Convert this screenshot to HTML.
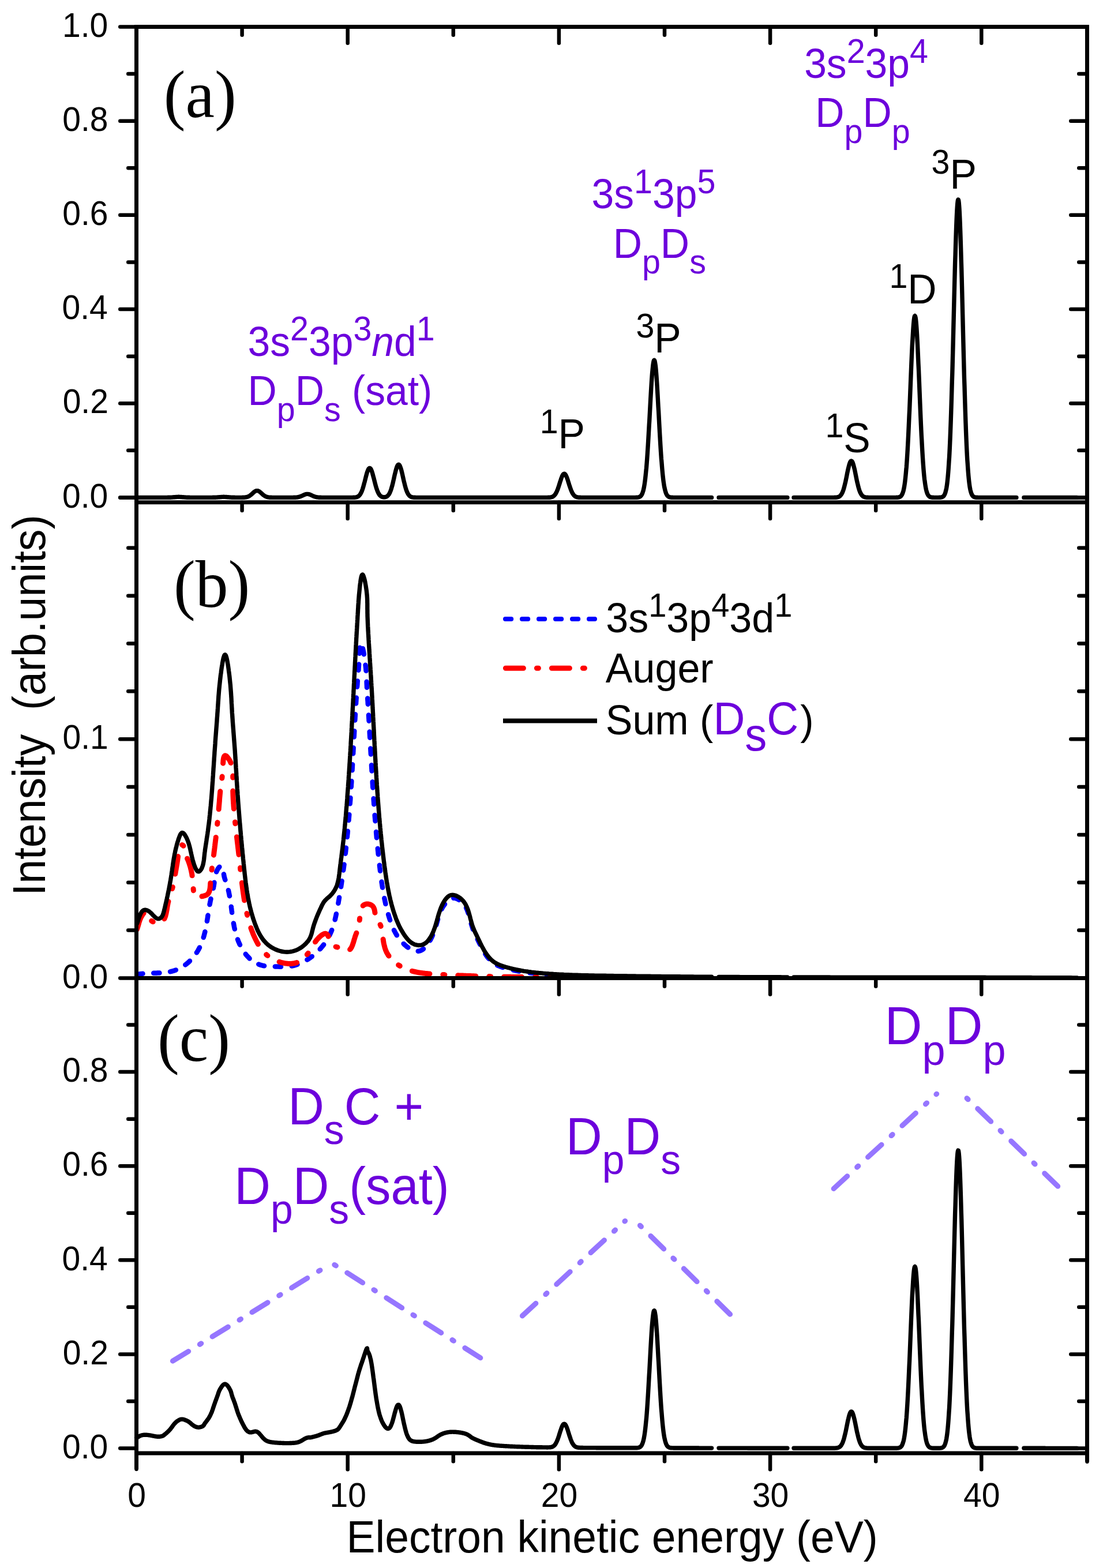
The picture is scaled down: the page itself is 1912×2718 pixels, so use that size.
<!DOCTYPE html>
<html><head><meta charset="utf-8"><title>Electron kinetic energy spectra</title>
<style>html,body{margin:0;padding:0;background:#fff;}svg{display:block;} text{white-space:pre;}</style></head>
<body><svg width="1912" height="2718" viewBox="0 0 1912 2718"><path d="M236.5,862.4 L236.9,862.4 L237.3,862.4 L237.7,862.4 L238.1,862.4 L238.5,862.4 L238.9,862.4 L239.4,862.4 L239.8,862.4 L240.2,862.4 L240.6,862.4 L241.0,862.4 L241.4,862.4 L241.8,862.4 L242.2,862.4 L242.6,862.4 L243.0,862.4 L243.4,862.4 L243.8,862.4 L244.2,862.4 L244.7,862.4 L245.1,862.4 L245.5,862.4 L245.9,862.4 L246.3,862.4 L246.7,862.4 L247.1,862.4 L247.5,862.4 L247.9,862.4 L248.3,862.4 L248.7,862.4 L249.1,862.4 L249.5,862.4 L250.0,862.4 L250.4,862.4 L250.8,862.4 L251.2,862.4 L251.6,862.4 L252.0,862.4 L252.4,862.4 L252.8,862.4 L253.2,862.4 L253.6,862.4 L254.0,862.4 L254.4,862.4 L254.8,862.4 L255.3,862.4 L255.7,862.4 L256.1,862.4 L256.5,862.4 L256.9,862.4 L257.3,862.4 L257.7,862.4 L258.1,862.4 L258.5,862.4 L258.9,862.4 L259.3,862.4 L259.7,862.4 L260.1,862.4 L260.6,862.4 L261.0,862.4 L261.4,862.4 L261.8,862.4 L262.2,862.4 L262.6,862.4 L263.0,862.4 L263.4,862.4 L263.8,862.4 L264.2,862.4 L264.6,862.4 L265.0,862.4 L265.4,862.4 L265.9,862.4 L266.3,862.4 L266.7,862.4 L267.1,862.4 L267.5,862.4 L267.9,862.4 L268.3,862.4 L268.7,862.4 L269.1,862.4 L269.5,862.4 L269.9,862.4 L270.3,862.4 L270.7,862.4 L271.2,862.4 L271.6,862.4 L272.0,862.4 L272.4,862.4 L272.8,862.4 L273.2,862.4 L273.6,862.4 L274.0,862.4 L274.4,862.4 L274.8,862.4 L275.2,862.4 L275.6,862.4 L276.0,862.4 L276.5,862.4 L276.9,862.4 L277.3,862.4 L277.7,862.4 L278.1,862.4 L278.5,862.4 L278.9,862.4 L279.3,862.4 L279.7,862.4 L280.1,862.4 L280.5,862.4 L280.9,862.4 L281.3,862.4 L281.8,862.4 L282.2,862.4 L282.6,862.4 L283.0,862.4 L283.4,862.4 L283.8,862.4 L284.2,862.4 L284.6,862.4 L285.0,862.4 L285.4,862.4 L285.8,862.4 L286.2,862.4 L286.6,862.4 L287.1,862.4 L287.5,862.4 L287.9,862.4 L288.3,862.4 L288.7,862.4 L289.1,862.4 L289.5,862.4 L289.9,862.4 L290.3,862.4 L290.7,862.3 L291.1,862.3 L291.5,862.3 L291.9,862.3 L292.4,862.3 L292.8,862.3 L293.2,862.3 L293.6,862.3 L294.0,862.3 L294.4,862.2 L294.8,862.2 L295.2,862.2 L295.6,862.2 L296.0,862.2 L296.4,862.2 L296.8,862.1 L297.2,862.1 L297.7,862.1 L298.1,862.1 L298.5,862.0 L298.9,862.0 L299.3,862.0 L299.7,861.9 L300.1,861.9 L300.5,861.9 L300.9,861.8 L301.3,861.8 L301.7,861.8 L302.1,861.7 L302.5,861.7 L303.0,861.7 L303.4,861.6 L303.8,861.6 L304.2,861.6 L304.6,861.5 L305.0,861.5 L305.4,861.5 L305.8,861.5 L306.2,861.4 L306.6,861.4 L307.0,861.4 L307.4,861.4 L307.8,861.4 L308.3,861.4 L308.7,861.3 L309.1,861.3 L309.5,861.3 L309.9,861.3 L310.3,861.3 L310.7,861.3 L311.1,861.4 L311.5,861.4 L311.9,861.4 L312.3,861.4 L312.7,861.4 L313.1,861.4 L313.6,861.5 L314.0,861.5 L314.4,861.5 L314.8,861.5 L315.2,861.6 L315.6,861.6 L316.0,861.6 L316.4,861.7 L316.8,861.7 L317.2,861.7 L317.6,861.8 L318.0,861.8 L318.4,861.8 L318.9,861.9 L319.3,861.9 L319.7,861.9 L320.1,862.0 L320.5,862.0 L320.9,862.0 L321.3,862.0 L321.7,862.1 L322.1,862.1 L322.5,862.1 L322.9,862.1 L323.3,862.2 L323.7,862.2 L324.2,862.2 L324.6,862.2 L325.0,862.2 L325.4,862.3 L325.8,862.3 L326.2,862.3 L326.6,862.3 L327.0,862.3 L327.4,862.3 L327.8,862.3 L328.2,862.3 L328.6,862.3 L329.0,862.4 L329.5,862.4 L329.9,862.4 L330.3,862.4 L330.7,862.4 L331.1,862.4 L331.5,862.4 L331.9,862.4 L332.3,862.4 L332.7,862.4 L333.1,862.4 L333.5,862.4 L333.9,862.4 L334.3,862.4 L334.8,862.4 L335.2,862.4 L335.6,862.4 L336.0,862.4 L336.4,862.4 L336.8,862.4 L337.2,862.4 L337.6,862.4 L338.0,862.4 L338.4,862.4 L338.8,862.4 L339.2,862.4 L339.6,862.4 L340.1,862.4 L340.5,862.4 L340.9,862.4 L341.3,862.4 L341.7,862.4 L342.1,862.4 L342.5,862.4 L342.9,862.4 L343.3,862.4 L343.7,862.4 L344.1,862.4 L344.5,862.4 L344.9,862.4 L345.4,862.4 L345.8,862.4 L346.2,862.4 L346.6,862.4 L347.0,862.4 L347.4,862.4 L347.8,862.4 L348.2,862.4 L348.6,862.4 L349.0,862.4 L349.4,862.4 L349.8,862.4 L350.2,862.4 L350.7,862.4 L351.1,862.4 L351.5,862.4 L351.9,862.4 L352.3,862.4 L352.7,862.4 L353.1,862.4 L353.5,862.4 L353.9,862.4 L354.3,862.4 L354.7,862.4 L355.1,862.4 L355.5,862.4 L356.0,862.4 L356.4,862.4 L356.8,862.4 L357.2,862.4 L357.6,862.4 L358.0,862.4 L358.4,862.4 L358.8,862.4 L359.2,862.4 L359.6,862.4 L360.0,862.4 L360.4,862.4 L360.8,862.4 L361.3,862.4 L361.7,862.4 L362.1,862.4 L362.5,862.4 L362.9,862.4 L363.3,862.4 L363.7,862.4 L364.1,862.4 L364.5,862.4 L364.9,862.4 L365.3,862.4 L365.7,862.4 L366.1,862.4 L366.6,862.4 L367.0,862.4 L367.4,862.4 L367.8,862.4 L368.2,862.4 L368.6,862.3 L369.0,862.3 L369.4,862.3 L369.8,862.3 L370.2,862.3 L370.6,862.3 L371.0,862.3 L371.4,862.3 L371.9,862.3 L372.3,862.3 L372.7,862.2 L373.1,862.2 L373.5,862.2 L373.9,862.2 L374.3,862.2 L374.7,862.1 L375.1,862.1 L375.5,862.1 L375.9,862.1 L376.3,862.0 L376.7,862.0 L377.2,862.0 L377.6,862.0 L378.0,861.9 L378.4,861.9 L378.8,861.9 L379.2,861.8 L379.6,861.8 L380.0,861.8 L380.4,861.7 L380.8,861.7 L381.2,861.7 L381.6,861.6 L382.0,861.6 L382.5,861.6 L382.9,861.5 L383.3,861.5 L383.7,861.5 L384.1,861.5 L384.5,861.4 L384.9,861.4 L385.3,861.4 L385.7,861.4 L386.1,861.4 L386.5,861.4 L386.9,861.3 L387.3,861.3 L387.8,861.3 L388.2,861.3 L388.6,861.3 L389.0,861.4 L389.4,861.4 L389.8,861.4 L390.2,861.4 L390.6,861.4 L391.0,861.4 L391.4,861.5 L391.8,861.5 L392.2,861.5 L392.6,861.5 L393.1,861.6 L393.5,861.6 L393.9,861.6 L394.3,861.7 L394.7,861.7 L395.1,861.7 L395.5,861.8 L395.9,861.8 L396.3,861.8 L396.7,861.9 L397.1,861.9 L397.5,861.9 L397.9,862.0 L398.3,862.0 L398.8,862.0 L399.2,862.0 L399.6,862.1 L400.0,862.1 L400.4,862.1 L400.8,862.1 L401.2,862.2 L401.6,862.2 L402.0,862.2 L402.4,862.2 L402.8,862.2 L403.2,862.3 L403.6,862.3 L404.1,862.3 L404.5,862.3 L404.9,862.3 L405.3,862.3 L405.7,862.3 L406.1,862.3 L406.5,862.3 L406.9,862.3 L407.3,862.4 L407.7,862.4 L408.1,862.4 L408.5,862.4 L408.9,862.4 L409.4,862.4 L409.8,862.4 L410.2,862.4 L410.6,862.4 L411.0,862.4 L411.4,862.4 L411.8,862.4 L412.2,862.4 L412.6,862.4 L413.0,862.4 L413.4,862.4 L413.8,862.4 L414.2,862.4 L414.7,862.4 L415.1,862.4 L415.5,862.4 L415.9,862.4 L416.3,862.4 L416.7,862.4 L417.1,862.4 L417.5,862.4 L417.9,862.4 L418.3,862.4 L418.7,862.4 L419.1,862.4 L419.5,862.4 L420.0,862.3 L420.4,862.3 L420.8,862.3 L421.2,862.3 L421.6,862.3 L422.0,862.3 L422.4,862.3 L422.8,862.2 L423.2,862.2 L423.6,862.2 L424.0,862.1 L424.4,862.1 L424.8,862.1 L425.3,862.0 L425.7,862.0 L426.1,861.9 L426.5,861.8 L426.9,861.7 L427.3,861.7 L427.7,861.6 L428.1,861.5 L428.5,861.3 L428.9,861.2 L429.3,861.1 L429.7,860.9 L430.1,860.8 L430.6,860.6 L431.0,860.4 L431.4,860.2 L431.8,860.0 L432.2,859.7 L432.6,859.5 L433.0,859.2 L433.4,858.9 L433.8,858.6 L434.2,858.3 L434.6,858.0 L435.0,857.7 L435.4,857.4 L435.9,857.0 L436.3,856.6 L436.7,856.3 L437.1,855.9 L437.5,855.5 L437.9,855.2 L438.3,854.8 L438.7,854.4 L439.1,854.0 L439.5,853.7 L439.9,853.3 L440.3,853.0 L440.7,852.7 L441.2,852.4 L441.6,852.1 L442.0,851.8 L442.4,851.5 L442.8,851.3 L443.2,851.1 L443.6,851.0 L444.0,850.8 L444.4,850.7 L444.8,850.6 L445.2,850.6 L445.6,850.6 L446.0,850.6 L446.5,850.6 L446.9,850.7 L447.3,850.8 L447.7,851.0 L448.1,851.2 L448.5,851.4 L448.9,851.6 L449.3,851.8 L449.7,852.1 L450.1,852.4 L450.5,852.7 L450.9,853.1 L451.3,853.4 L451.8,853.8 L452.2,854.1 L452.6,854.5 L453.0,854.9 L453.4,855.2 L453.8,855.6 L454.2,856.0 L454.6,856.4 L455.0,856.7 L455.4,857.1 L455.8,857.4 L456.2,857.8 L456.6,858.1 L457.1,858.4 L457.5,858.7 L457.9,859.0 L458.3,859.3 L458.7,859.5 L459.1,859.8 L459.5,860.0 L459.9,860.2 L460.3,860.4 L460.7,860.6 L461.1,860.8 L461.5,861.0 L461.9,861.1 L462.4,861.2 L462.8,861.4 L463.2,861.5 L463.6,861.6 L464.0,861.7 L464.4,861.8 L464.8,861.8 L465.2,861.9 L465.6,862.0 L466.0,862.0 L466.4,862.1 L466.8,862.1 L467.2,862.2 L467.7,862.2 L468.1,862.2 L468.5,862.2 L468.9,862.3 L469.3,862.3 L469.7,862.3 L470.1,862.3 L470.5,862.3 L470.9,862.3 L471.3,862.4 L471.7,862.4 L472.1,862.4 L472.5,862.4 L473.0,862.4 L473.4,862.4 L473.8,862.4 L474.2,862.4 L474.6,862.4 L475.0,862.4 L475.4,862.4 L475.8,862.4 L476.2,862.4 L476.6,862.4 L477.0,862.4 L477.4,862.4 L477.8,862.4 L478.3,862.4 L478.7,862.4 L479.1,862.4 L479.5,862.4 L479.9,862.4 L480.3,862.4 L480.7,862.4 L481.1,862.4 L481.5,862.4 L481.9,862.4 L482.3,862.4 L482.7,862.4 L483.1,862.4 L483.6,862.4 L484.0,862.4 L484.4,862.4 L484.8,862.4 L485.2,862.4 L485.6,862.4 L486.0,862.4 L486.4,862.4 L486.8,862.4 L487.2,862.4 L487.6,862.4 L488.0,862.4 L488.4,862.4 L488.9,862.4 L489.3,862.4 L489.7,862.4 L490.1,862.4 L490.5,862.4 L490.9,862.4 L491.3,862.4 L491.7,862.4 L492.1,862.4 L492.5,862.4 L492.9,862.4 L493.3,862.4 L493.7,862.4 L494.2,862.4 L494.6,862.4 L495.0,862.4 L495.4,862.4 L495.8,862.4 L496.2,862.4 L496.6,862.4 L497.0,862.4 L497.4,862.4 L497.8,862.4 L498.2,862.4 L498.6,862.4 L499.0,862.4 L499.5,862.4 L499.9,862.4 L500.3,862.4 L500.7,862.4 L501.1,862.4 L501.5,862.4 L501.9,862.4 L502.3,862.4 L502.7,862.4 L503.1,862.4 L503.5,862.4 L503.9,862.4 L504.3,862.4 L504.8,862.4 L505.2,862.4 L505.6,862.4 L506.0,862.4 L506.4,862.4 L506.8,862.4 L507.2,862.4 L507.6,862.4 L508.0,862.4 L508.4,862.4 L508.8,862.3 L509.2,862.3 L509.6,862.3 L510.1,862.3 L510.5,862.3 L510.9,862.3 L511.3,862.3 L511.7,862.2 L512.1,862.2 L512.5,862.2 L512.9,862.2 L513.3,862.1 L513.7,862.1 L514.1,862.1 L514.5,862.0 L514.9,862.0 L515.4,861.9 L515.8,861.8 L516.2,861.8 L516.6,861.7 L517.0,861.6 L517.4,861.5 L517.8,861.5 L518.2,861.4 L518.6,861.2 L519.0,861.1 L519.4,861.0 L519.8,860.9 L520.2,860.7 L520.7,860.6 L521.1,860.5 L521.5,860.3 L521.9,860.1 L522.3,860.0 L522.7,859.8 L523.1,859.6 L523.5,859.4 L523.9,859.2 L524.3,859.0 L524.7,858.9 L525.1,858.7 L525.5,858.5 L526.0,858.3 L526.4,858.1 L526.8,857.9 L527.2,857.7 L527.6,857.6 L528.0,857.4 L528.4,857.2 L528.8,857.1 L529.2,857.0 L529.6,856.8 L530.0,856.7 L530.4,856.6 L530.8,856.5 L531.3,856.5 L531.7,856.4 L532.1,856.4 L532.5,856.4 L532.9,856.4 L533.3,856.4 L533.7,856.4 L534.1,856.5 L534.5,856.5 L534.9,856.6 L535.3,856.7 L535.7,856.8 L536.1,856.9 L536.6,857.0 L537.0,857.2 L537.4,857.3 L537.8,857.5 L538.2,857.7 L538.6,857.8 L539.0,858.0 L539.4,858.2 L539.8,858.4 L540.2,858.6 L540.6,858.8 L541.0,859.0 L541.4,859.2 L541.9,859.4 L542.3,859.5 L542.7,859.7 L543.1,859.9 L543.5,860.1 L543.9,860.2 L544.3,860.4 L544.7,860.5 L545.1,860.7 L545.5,860.8 L545.9,861.0 L546.3,861.1 L546.7,861.2 L547.2,861.3 L547.6,861.4 L548.0,861.5 L548.4,861.6 L548.8,861.7 L549.2,861.8 L549.6,861.8 L550.0,861.9 L550.4,861.9 L550.8,862.0 L551.2,862.0 L551.6,862.1 L552.0,862.1 L552.5,862.2 L552.9,862.2 L553.3,862.2 L553.7,862.2 L554.1,862.3 L554.5,862.3 L554.9,862.3 L555.3,862.3 L555.7,862.3 L556.1,862.3 L556.5,862.3 L556.9,862.4 L557.3,862.4 L557.8,862.4 L558.2,862.4 L558.6,862.4 L559.0,862.4 L559.4,862.4 L559.8,862.4 L560.2,862.4 L560.6,862.4 L561.0,862.4 L561.4,862.4 L561.8,862.4 L562.2,862.4 L562.6,862.4 L563.1,862.4 L563.5,862.4 L563.9,862.4 L564.3,862.4 L564.7,862.4 L565.1,862.4 L565.5,862.4 L565.9,862.4 L566.3,862.4 L566.7,862.4 L567.1,862.4 L567.5,862.4 L567.9,862.4 L568.4,862.4 L568.8,862.4 L569.2,862.4 L569.6,862.4 L570.0,862.4 L570.4,862.4 L570.8,862.4 L571.2,862.4 L571.6,862.4 L572.0,862.4 L572.4,862.4 L572.8,862.4 L573.2,862.4 L573.7,862.4 L574.1,862.4 L574.5,862.4 L574.9,862.4 L575.3,862.4 L575.7,862.4 L576.1,862.4 L576.5,862.4 L576.9,862.4 L577.3,862.4 L577.7,862.4 L578.1,862.4 L578.5,862.4 L579.0,862.4 L579.4,862.4 L579.8,862.4 L580.2,862.4 L580.6,862.4 L581.0,862.4 L581.4,862.4 L581.8,862.4 L582.2,862.4 L582.6,862.4 L583.0,862.4 L583.4,862.4 L583.8,862.4 L584.3,862.4 L584.7,862.4 L585.1,862.4 L585.5,862.4 L585.9,862.4 L586.3,862.4 L586.7,862.4 L587.1,862.4 L587.5,862.4 L587.9,862.4 L588.3,862.4 L588.7,862.4 L589.1,862.4 L589.6,862.4 L590.0,862.4 L590.4,862.4 L590.8,862.4 L591.2,862.4 L591.6,862.4 L592.0,862.4 L592.4,862.4 L592.8,862.4 L593.2,862.4 L593.6,862.4 L594.0,862.4 L594.4,862.4 L594.9,862.4 L595.3,862.4 L595.7,862.4 L596.1,862.4 L596.5,862.4 L596.9,862.4 L597.3,862.4 L597.7,862.4 L598.1,862.4 L598.5,862.4 L598.9,862.4 L599.3,862.4 L599.7,862.4 L600.2,862.4 L600.6,862.4 L601.0,862.4 L601.4,862.4 L601.8,862.4 L602.2,862.4 L602.6,862.4 L603.0,862.4 L603.4,862.4 L603.8,862.4 L604.2,862.4 L604.6,862.4 L605.0,862.4 L605.5,862.4 L605.9,862.4 L606.3,862.4 L606.7,862.4 L607.1,862.4 L607.5,862.4 L607.9,862.4 L608.3,862.4 L608.7,862.4 L609.1,862.4 L609.5,862.4 L609.9,862.4 L610.3,862.4 L610.8,862.4 L611.2,862.4 L611.6,862.4 L612.0,862.3 L612.4,862.3 L612.8,862.3 L613.2,862.3 L613.6,862.3 L614.0,862.3 L614.4,862.2 L614.8,862.2 L615.2,862.2 L615.6,862.1 L616.1,862.1 L616.5,862.0 L616.9,862.0 L617.3,861.9 L617.7,861.8 L618.1,861.7 L618.5,861.6 L618.9,861.4 L619.3,861.3 L619.7,861.1 L620.1,860.9 L620.5,860.7 L620.9,860.4 L621.4,860.2 L621.8,859.8 L622.2,859.5 L622.6,859.1 L623.0,858.7 L623.4,858.2 L623.8,857.7 L624.2,857.1 L624.6,856.5 L625.0,855.9 L625.4,855.1 L625.8,854.4 L626.2,853.5 L626.7,852.6 L627.1,851.7 L627.5,850.6 L627.9,849.5 L628.3,848.4 L628.7,847.2 L629.1,845.9 L629.5,844.6 L629.9,843.2 L630.3,841.8 L630.7,840.3 L631.1,838.8 L631.5,837.2 L632.0,835.7 L632.4,834.0 L632.8,832.4 L633.2,830.8 L633.6,829.2 L634.0,827.6 L634.4,826.0 L634.8,824.5 L635.2,823.0 L635.6,821.5 L636.0,820.1 L636.4,818.8 L636.8,817.6 L637.3,816.4 L637.7,815.4 L638.1,814.4 L638.5,813.6 L638.9,812.9 L639.3,812.3 L639.7,811.9 L640.1,811.6 L640.5,811.4 L640.9,811.4 L641.3,811.5 L641.7,811.8 L642.1,812.2 L642.6,812.7 L643.0,813.4 L643.4,814.1 L643.8,815.0 L644.2,816.0 L644.6,817.2 L645.0,818.4 L645.4,819.7 L645.8,821.0 L646.2,822.5 L646.6,824.0 L647.0,825.5 L647.4,827.1 L647.9,828.7 L648.3,830.3 L648.7,831.9 L649.1,833.5 L649.5,835.1 L649.9,836.7 L650.3,838.3 L650.7,839.8 L651.1,841.3 L651.5,842.7 L651.9,844.1 L652.3,845.5 L652.7,846.8 L653.2,848.0 L653.6,849.2 L654.0,850.3 L654.4,851.3 L654.8,852.3 L655.2,853.2 L655.6,854.1 L656.0,854.9 L656.4,855.6 L656.8,856.3 L657.2,856.9 L657.6,857.5 L658.0,858.1 L658.5,858.5 L658.9,859.0 L659.3,859.4 L659.7,859.7 L660.1,860.0 L660.5,860.3 L660.9,860.6 L661.3,860.8 L661.7,861.0 L662.1,861.2 L662.5,861.3 L662.9,861.4 L663.3,861.5 L663.8,861.6 L664.2,861.7 L664.6,861.7 L665.0,861.8 L665.4,861.8 L665.8,861.8 L666.2,861.8 L666.6,861.8 L667.0,861.7 L667.4,861.7 L667.8,861.6 L668.2,861.5 L668.6,861.4 L669.1,861.3 L669.5,861.1 L669.9,860.9 L670.3,860.7 L670.7,860.5 L671.1,860.2 L671.5,859.9 L671.9,859.5 L672.3,859.2 L672.7,858.7 L673.1,858.3 L673.5,857.7 L673.9,857.2 L674.4,856.6 L674.8,855.9 L675.2,855.1 L675.6,854.3 L676.0,853.5 L676.4,852.5 L676.8,851.5 L677.2,850.4 L677.6,849.3 L678.0,848.1 L678.4,846.8 L678.8,845.4 L679.2,844.0 L679.7,842.5 L680.1,841.0 L680.5,839.4 L680.9,837.8 L681.3,836.1 L681.7,834.3 L682.1,832.5 L682.5,830.8 L682.9,828.9 L683.3,827.1 L683.7,825.3 L684.1,823.5 L684.5,821.7 L685.0,820.0 L685.4,818.3 L685.8,816.7 L686.2,815.1 L686.6,813.6 L687.0,812.3 L687.4,811.0 L687.8,809.8 L688.2,808.7 L688.6,807.8 L689.0,807.0 L689.4,806.4 L689.8,805.9 L690.3,805.5 L690.7,805.3 L691.1,805.3 L691.5,805.4 L691.9,805.7 L692.3,806.1 L692.7,806.7 L693.1,807.4 L693.5,808.3 L693.9,809.3 L694.3,810.4 L694.7,811.7 L695.1,813.0 L695.6,814.4 L696.0,816.0 L696.4,817.6 L696.8,819.2 L697.2,821.0 L697.6,822.7 L698.0,824.5 L698.4,826.3 L698.8,828.1 L699.2,829.9 L699.6,831.7 L700.0,833.5 L700.4,835.3 L700.9,837.0 L701.3,838.7 L701.7,840.3 L702.1,841.9 L702.5,843.4 L702.9,844.8 L703.3,846.2 L703.7,847.5 L704.1,848.8 L704.5,849.9 L704.9,851.0 L705.3,852.1 L705.7,853.0 L706.2,853.9 L706.6,854.8 L707.0,855.5 L707.4,856.3 L707.8,856.9 L708.2,857.5 L708.6,858.0 L709.0,858.5 L709.4,859.0 L709.8,859.4 L710.2,859.8 L710.6,860.1 L711.0,860.4 L711.5,860.6 L711.9,860.9 L712.3,861.1 L712.7,861.2 L713.1,861.4 L713.5,861.5 L713.9,861.7 L714.3,861.8 L714.7,861.9 L715.1,861.9 L715.5,862.0 L715.9,862.1 L716.3,862.1 L716.8,862.2 L717.2,862.2 L717.6,862.2 L718.0,862.3 L718.4,862.3 L718.8,862.3 L719.2,862.3 L719.6,862.3 L720.0,862.3 L720.4,862.4 L720.8,862.4 L721.2,862.4 L721.6,862.4 L722.0,862.4 L722.5,862.4 L722.9,862.4 L723.3,862.4 L723.7,862.4 L724.1,862.4 L724.5,862.4 L724.9,862.4 L725.3,862.4 L725.7,862.4 L726.1,862.4 L726.5,862.4 L726.9,862.4 L727.3,862.4 L727.8,862.4 L728.2,862.4 L728.6,862.4 L729.0,862.4 L729.4,862.4 L729.8,862.4 L730.2,862.4 L730.6,862.4 L731.0,862.4 L731.4,862.4 L731.8,862.4 L732.2,862.4 L732.6,862.4 L733.1,862.4 L733.5,862.4 L733.9,862.4 L734.3,862.4 L734.7,862.4 L735.1,862.4 L735.5,862.4 L735.9,862.4 L736.3,862.4 L736.7,862.4 L737.1,862.4 L737.5,862.4 L737.9,862.4 L738.4,862.4 L738.8,862.4 L739.2,862.4 L739.6,862.4 L740.0,862.4 L740.4,862.4 L740.8,862.4 L741.2,862.4 L741.6,862.4 L742.0,862.4 L742.4,862.4 L742.8,862.4 L743.2,862.4 L743.7,862.4 L744.1,862.4 L744.5,862.4 L744.9,862.4 L745.3,862.4 L745.7,862.4 L746.1,862.4 L746.5,862.4 L746.9,862.4 L747.3,862.4 L747.7,862.4 L748.1,862.4 L748.5,862.4 L749.0,862.4 L749.4,862.4 L749.8,862.4 L750.2,862.4 L750.6,862.4 L751.0,862.4 L751.4,862.4 L751.8,862.4 L752.2,862.4 L752.6,862.4 L753.0,862.4 L753.4,862.4 L753.8,862.4 L754.3,862.4 L754.7,862.4 L755.1,862.4 L755.5,862.4 L755.9,862.4 L756.3,862.4 L756.7,862.4 L757.1,862.4 L757.5,862.4 L757.9,862.4 L758.3,862.4 L758.7,862.4 L759.1,862.4 L759.6,862.4 L760.0,862.4 L760.4,862.4 L760.8,862.4 L761.2,862.4 L761.6,862.4 L762.0,862.4 L762.4,862.4 L762.8,862.4 L763.2,862.4 L763.6,862.4 L764.0,862.4 L764.4,862.4 L764.9,862.4 L765.3,862.4 L765.7,862.4 L766.1,862.4 L766.5,862.4 L766.9,862.4 L767.3,862.4 L767.7,862.4 L768.1,862.4 L768.5,862.4 L768.9,862.4 L769.3,862.4 L769.7,862.4 L770.2,862.4 L770.6,862.4 L771.0,862.4 L771.4,862.4 L771.8,862.4 L772.2,862.4 L772.6,862.4 L773.0,862.4 L773.4,862.4 L773.8,862.4 L774.2,862.4 L774.6,862.4 L775.0,862.4 L775.5,862.4 L775.9,862.4 L776.3,862.4 L776.7,862.4 L777.1,862.4 L777.5,862.4 L777.9,862.4 L778.3,862.4 L778.7,862.4 L779.1,862.4 L779.5,862.4 L779.9,862.4 L780.3,862.4 L780.8,862.4 L781.2,862.4 L781.6,862.4 L782.0,862.4 L782.4,862.4 L782.8,862.4 L783.2,862.4 L783.6,862.4 L784.0,862.4 L784.4,862.4 L784.8,862.4 L785.2,862.4 L785.6,862.4 L786.1,862.4 L786.5,862.4 L786.9,862.4 L787.3,862.4 L787.7,862.4 L788.1,862.4 L788.5,862.4 L788.9,862.4 L789.3,862.4 L789.7,862.4 L790.1,862.4 L790.5,862.4 L790.9,862.4 L791.4,862.4 L791.8,862.4 L792.2,862.4 L792.6,862.4 L793.0,862.4 L793.4,862.4 L793.8,862.4 L794.2,862.4 L794.6,862.4 L795.0,862.4 L795.4,862.4 L795.8,862.4 L796.2,862.4 L796.7,862.4 L797.1,862.4 L797.5,862.4 L797.9,862.4 L798.3,862.4 L798.7,862.4 L799.1,862.4 L799.5,862.4 L799.9,862.4 L800.3,862.4 L800.7,862.4 L801.1,862.4 L801.5,862.4 L802.0,862.4 L802.4,862.4 L802.8,862.4 L803.2,862.4 L803.6,862.4 L804.0,862.4 L804.4,862.4 L804.8,862.4 L805.2,862.4 L805.6,862.4 L806.0,862.4 L806.4,862.4 L806.8,862.4 L807.3,862.4 L807.7,862.4 L808.1,862.4 L808.5,862.4 L808.9,862.4 L809.3,862.4 L809.7,862.4 L810.1,862.4 L810.5,862.4 L810.9,862.4 L811.3,862.4 L811.7,862.4 L812.1,862.4 L812.6,862.4 L813.0,862.4 L813.4,862.4 L813.8,862.4 L814.2,862.4 L814.6,862.4 L815.0,862.4 L815.4,862.4 L815.8,862.4 L816.2,862.4 L816.6,862.4 L817.0,862.4 L817.4,862.4 L817.9,862.4 L818.3,862.4 L818.7,862.4 L819.1,862.4 L819.5,862.4 L819.9,862.4 L820.3,862.4 L820.7,862.4 L821.1,862.4 L821.5,862.4 L821.9,862.4 L822.3,862.4 L822.7,862.4 L823.2,862.4 L823.6,862.4 L824.0,862.4 L824.4,862.4 L824.8,862.4 L825.2,862.4 L825.6,862.4 L826.0,862.4 L826.4,862.4 L826.8,862.4 L827.2,862.4 L827.6,862.4 L828.0,862.4 L828.5,862.4 L828.9,862.4 L829.3,862.4 L829.7,862.4 L830.1,862.4 L830.5,862.4 L830.9,862.4 L831.3,862.4 L831.7,862.4 L832.1,862.4 L832.5,862.4 L832.9,862.4 L833.3,862.4 L833.8,862.4 L834.2,862.4 L834.6,862.4 L835.0,862.4 L835.4,862.4 L835.8,862.4 L836.2,862.4 L836.6,862.4 L837.0,862.4 L837.4,862.4 L837.8,862.4 L838.2,862.4 L838.6,862.4 L839.1,862.4 L839.5,862.4 L839.9,862.4 L840.3,862.4 L840.7,862.4 L841.1,862.4 L841.5,862.4 L841.9,862.4 L842.3,862.4 L842.7,862.4 L843.1,862.4 L843.5,862.4 L843.9,862.4 L844.4,862.4 L844.8,862.4 L845.2,862.4 L845.6,862.4 L846.0,862.4 L846.4,862.4 L846.8,862.4 L847.2,862.4 L847.6,862.4 L848.0,862.4 L848.4,862.4 L848.8,862.4 L849.2,862.4 L849.7,862.4 L850.1,862.4 L850.5,862.4 L850.9,862.4 L851.3,862.4 L851.7,862.4 L852.1,862.4 L852.5,862.4 L852.9,862.4 L853.3,862.4 L853.7,862.4 L854.1,862.4 L854.5,862.4 L855.0,862.4 L855.4,862.4 L855.8,862.4 L856.2,862.4 L856.6,862.4 L857.0,862.4 L857.4,862.4 L857.8,862.4 L858.2,862.4 L858.6,862.4 L859.0,862.4 L859.4,862.4 L859.8,862.4 L860.3,862.4 L860.7,862.4 L861.1,862.4 L861.5,862.4 L861.9,862.4 L862.3,862.4 L862.7,862.4 L863.1,862.4 L863.5,862.4 L863.9,862.4 L864.3,862.4 L864.7,862.4 L865.1,862.4 L865.6,862.4 L866.0,862.4 L866.4,862.4 L866.8,862.4 L867.2,862.4 L867.6,862.4 L868.0,862.4 L868.4,862.4 L868.8,862.4 L869.2,862.4 L869.6,862.4 L870.0,862.4 L870.4,862.4 L870.9,862.4 L871.3,862.4 L871.7,862.4 L872.1,862.4 L872.5,862.4 L872.9,862.4 L873.3,862.4 L873.7,862.4 L874.1,862.4 L874.5,862.4 L874.9,862.4 L875.3,862.4 L875.7,862.4 L876.2,862.4 L876.6,862.4 L877.0,862.4 L877.4,862.4 L877.8,862.4 L878.2,862.4 L878.6,862.4 L879.0,862.4 L879.4,862.4 L879.8,862.4 L880.2,862.4 L880.6,862.4 L881.0,862.4 L881.5,862.4 L881.9,862.4 L882.3,862.4 L882.7,862.4 L883.1,862.4 L883.5,862.4 L883.9,862.4 L884.3,862.4 L884.7,862.4 L885.1,862.4 L885.5,862.4 L885.9,862.4 L886.3,862.4 L886.8,862.4 L887.2,862.4 L887.6,862.4 L888.0,862.4 L888.4,862.4 L888.8,862.4 L889.2,862.4 L889.6,862.4 L890.0,862.4 L890.4,862.4 L890.8,862.4 L891.2,862.4 L891.6,862.4 L892.1,862.4 L892.5,862.4 L892.9,862.4 L893.3,862.4 L893.7,862.4 L894.1,862.4 L894.5,862.4 L894.9,862.4 L895.3,862.4 L895.7,862.4 L896.1,862.4 L896.5,862.4 L896.9,862.4 L897.4,862.4 L897.8,862.4 L898.2,862.4 L898.6,862.4 L899.0,862.4 L899.4,862.4 L899.8,862.4 L900.2,862.4 L900.6,862.4 L901.0,862.4 L901.4,862.4 L901.8,862.4 L902.2,862.4 L902.7,862.4 L903.1,862.4 L903.5,862.4 L903.9,862.4 L904.3,862.4 L904.7,862.4 L905.1,862.4 L905.5,862.4 L905.9,862.4 L906.3,862.4 L906.7,862.4 L907.1,862.4 L907.5,862.4 L908.0,862.4 L908.4,862.4 L908.8,862.4 L909.2,862.4 L909.6,862.4 L910.0,862.4 L910.4,862.4 L910.8,862.4 L911.2,862.4 L911.6,862.4 L912.0,862.4 L912.4,862.4 L912.8,862.4 L913.3,862.4 L913.7,862.4 L914.1,862.4 L914.5,862.4 L914.9,862.4 L915.3,862.4 L915.7,862.4 L916.1,862.4 L916.5,862.4 L916.9,862.4 L917.3,862.4 L917.7,862.4 L918.1,862.4 L918.6,862.4 L919.0,862.4 L919.4,862.4 L919.8,862.4 L920.2,862.4 L920.6,862.4 L921.0,862.4 L921.4,862.4 L921.8,862.4 L922.2,862.4 L922.6,862.4 L923.0,862.4 L923.4,862.4 L923.9,862.4 L924.3,862.4 L924.7,862.4 L925.1,862.4 L925.5,862.4 L925.9,862.4 L926.3,862.4 L926.7,862.4 L927.1,862.4 L927.5,862.4 L927.9,862.4 L928.3,862.4 L928.7,862.4 L929.2,862.4 L929.6,862.4 L930.0,862.4 L930.4,862.4 L930.8,862.4 L931.2,862.4 L931.6,862.4 L932.0,862.4 L932.4,862.4 L932.8,862.4 L933.2,862.4 L933.6,862.4 L934.0,862.4 L934.5,862.4 L934.9,862.4 L935.3,862.4 L935.7,862.4 L936.1,862.4 L936.5,862.4 L936.9,862.4 L937.3,862.4 L937.7,862.4 L938.1,862.4 L938.5,862.4 L938.9,862.4 L939.3,862.4 L939.8,862.4 L940.2,862.4 L940.6,862.4 L941.0,862.4 L941.4,862.4 L941.8,862.4 L942.2,862.4 L942.6,862.4 L943.0,862.4 L943.4,862.4 L943.8,862.4 L944.2,862.4 L944.6,862.4 L945.1,862.4 L945.5,862.4 L945.9,862.4 L946.3,862.4 L946.7,862.4 L947.1,862.4 L947.5,862.4 L947.9,862.4 L948.3,862.4 L948.7,862.4 L949.1,862.4 L949.5,862.4 L949.9,862.3 L950.4,862.3 L950.8,862.3 L951.2,862.3 L951.6,862.3 L952.0,862.3 L952.4,862.2 L952.8,862.2 L953.2,862.2 L953.6,862.1 L954.0,862.1 L954.4,862.0 L954.8,861.9 L955.2,861.8 L955.7,861.8 L956.1,861.6 L956.5,861.5 L956.9,861.4 L957.3,861.2 L957.7,861.1 L958.1,860.9 L958.5,860.7 L958.9,860.4 L959.3,860.1 L959.7,859.8 L960.1,859.5 L960.5,859.1 L961.0,858.7 L961.4,858.3 L961.8,857.8 L962.2,857.3 L962.6,856.7 L963.0,856.1 L963.4,855.4 L963.8,854.7 L964.2,854.0 L964.6,853.1 L965.0,852.3 L965.4,851.4 L965.8,850.4 L966.3,849.4 L966.7,848.3 L967.1,847.2 L967.5,846.1 L967.9,844.9 L968.3,843.7 L968.7,842.4 L969.1,841.2 L969.5,839.9 L969.9,838.6 L970.3,837.3 L970.7,835.9 L971.1,834.6 L971.6,833.4 L972.0,832.1 L972.4,830.9 L972.8,829.7 L973.2,828.5 L973.6,827.5 L974.0,826.4 L974.4,825.5 L974.8,824.6 L975.2,823.8 L975.6,823.2 L976.0,822.6 L976.4,822.1 L976.9,821.7 L977.3,821.4 L977.7,821.2 L978.1,821.2 L978.5,821.3 L978.9,821.4 L979.3,821.7 L979.7,822.1 L980.1,822.6 L980.5,823.2 L980.9,823.9 L981.3,824.7 L981.7,825.6 L982.2,826.5 L982.6,827.6 L983.0,828.6 L983.4,829.8 L983.8,831.0 L984.2,832.2 L984.6,833.5 L985.0,834.8 L985.4,836.1 L985.8,837.4 L986.2,838.7 L986.6,840.0 L987.0,841.3 L987.5,842.5 L987.9,843.8 L988.3,845.0 L988.7,846.2 L989.1,847.3 L989.5,848.4 L989.9,849.5 L990.3,850.5 L990.7,851.4 L991.1,852.4 L991.5,853.2 L991.9,854.0 L992.3,854.8 L992.8,855.5 L993.2,856.2 L993.6,856.8 L994.0,857.3 L994.4,857.9 L994.8,858.3 L995.2,858.8 L995.6,859.2 L996.0,859.5 L996.4,859.9 L996.8,860.2 L997.2,860.4 L997.6,860.7 L998.1,860.9 L998.5,861.1 L998.9,861.3 L999.3,861.4 L999.7,861.5 L1000.1,861.7 L1000.5,861.8 L1000.9,861.9 L1001.3,861.9 L1001.7,862.0 L1002.1,862.1 L1002.5,862.1 L1002.9,862.2 L1003.4,862.2 L1003.8,862.2 L1004.2,862.3 L1004.6,862.3 L1005.0,862.3 L1005.4,862.3 L1005.8,862.3 L1006.2,862.3 L1006.6,862.4 L1007.0,862.4 L1007.4,862.4 L1007.8,862.4 L1008.2,862.4 L1008.7,862.4 L1009.1,862.4 L1009.5,862.4 L1009.9,862.4 L1010.3,862.4 L1010.7,862.4 L1011.1,862.4 L1011.5,862.4 L1011.9,862.4 L1012.3,862.4 L1012.7,862.4 L1013.1,862.4 L1013.5,862.4 L1014.0,862.4 L1014.4,862.4 L1014.8,862.4 L1015.2,862.4 L1015.6,862.4 L1016.0,862.4 L1016.4,862.4 L1016.8,862.4 L1017.2,862.4 L1017.6,862.4 L1018.0,862.4 L1018.4,862.4 L1018.8,862.4 L1019.3,862.4 L1019.7,862.4 L1020.1,862.4 L1020.5,862.4 L1020.9,862.4 L1021.3,862.4 L1021.7,862.4 L1022.1,862.4 L1022.5,862.4 L1022.9,862.4 L1023.3,862.4 L1023.7,862.4 L1024.1,862.4 L1024.6,862.4 L1025.0,862.4 L1025.4,862.4 L1025.8,862.4 L1026.2,862.4 L1026.6,862.4 L1027.0,862.4 L1027.4,862.4 L1027.8,862.4 L1028.2,862.4 L1028.6,862.4 L1029.0,862.4 L1029.4,862.4 L1029.9,862.4 L1030.3,862.4 L1030.7,862.4 L1031.1,862.4 L1031.5,862.4 L1031.9,862.4 L1032.3,862.4 L1032.7,862.4 L1033.1,862.4 L1033.5,862.4 L1033.9,862.4 L1034.3,862.4 L1034.7,862.4 L1035.2,862.4 L1035.6,862.4 L1036.0,862.4 L1036.4,862.4 L1036.8,862.4 L1037.2,862.4 L1037.6,862.4 L1038.0,862.4 L1038.4,862.4 L1038.8,862.4 L1039.2,862.4 L1039.6,862.4 L1040.0,862.4 L1040.4,862.4 L1040.9,862.4 L1041.3,862.4 L1041.7,862.4 L1042.1,862.4 L1042.5,862.4 L1042.9,862.4 L1043.3,862.4 L1043.7,862.4 L1044.1,862.4 L1044.5,862.4 L1044.9,862.4 L1045.3,862.4 L1045.7,862.4 L1046.2,862.4 L1046.6,862.4 L1047.0,862.4 L1047.4,862.4 L1047.8,862.4 L1048.2,862.4 L1048.6,862.4 L1049.0,862.4 L1049.4,862.4 L1049.8,862.4 L1050.2,862.4 L1050.6,862.4 L1051.0,862.4 L1051.5,862.4 L1051.9,862.4 L1052.3,862.4 L1052.7,862.4 L1053.1,862.4 L1053.5,862.4 L1053.9,862.4 L1054.3,862.4 L1054.7,862.4 L1055.1,862.4 L1055.5,862.4 L1055.9,862.4 L1056.3,862.4 L1056.8,862.4 L1057.2,862.4 L1057.6,862.4 L1058.0,862.4 L1058.4,862.4 L1058.8,862.4 L1059.2,862.4 L1059.6,862.4 L1060.0,862.4 L1060.4,862.4 L1060.8,862.4 L1061.2,862.4 L1061.6,862.4 L1062.1,862.4 L1062.5,862.4 L1062.9,862.4 L1063.3,862.4 L1063.7,862.4 L1064.1,862.4 L1064.5,862.4 L1064.9,862.4 L1065.3,862.4 L1065.7,862.4 L1066.1,862.4 L1066.5,862.4 L1066.9,862.4 L1067.4,862.4 L1067.8,862.4 L1068.2,862.4 L1068.6,862.4 L1069.0,862.4 L1069.4,862.4 L1069.8,862.4 L1070.2,862.4 L1070.6,862.4 L1071.0,862.4 L1071.4,862.4 L1071.8,862.4 L1072.2,862.4 L1072.7,862.4 L1073.1,862.4 L1073.5,862.4 L1073.9,862.4 L1074.3,862.4 L1074.7,862.4 L1075.1,862.4 L1075.5,862.4 L1075.9,862.4 L1076.3,862.4 L1076.7,862.4 L1077.1,862.4 L1077.5,862.4 L1078.0,862.4 L1078.4,862.4 L1078.8,862.4 L1079.2,862.4 L1079.6,862.4 L1080.0,862.4 L1080.4,862.4 L1080.8,862.4 L1081.2,862.4 L1081.6,862.4 L1082.0,862.4 L1082.4,862.4 L1082.8,862.4 L1083.3,862.4 L1083.7,862.4 L1084.1,862.4 L1084.5,862.4 L1084.9,862.4 L1085.3,862.4 L1085.7,862.4 L1086.1,862.4 L1086.5,862.4 L1086.9,862.4 L1087.3,862.4 L1087.7,862.4 L1088.1,862.4 L1088.6,862.4 L1089.0,862.4 L1089.4,862.4 L1089.8,862.4 L1090.2,862.4 L1090.6,862.4 L1091.0,862.4 L1091.4,862.4 L1091.8,862.4 L1092.2,862.4 L1092.6,862.4 L1093.0,862.4 L1093.4,862.4 L1093.9,862.4 L1094.3,862.4 L1094.7,862.4 L1095.1,862.4 L1095.5,862.4 L1095.9,862.4 L1096.3,862.4 L1096.7,862.4 L1097.1,862.4 L1097.5,862.4 L1097.9,862.4 L1098.3,862.4 L1098.7,862.4 L1099.2,862.4 L1099.6,862.4 L1100.0,862.4 L1100.4,862.4 L1100.8,862.4 L1101.2,862.4 L1101.6,862.4 L1102.0,862.4 L1102.4,862.3 L1102.8,862.3 L1103.2,862.3 L1103.6,862.3 L1104.0,862.3 L1104.5,862.2 L1104.9,862.2 L1105.3,862.1 L1105.7,862.1 L1106.1,862.0 L1106.5,862.0 L1106.9,861.9 L1107.3,861.8 L1107.7,861.6 L1108.1,861.5 L1108.5,861.3 L1108.9,861.1 L1109.3,860.9 L1109.8,860.6 L1110.2,860.3 L1110.6,859.9 L1111.0,859.5 L1111.4,859.0 L1111.8,858.4 L1112.2,857.8 L1112.6,857.1 L1113.0,856.3 L1113.4,855.3 L1113.8,854.3 L1114.2,853.1 L1114.6,851.8 L1115.1,850.4 L1115.5,848.7 L1115.9,846.9 L1116.3,844.9 L1116.7,842.7 L1117.1,840.3 L1117.5,837.7 L1117.9,834.8 L1118.3,831.7 L1118.7,828.3 L1119.1,824.6 L1119.5,820.7 L1119.9,816.5 L1120.4,811.9 L1120.8,807.1 L1121.2,802.0 L1121.6,796.7 L1122.0,791.0 L1122.4,785.0 L1122.8,778.8 L1123.2,772.4 L1123.6,765.7 L1124.0,758.7 L1124.4,751.6 L1124.8,744.4 L1125.2,737.0 L1125.7,729.5 L1126.1,721.9 L1126.5,714.4 L1126.9,706.8 L1127.3,699.3 L1127.7,691.9 L1128.1,684.7 L1128.5,677.7 L1128.9,670.9 L1129.3,664.4 L1129.7,658.3 L1130.1,652.5 L1130.5,647.2 L1131.0,642.4 L1131.4,638.0 L1131.8,634.2 L1132.2,631.0 L1132.6,628.4 L1133.0,626.4 L1133.4,625.0 L1133.8,624.3 L1134.2,624.2 L1134.6,624.8 L1135.0,626.0 L1135.4,627.9 L1135.8,630.4 L1136.3,633.5 L1136.7,637.2 L1137.1,641.4 L1137.5,646.1 L1137.9,651.4 L1138.3,657.0 L1138.7,663.1 L1139.1,669.5 L1139.5,676.2 L1139.9,683.2 L1140.3,690.4 L1140.7,697.7 L1141.1,705.2 L1141.6,712.8 L1142.0,720.3 L1142.4,727.9 L1142.8,735.4 L1143.2,742.8 L1143.6,750.1 L1144.0,757.3 L1144.4,764.2 L1144.8,771.0 L1145.2,777.5 L1145.6,783.7 L1146.0,789.7 L1146.4,795.5 L1146.9,800.9 L1147.3,806.1 L1147.7,811.0 L1148.1,815.5 L1148.5,819.8 L1148.9,823.8 L1149.3,827.5 L1149.7,831.0 L1150.1,834.2 L1150.5,837.1 L1150.9,839.8 L1151.3,842.3 L1151.7,844.5 L1152.2,846.5 L1152.6,848.4 L1153.0,850.0 L1153.4,851.5 L1153.8,852.9 L1154.2,854.1 L1154.6,855.1 L1155.0,856.1 L1155.4,856.9 L1155.8,857.7 L1156.2,858.3 L1156.6,858.9 L1157.0,859.4 L1157.5,859.8 L1157.9,860.2 L1158.3,860.5 L1158.7,860.8 L1159.1,861.1 L1159.5,861.3 L1159.9,861.4 L1160.3,861.6 L1160.7,861.7 L1161.1,861.8 L1161.5,861.9 L1161.9,862.0 L1162.3,862.1 L1162.8,862.1 L1163.2,862.2 L1163.6,862.2 L1164.0,862.3 L1164.4,862.3 L1164.8,862.3 L1165.2,862.3 L1165.6,862.3 L1166.0,862.3 L1166.4,862.4 L1166.8,862.4 L1167.2,862.4 L1167.6,862.4 L1168.1,862.4 L1168.5,862.4 L1168.9,862.4 L1169.3,862.4 L1169.7,862.4 L1170.1,862.4 L1170.5,862.4 L1170.9,862.4 L1171.3,862.4 L1171.7,862.4 L1172.1,862.4 L1172.5,862.4 L1172.9,862.4 L1173.4,862.4 L1173.8,862.4 L1174.2,862.4 L1174.6,862.4 L1175.0,862.4 L1175.4,862.4 L1175.8,862.4 L1176.2,862.4 L1176.6,862.4 L1177.0,862.4 L1177.4,862.4 L1177.8,862.4 L1178.2,862.4 L1178.7,862.4 L1179.1,862.4 L1179.5,862.4 L1179.9,862.4 L1180.3,862.4 L1180.7,862.4 L1181.1,862.4 L1181.5,862.4 L1181.9,862.4 L1182.3,862.4 L1182.7,862.4 L1183.1,862.4 L1183.5,862.4 L1184.0,862.4 L1184.4,862.4 L1184.8,862.4 L1185.2,862.4 L1185.6,862.4 L1186.0,862.4 L1186.4,862.4 L1186.8,862.4 L1187.2,862.4 L1187.6,862.4 L1188.0,862.4 L1188.4,862.4 L1188.8,862.4 L1189.3,862.4 L1189.7,862.4 L1190.1,862.4 L1190.5,862.4 L1190.9,862.4 L1191.3,862.4 L1191.7,862.4 L1192.1,862.4 L1192.5,862.4 L1192.9,862.4 L1193.3,862.4 L1193.7,862.4 L1194.1,862.4 L1194.6,862.4 L1195.0,862.4 L1195.4,862.4 L1195.8,862.4 L1196.2,862.4 L1196.6,862.4 L1197.0,862.4 L1197.4,862.4 L1197.8,862.4 L1198.2,862.4 L1198.6,862.4 L1199.0,862.4 L1199.4,862.4 L1199.9,862.4 L1200.3,862.4 L1200.7,862.4 L1201.1,862.4 L1201.5,862.4 L1201.9,862.4 L1202.3,862.4 L1202.7,862.4 L1203.1,862.4 L1203.5,862.4 L1203.9,862.4 L1204.3,862.4 L1204.7,862.4 L1205.2,862.4 L1205.6,862.4 L1206.0,862.4 L1206.4,862.4 L1206.8,862.4 L1207.2,862.4 L1207.6,862.4 L1208.0,862.4 L1208.4,862.4 L1208.8,862.4 L1209.2,862.4 L1209.6,862.4 L1210.0,862.4 L1210.5,862.4 L1210.9,862.4 L1211.3,862.4 L1211.7,862.4 L1212.1,862.4 L1212.5,862.4 L1212.9,862.4 L1213.3,862.4 L1213.7,862.4 L1214.1,862.4 L1214.5,862.4 L1214.9,862.4 L1215.3,862.4 L1215.8,862.4 L1216.2,862.4 L1216.6,862.4 L1217.0,862.4 L1217.4,862.4 L1217.8,862.4 L1218.2,862.4 L1218.6,862.4 L1219.0,862.4 L1219.4,862.4 L1219.8,862.4 L1220.2,862.4 L1220.6,862.4 L1221.1,862.4 L1221.5,862.4 L1221.9,862.4 L1222.3,862.4 L1222.7,862.4 L1223.1,862.4 L1223.5,862.4 L1223.9,862.4 L1224.3,862.4 L1224.7,862.4 L1225.1,862.4 L1225.5,862.4 L1225.9,862.4 L1226.4,862.4 L1226.8,862.4 L1227.2,862.4 L1227.6,862.4 L1228.0,862.4 L1228.4,862.4 L1228.8,862.4 L1229.2,862.4 L1229.6,862.4 L1230.0,862.4 L1230.4,862.4 L1230.8,862.4 L1231.2,862.4 L1231.7,862.4 L1232.1,862.4 L1232.5,862.4 L1232.9,862.4 L1233.3,862.4 L1233.6,862.4 M1246.0,862.4 L1246.3,862.4 L1246.7,862.4 L1247.1,862.4 L1247.6,862.4 L1248.0,862.4 L1248.4,862.4 L1248.8,862.4 L1249.2,862.4 L1249.6,862.4 L1250.0,862.4 L1250.4,862.4 L1250.8,862.4 L1251.2,862.4 L1251.6,862.4 L1252.0,862.4 L1252.4,862.4 L1252.9,862.4 L1253.3,862.4 L1253.7,862.4 L1254.1,862.4 L1254.5,862.4 L1254.9,862.4 L1255.3,862.4 L1255.7,862.4 L1256.1,862.4 L1256.5,862.4 L1256.9,862.4 L1257.3,862.4 L1257.7,862.4 L1258.2,862.4 L1258.6,862.4 L1259.0,862.4 L1259.4,862.4 L1259.8,862.4 L1260.2,862.4 L1260.6,862.4 L1261.0,862.4 L1261.4,862.4 L1261.8,862.4 L1262.2,862.4 L1262.6,862.4 L1263.0,862.4 L1263.5,862.4 L1263.9,862.4 L1264.3,862.4 L1264.7,862.4 L1265.1,862.4 L1265.5,862.4 L1265.9,862.4 L1266.3,862.4 L1266.7,862.4 L1267.1,862.4 L1267.5,862.4 L1267.9,862.4 L1268.3,862.4 L1268.8,862.4 L1269.2,862.4 L1269.6,862.4 L1270.0,862.4 L1270.4,862.4 L1270.8,862.4 L1271.2,862.4 L1271.6,862.4 L1272.0,862.4 L1272.4,862.4 L1272.8,862.4 L1273.2,862.4 L1273.6,862.4 L1274.1,862.4 L1274.5,862.4 L1274.9,862.4 L1275.3,862.4 L1275.7,862.4 L1276.1,862.4 L1276.5,862.4 L1276.9,862.4 L1277.3,862.4 L1277.7,862.4 L1278.1,862.4 L1278.5,862.4 L1278.9,862.4 L1279.4,862.4 L1279.8,862.4 L1280.2,862.4 L1280.6,862.4 L1281.0,862.4 L1281.4,862.4 L1281.8,862.4 L1282.2,862.4 L1282.6,862.4 L1283.0,862.4 L1283.4,862.4 L1283.8,862.4 L1284.2,862.4 L1284.7,862.4 L1285.1,862.4 L1285.5,862.4 L1285.9,862.4 L1286.3,862.4 L1286.7,862.4 L1287.1,862.4 L1287.5,862.4 L1287.9,862.4 L1288.3,862.4 L1288.7,862.4 L1289.1,862.4 L1289.5,862.4 L1290.0,862.4 L1290.4,862.4 L1290.8,862.4 L1291.2,862.4 L1291.6,862.4 L1292.0,862.4 L1292.4,862.4 L1292.8,862.4 L1293.2,862.4 L1293.6,862.4 L1294.0,862.4 L1294.4,862.4 L1294.8,862.4 L1295.3,862.4 L1295.7,862.4 L1296.1,862.4 L1296.5,862.4 L1296.9,862.4 L1297.3,862.4 L1297.7,862.4 L1298.1,862.4 L1298.5,862.4 L1298.9,862.4 L1299.3,862.4 L1299.7,862.4 L1300.1,862.4 L1300.6,862.4 L1301.0,862.4 L1301.4,862.4 L1301.8,862.4 L1302.2,862.4 L1302.6,862.4 L1303.0,862.4 L1303.4,862.4 L1303.8,862.4 L1304.2,862.4 L1304.6,862.4 L1305.0,862.4 L1305.4,862.4 L1305.9,862.4 L1306.3,862.4 L1306.7,862.4 L1307.1,862.4 L1307.5,862.4 L1307.9,862.4 L1308.3,862.4 L1308.7,862.4 L1309.1,862.4 L1309.5,862.4 L1309.9,862.4 L1310.3,862.4 L1310.7,862.4 L1311.2,862.4 L1311.6,862.4 L1312.0,862.4 L1312.4,862.4 L1312.8,862.4 L1313.2,862.4 L1313.6,862.4 L1314.0,862.4 L1314.4,862.4 L1314.8,862.4 L1315.2,862.4 L1315.6,862.4 L1316.0,862.4 L1316.5,862.4 L1316.9,862.4 L1317.3,862.4 L1317.7,862.4 L1318.1,862.4 L1318.5,862.4 L1318.9,862.4 L1319.3,862.4 L1319.7,862.4 L1320.1,862.4 L1320.5,862.4 L1320.9,862.4 L1321.3,862.4 L1321.8,862.4 L1322.2,862.4 L1322.6,862.4 L1323.0,862.4 L1323.4,862.4 L1323.8,862.4 L1324.2,862.4 L1324.6,862.4 L1325.0,862.4 L1325.4,862.4 L1325.8,862.4 L1326.2,862.4 L1326.6,862.4 L1327.1,862.4 L1327.5,862.4 L1327.9,862.4 L1328.3,862.4 L1328.7,862.4 L1329.1,862.4 L1329.5,862.4 L1329.9,862.4 L1330.3,862.4 L1330.7,862.4 L1331.1,862.4 L1331.5,862.4 L1331.9,862.4 L1332.4,862.4 L1332.8,862.4 L1333.2,862.4 L1333.6,862.4 L1334.0,862.4 L1334.4,862.4 L1334.8,862.4 L1335.2,862.4 L1335.6,862.4 L1336.0,862.4 L1336.4,862.4 L1336.8,862.4 L1337.2,862.4 L1337.7,862.4 L1338.1,862.4 L1338.5,862.4 L1338.9,862.4 L1339.3,862.4 L1339.7,862.4 L1340.1,862.4 L1340.5,862.4 L1340.9,862.4 L1341.3,862.4 L1341.7,862.4 L1342.1,862.4 L1342.5,862.4 L1343.0,862.4 L1343.4,862.4 L1343.8,862.4 L1344.2,862.4 L1344.6,862.4 L1345.0,862.4 L1345.4,862.4 L1345.8,862.4 L1346.2,862.4 L1346.6,862.4 L1347.0,862.4 L1347.4,862.4 L1347.8,862.4 L1348.3,862.4 L1348.7,862.4 L1349.1,862.4 L1349.5,862.4 L1349.9,862.4 L1350.3,862.4 L1350.7,862.4 L1351.1,862.4 L1351.5,862.4 L1351.9,862.4 L1352.3,862.4 L1352.7,862.4 L1353.1,862.4 L1353.6,862.4 L1354.0,862.4 L1354.4,862.4 L1354.8,862.4 L1355.2,862.4 L1355.6,862.4 L1356.0,862.4 L1356.4,862.4 L1356.8,862.4 L1357.2,862.4 L1357.6,862.4 L1358.0,862.4 L1358.4,862.4 L1358.8,862.4 L1359.3,862.4 L1359.7,862.4 L1360.1,862.4 L1360.5,862.4 L1360.9,862.4 L1361.3,862.4 L1361.7,862.4 L1362.1,862.4 L1362.5,862.4 L1362.9,862.4 L1363.3,862.4 L1363.7,862.4 L1364.1,862.4 L1364.6,862.4 L1364.9,862.4 M1376.0,862.4 L1376.0,862.4 L1376.4,862.4 L1376.8,862.4 L1377.2,862.4 L1377.6,862.4 L1378.0,862.4 L1378.4,862.4 L1378.8,862.4 L1379.2,862.4 L1379.6,862.4 L1380.0,862.4 L1380.5,862.4 L1380.9,862.4 L1381.3,862.4 L1381.7,862.4 L1382.1,862.4 L1382.5,862.4 L1382.9,862.4 L1383.3,862.4 L1383.7,862.4 L1384.1,862.4 L1384.5,862.4 L1384.9,862.4 L1385.3,862.4 L1385.8,862.4 L1386.2,862.4 L1386.6,862.4 L1387.0,862.4 L1387.4,862.4 L1387.8,862.4 L1388.2,862.4 L1388.6,862.4 L1389.0,862.4 L1389.4,862.4 L1389.8,862.4 L1390.2,862.4 L1390.6,862.4 L1391.1,862.4 L1391.5,862.4 L1391.9,862.4 L1392.3,862.4 L1392.7,862.4 L1393.1,862.4 L1393.5,862.4 L1393.9,862.4 L1394.3,862.4 L1394.7,862.4 L1395.1,862.4 L1395.5,862.4 L1395.9,862.4 L1396.4,862.4 L1396.8,862.4 L1397.2,862.4 L1397.6,862.4 L1398.0,862.4 L1398.4,862.4 L1398.8,862.4 L1399.2,862.4 L1399.6,862.4 L1400.0,862.4 L1400.4,862.4 L1400.8,862.4 L1401.2,862.4 L1401.7,862.4 L1402.1,862.4 L1402.5,862.4 L1402.9,862.4 L1403.3,862.4 L1403.7,862.4 L1404.1,862.4 L1404.5,862.4 L1404.9,862.4 L1405.3,862.4 L1405.7,862.4 L1406.1,862.4 L1406.5,862.4 L1407.0,862.4 L1407.4,862.4 L1407.8,862.4 L1408.2,862.4 L1408.6,862.4 L1409.0,862.4 L1409.4,862.4 L1409.8,862.4 L1410.2,862.4 L1410.6,862.4 L1411.0,862.4 L1411.4,862.4 L1411.8,862.4 L1412.3,862.4 L1412.7,862.4 L1413.1,862.4 L1413.5,862.4 L1413.9,862.4 L1414.3,862.4 L1414.7,862.4 L1415.1,862.4 L1415.5,862.4 L1415.9,862.4 L1416.3,862.4 L1416.7,862.4 L1417.1,862.4 L1417.6,862.4 L1418.0,862.4 L1418.4,862.4 L1418.8,862.4 L1419.2,862.4 L1419.6,862.4 L1420.0,862.4 L1420.4,862.4 L1420.8,862.4 L1421.2,862.4 L1421.6,862.4 L1422.0,862.4 L1422.4,862.4 L1422.9,862.4 L1423.3,862.4 L1423.7,862.4 L1424.1,862.4 L1424.5,862.4 L1424.9,862.4 L1425.3,862.4 L1425.7,862.4 L1426.1,862.4 L1426.5,862.4 L1426.9,862.4 L1427.3,862.4 L1427.7,862.4 L1428.2,862.4 L1428.6,862.4 L1429.0,862.4 L1429.4,862.4 L1429.8,862.4 L1430.2,862.4 L1430.6,862.4 L1431.0,862.4 L1431.4,862.4 L1431.8,862.4 L1432.2,862.4 L1432.6,862.4 L1433.0,862.4 L1433.5,862.4 L1433.9,862.4 L1434.3,862.4 L1434.7,862.4 L1435.1,862.4 L1435.5,862.4 L1435.9,862.4 L1436.3,862.4 L1436.7,862.4 L1437.1,862.4 L1437.5,862.4 L1437.9,862.4 L1438.3,862.4 L1438.8,862.4 L1439.2,862.4 L1439.6,862.4 L1440.0,862.4 L1440.4,862.4 L1440.8,862.4 L1441.2,862.4 L1441.6,862.4 L1442.0,862.4 L1442.4,862.4 L1442.8,862.4 L1443.2,862.4 L1443.6,862.4 L1444.1,862.4 L1444.5,862.4 L1444.9,862.4 L1445.3,862.4 L1445.7,862.4 L1446.1,862.4 L1446.5,862.3 L1446.9,862.3 L1447.3,862.3 L1447.7,862.3 L1448.1,862.3 L1448.5,862.3 L1448.9,862.2 L1449.4,862.2 L1449.8,862.2 L1450.2,862.1 L1450.6,862.1 L1451.0,862.0 L1451.4,861.9 L1451.8,861.8 L1452.2,861.7 L1452.6,861.6 L1453.0,861.5 L1453.4,861.4 L1453.8,861.2 L1454.2,861.0 L1454.7,860.8 L1455.1,860.5 L1455.5,860.3 L1455.9,860.0 L1456.3,859.6 L1456.7,859.2 L1457.1,858.8 L1457.5,858.3 L1457.9,857.8 L1458.3,857.2 L1458.7,856.6 L1459.1,855.9 L1459.5,855.1 L1460.0,854.3 L1460.4,853.4 L1460.8,852.4 L1461.2,851.4 L1461.6,850.3 L1462.0,849.1 L1462.4,847.8 L1462.8,846.4 L1463.2,845.0 L1463.6,843.5 L1464.0,841.9 L1464.4,840.3 L1464.8,838.6 L1465.3,836.8 L1465.7,834.9 L1466.1,833.1 L1466.5,831.1 L1466.9,829.2 L1467.3,827.2 L1467.7,825.2 L1468.1,823.1 L1468.5,821.1 L1468.9,819.1 L1469.3,817.2 L1469.7,815.2 L1470.1,813.4 L1470.6,811.6 L1471.0,809.8 L1471.4,808.2 L1471.8,806.7 L1472.2,805.2 L1472.6,803.9 L1473.0,802.8 L1473.4,801.7 L1473.8,800.9 L1474.2,800.2 L1474.6,799.6 L1475.0,799.2 L1475.4,799.0 L1475.9,799.0 L1476.3,799.2 L1476.7,799.5 L1477.1,800.0 L1477.5,800.6 L1477.9,801.4 L1478.3,802.4 L1478.7,803.5 L1479.1,804.8 L1479.5,806.2 L1479.9,807.7 L1480.3,809.3 L1480.7,811.0 L1481.2,812.7 L1481.6,814.6 L1482.0,816.5 L1482.4,818.5 L1482.8,820.4 L1483.2,822.4 L1483.6,824.5 L1484.0,826.5 L1484.4,828.5 L1484.8,830.5 L1485.2,832.4 L1485.6,834.3 L1486.0,836.2 L1486.5,838.0 L1486.9,839.7 L1487.3,841.4 L1487.7,843.0 L1488.1,844.5 L1488.5,846.0 L1488.9,847.3 L1489.3,848.6 L1489.7,849.9 L1490.1,851.0 L1490.5,852.1 L1490.9,853.1 L1491.3,854.0 L1491.8,854.8 L1492.2,855.6 L1492.6,856.3 L1493.0,857.0 L1493.4,857.6 L1493.8,858.1 L1494.2,858.6 L1494.6,859.1 L1495.0,859.5 L1495.4,859.8 L1495.8,860.2 L1496.2,860.5 L1496.6,860.7 L1497.1,860.9 L1497.5,861.1 L1497.9,861.3 L1498.3,861.5 L1498.7,861.6 L1499.1,861.7 L1499.5,861.8 L1499.9,861.9 L1500.3,862.0 L1500.7,862.0 L1501.1,862.1 L1501.5,862.1 L1501.9,862.2 L1502.4,862.2 L1502.8,862.3 L1503.2,862.3 L1503.6,862.3 L1504.0,862.3 L1504.4,862.3 L1504.8,862.3 L1505.2,862.4 L1505.6,862.4 L1506.0,862.4 L1506.4,862.4 L1506.8,862.4 L1507.2,862.4 L1507.7,862.4 L1508.1,862.4 L1508.5,862.4 L1508.9,862.4 L1509.3,862.4 L1509.7,862.4 L1510.1,862.4 L1510.5,862.4 L1510.9,862.4 L1511.3,862.4 L1511.7,862.4 L1512.1,862.4 L1512.5,862.4 L1513.0,862.4 L1513.4,862.4 L1513.8,862.4 L1514.2,862.4 L1514.6,862.4 L1515.0,862.4 L1515.4,862.4 L1515.8,862.4 L1516.2,862.4 L1516.6,862.4 L1517.0,862.4 L1517.4,862.4 L1517.8,862.4 L1518.3,862.4 L1518.7,862.4 L1519.1,862.4 L1519.5,862.4 L1519.9,862.4 L1520.3,862.4 L1520.7,862.4 L1521.1,862.4 L1521.5,862.4 L1521.9,862.4 L1522.3,862.4 L1522.7,862.4 L1523.1,862.4 L1523.6,862.4 L1524.0,862.4 L1524.4,862.4 L1524.8,862.4 L1525.2,862.4 L1525.6,862.4 L1526.0,862.4 L1526.4,862.4 L1526.8,862.4 L1527.2,862.4 L1527.6,862.4 L1528.0,862.4 L1528.4,862.4 L1528.9,862.4 L1529.3,862.4 L1529.7,862.4 L1530.1,862.4 L1530.5,862.4 L1530.9,862.4 L1531.3,862.4 L1531.7,862.4 L1532.1,862.4 L1532.5,862.4 L1532.9,862.4 L1533.3,862.4 L1533.7,862.4 L1534.2,862.4 L1534.6,862.4 L1535.0,862.4 L1535.4,862.4 L1535.8,862.4 L1536.2,862.4 L1536.6,862.4 L1537.0,862.4 L1537.4,862.4 L1537.8,862.4 L1538.2,862.4 L1538.6,862.4 L1539.0,862.4 L1539.5,862.4 L1539.9,862.4 L1540.3,862.4 L1540.7,862.4 L1541.1,862.4 L1541.5,862.4 L1541.9,862.4 L1542.3,862.4 L1542.7,862.4 L1543.1,862.4 L1543.5,862.4 L1543.9,862.4 L1544.3,862.4 L1544.8,862.4 L1545.2,862.4 L1545.6,862.4 L1546.0,862.4 L1546.4,862.4 L1546.8,862.4 L1547.2,862.4 L1547.6,862.4 L1548.0,862.4 L1548.4,862.4 L1548.8,862.4 L1549.2,862.4 L1549.6,862.4 L1550.1,862.4 L1550.5,862.4 L1550.9,862.4 L1551.3,862.4 L1551.7,862.4 L1552.1,862.4 L1552.5,862.4 L1552.9,862.4 L1553.3,862.4 L1553.7,862.3 L1554.1,862.3 L1554.5,862.3 L1554.9,862.3 L1555.4,862.3 L1555.8,862.2 L1556.2,862.2 L1556.6,862.1 L1557.0,862.1 L1557.4,862.0 L1557.8,862.0 L1558.2,861.9 L1558.6,861.7 L1559.0,861.6 L1559.4,861.5 L1559.8,861.3 L1560.2,861.1 L1560.7,860.8 L1561.1,860.5 L1561.5,860.2 L1561.9,859.8 L1562.3,859.3 L1562.7,858.8 L1563.1,858.2 L1563.5,857.5 L1563.9,856.7 L1564.3,855.8 L1564.7,854.8 L1565.1,853.6 L1565.5,852.3 L1566.0,850.9 L1566.4,849.2 L1566.8,847.4 L1567.2,845.3 L1567.6,843.0 L1568.0,840.5 L1568.4,837.7 L1568.8,834.7 L1569.2,831.3 L1569.6,827.6 L1570.0,823.7 L1570.4,819.3 L1570.8,814.6 L1571.3,809.6 L1571.7,804.2 L1572.1,798.4 L1572.5,792.2 L1572.9,785.6 L1573.3,778.7 L1573.7,771.3 L1574.1,763.6 L1574.5,755.6 L1574.9,747.1 L1575.3,738.4 L1575.7,729.4 L1576.1,720.1 L1576.6,710.6 L1577.0,700.9 L1577.4,691.1 L1577.8,681.1 L1578.2,671.1 L1578.6,661.1 L1579.0,651.1 L1579.4,641.3 L1579.8,631.7 L1580.2,622.2 L1580.6,613.1 L1581.0,604.4 L1581.4,596.1 L1581.9,588.2 L1582.3,581.0 L1582.7,574.3 L1583.1,568.2 L1583.5,562.9 L1583.9,558.3 L1584.3,554.5 L1584.7,551.4 L1585.1,549.3 L1585.5,547.9 L1585.9,547.5 L1586.3,547.9 L1586.7,549.1 L1587.2,551.2 L1587.6,554.2 L1588.0,557.9 L1588.4,562.5 L1588.8,567.7 L1589.2,573.7 L1589.6,580.3 L1590.0,587.6 L1590.4,595.4 L1590.8,603.6 L1591.2,612.4 L1591.6,621.4 L1592.0,630.8 L1592.5,640.5 L1592.9,650.3 L1593.3,660.2 L1593.7,670.2 L1594.1,680.2 L1594.5,690.2 L1594.9,700.0 L1595.3,709.8 L1595.7,719.3 L1596.1,728.6 L1596.5,737.6 L1596.9,746.4 L1597.3,754.8 L1597.8,762.9 L1598.2,770.7 L1598.6,778.0 L1599.0,785.0 L1599.4,791.6 L1599.8,797.8 L1600.2,803.7 L1600.6,809.1 L1601.0,814.2 L1601.4,818.9 L1601.8,823.3 L1602.2,827.3 L1602.6,831.0 L1603.1,834.4 L1603.5,837.5 L1603.9,840.3 L1604.3,842.8 L1604.7,845.1 L1605.1,847.2 L1605.5,849.1 L1605.9,850.7 L1606.3,852.2 L1606.7,853.5 L1607.1,854.7 L1607.5,855.7 L1607.9,856.6 L1608.4,857.4 L1608.8,858.1 L1609.2,858.8 L1609.6,859.3 L1610.0,859.7 L1610.4,860.1 L1610.8,860.5 L1611.2,860.8 L1611.6,861.0 L1612.0,861.3 L1612.4,861.4 L1612.8,861.6 L1613.2,861.7 L1613.7,861.8 L1614.1,861.9 L1614.5,862.0 L1614.9,862.1 L1615.3,862.1 L1615.7,862.2 L1616.1,862.2 L1616.5,862.3 L1616.9,862.3 L1617.3,862.3 L1617.7,862.3 L1618.1,862.3 L1618.5,862.4 L1619.0,862.4 L1619.4,862.4 L1619.8,862.4 L1620.2,862.4 L1620.6,862.4 L1621.0,862.4 L1621.4,862.4 L1621.8,862.4 L1622.2,862.4 L1622.6,862.4 L1623.0,862.4 L1623.4,862.4 L1623.8,862.4 L1624.3,862.4 L1624.7,862.4 L1625.1,862.4 L1625.5,862.4 L1625.9,862.4 L1626.3,862.4 L1626.7,862.4 L1627.1,862.4 L1627.5,862.4 L1627.9,862.3 L1628.3,862.3 L1628.7,862.3 L1629.1,862.3 L1629.6,862.3 L1630.0,862.2 L1630.4,862.2 L1630.8,862.1 L1631.2,862.1 L1631.6,862.0 L1632.0,861.9 L1632.4,861.8 L1632.8,861.7 L1633.2,861.5 L1633.6,861.4 L1634.0,861.1 L1634.4,860.9 L1634.9,860.6 L1635.3,860.3 L1635.7,859.9 L1636.1,859.4 L1636.5,858.8 L1636.9,858.2 L1637.3,857.5 L1637.7,856.6 L1638.1,855.7 L1638.5,854.5 L1638.9,853.3 L1639.3,851.8 L1639.7,850.2 L1640.2,848.3 L1640.6,846.2 L1641.0,843.8 L1641.4,841.2 L1641.8,838.2 L1642.2,834.9 L1642.6,831.2 L1643.0,827.1 L1643.4,822.6 L1643.8,817.7 L1644.2,812.2 L1644.6,806.3 L1645.0,799.8 L1645.5,792.8 L1645.9,785.2 L1646.3,777.0 L1646.7,768.2 L1647.1,758.8 L1647.5,748.7 L1647.9,738.0 L1648.3,726.7 L1648.7,714.8 L1649.1,702.2 L1649.5,689.1 L1649.9,675.4 L1650.3,661.1 L1650.8,646.4 L1651.2,631.3 L1651.6,615.7 L1652.0,599.8 L1652.4,583.7 L1652.8,567.4 L1653.2,551.0 L1653.6,534.6 L1654.0,518.2 L1654.4,502.1 L1654.8,486.2 L1655.2,470.7 L1655.6,455.7 L1656.1,441.3 L1656.5,427.5 L1656.9,414.6 L1657.3,402.5 L1657.7,391.4 L1658.1,381.3 L1658.5,372.4 L1658.9,364.7 L1659.3,358.2 L1659.7,353.1 L1660.1,349.3 L1660.5,346.9 L1660.9,346.0 L1661.4,346.4 L1661.8,348.3 L1662.2,351.5 L1662.6,356.2 L1663.0,362.1 L1663.4,369.4 L1663.8,377.9 L1664.2,387.5 L1664.6,398.3 L1665.0,410.0 L1665.4,422.6 L1665.8,436.1 L1666.2,450.3 L1666.7,465.1 L1667.1,480.4 L1667.5,496.2 L1667.9,512.3 L1668.3,528.5 L1668.7,544.9 L1669.1,561.3 L1669.5,577.7 L1669.9,593.9 L1670.3,609.9 L1670.7,625.5 L1671.1,640.9 L1671.5,655.8 L1672.0,670.2 L1672.4,684.1 L1672.8,697.4 L1673.2,710.2 L1673.6,722.4 L1674.0,733.9 L1674.4,744.8 L1674.8,755.1 L1675.2,764.8 L1675.6,773.8 L1676.0,782.2 L1676.4,790.1 L1676.8,797.3 L1677.3,804.0 L1677.7,810.1 L1678.1,815.7 L1678.5,820.8 L1678.9,825.5 L1679.3,829.7 L1679.7,833.6 L1680.1,837.0 L1680.5,840.1 L1680.9,842.9 L1681.3,845.4 L1681.7,847.6 L1682.1,849.5 L1682.5,851.2 L1683.0,852.8 L1683.4,854.1 L1683.8,855.3 L1684.2,856.3 L1684.6,857.2 L1685.0,858.0 L1685.4,858.6 L1685.8,859.2 L1686.2,859.7 L1686.6,860.1 L1687.0,860.5 L1687.4,860.8 L1687.8,861.1 L1688.3,861.3 L1688.7,861.5 L1689.1,861.6 L1689.5,861.8 L1689.9,861.9 L1690.3,862.0 L1690.7,862.0 L1691.1,862.1 L1691.5,862.2 L1691.9,862.2 L1692.3,862.2 L1692.7,862.3 L1693.1,862.3 L1693.6,862.3 L1694.0,862.3 L1694.4,862.3 L1694.8,862.4 L1695.2,862.4 L1695.6,862.4 L1696.0,862.4 L1696.4,862.4 L1696.8,862.4 L1697.2,862.4 L1697.6,862.4 L1698.0,862.4 L1698.4,862.4 L1698.9,862.4 L1699.3,862.4 L1699.7,862.4 L1700.1,862.4 L1700.5,862.4 L1700.9,862.4 L1701.3,862.4 L1701.7,862.4 L1702.1,862.4 L1702.5,862.4 L1702.9,862.4 L1703.3,862.4 L1703.7,862.4 L1704.2,862.4 L1704.6,862.4 L1705.0,862.4 L1705.4,862.4 L1705.8,862.4 L1706.2,862.4 L1706.6,862.4 L1707.0,862.4 L1707.4,862.4 L1707.8,862.4 L1708.2,862.4 L1708.6,862.4 L1709.0,862.4 L1709.5,862.4 L1709.9,862.4 L1710.3,862.4 L1710.7,862.4 L1711.1,862.4 L1711.5,862.4 L1711.9,862.4 L1712.3,862.4 L1712.7,862.4 L1713.1,862.4 L1713.5,862.4 L1713.9,862.4 L1714.3,862.4 L1714.8,862.4 L1715.2,862.4 L1715.6,862.4 L1716.0,862.4 L1716.4,862.4 L1716.8,862.4 L1717.2,862.4 L1717.6,862.4 L1718.0,862.4 L1718.4,862.4 L1718.8,862.4 L1719.2,862.4 L1719.6,862.4 L1720.1,862.4 L1720.5,862.4 L1720.9,862.4 L1721.3,862.4 L1721.7,862.4 L1722.1,862.4 L1722.5,862.4 L1722.9,862.4 L1723.3,862.4 L1723.7,862.4 L1724.1,862.4 L1724.5,862.4 L1724.9,862.4 L1725.4,862.4 L1725.8,862.4 L1726.2,862.4 L1726.6,862.4 L1727.0,862.4 L1727.4,862.4 L1727.8,862.4 L1728.2,862.4 L1728.6,862.4 L1729.0,862.4 L1729.4,862.4 L1729.8,862.4 L1730.2,862.4 L1730.7,862.4 L1731.1,862.4 L1731.5,862.4 L1731.9,862.4 L1732.3,862.4 L1732.7,862.4 L1733.1,862.4 L1733.5,862.4 L1733.9,862.4 L1734.3,862.4 L1734.7,862.4 L1735.1,862.4 L1735.5,862.4 L1736.0,862.4 L1736.4,862.4 L1736.8,862.4 L1737.2,862.4 L1737.6,862.4 L1738.0,862.4 L1738.4,862.4 L1738.8,862.4 L1739.2,862.4 L1739.6,862.4 L1740.0,862.4 L1740.4,862.4 L1740.8,862.4 L1741.3,862.4 L1741.7,862.4 L1742.1,862.4 L1742.5,862.4 L1742.9,862.4 L1743.3,862.4 L1743.7,862.4 L1744.1,862.4 L1744.5,862.4 L1744.9,862.4 L1745.3,862.4 L1745.7,862.4 L1746.1,862.4 L1746.6,862.4 L1747.0,862.4 L1747.4,862.4 L1747.8,862.4 L1748.2,862.4 L1748.6,862.4 L1749.0,862.4 L1749.4,862.4 L1749.8,862.4 L1750.2,862.4 L1750.6,862.4 L1751.0,862.4 L1751.4,862.4 L1751.9,862.4 L1752.3,862.4 L1752.7,862.4 L1753.1,862.4 L1753.5,862.4 L1753.9,862.4 L1754.3,862.4 L1754.7,862.4 L1755.1,862.4 L1755.5,862.4 L1755.9,862.4 L1756.3,862.4 L1756.7,862.4 L1757.2,862.4 L1757.6,862.4 L1758.0,862.4 L1758.4,862.4 L1758.8,862.4 L1759.2,862.4 L1759.6,862.4 L1760.0,862.4 L1760.4,862.4 L1760.8,862.4 L1761.2,862.4 L1761.6,862.4 L1761.9,862.4 M1774.9,862.4 L1775.1,862.4 L1775.5,862.4 L1775.9,862.4 L1776.3,862.4 L1776.7,862.4 L1777.1,862.4 L1777.5,862.4 L1777.9,862.4 L1778.4,862.4 L1778.8,862.4 L1779.2,862.4 L1779.6,862.4 L1780.0,862.4 L1780.4,862.4 L1780.8,862.4 L1781.2,862.4 L1781.6,862.4 L1782.0,862.4 L1782.4,862.4 L1782.8,862.4 L1783.2,862.4 L1783.7,862.4 L1784.1,862.4 L1784.5,862.4 L1784.9,862.4 L1785.3,862.4 L1785.7,862.4 L1786.1,862.4 L1786.5,862.4 L1786.9,862.4 L1787.3,862.4 L1787.7,862.4 L1788.1,862.4 L1788.5,862.4 L1789.0,862.4 L1789.4,862.4 L1789.8,862.4 L1790.2,862.4 L1790.6,862.4 L1791.0,862.4 L1791.4,862.4 L1791.8,862.4 L1792.2,862.4 L1792.6,862.4 L1793.0,862.4 L1793.4,862.4 L1793.8,862.4 L1794.3,862.4 L1794.7,862.4 L1795.1,862.4 L1795.5,862.4 L1795.9,862.4 L1796.3,862.4 L1796.7,862.4 L1797.1,862.4 L1797.5,862.4 L1797.9,862.4 L1798.3,862.4 L1798.7,862.4 L1799.1,862.4 L1799.6,862.4 L1800.0,862.4 L1800.4,862.4 L1800.8,862.4 L1801.2,862.4 L1801.6,862.4 L1802.0,862.4 L1802.4,862.4 L1802.8,862.4 L1803.2,862.4 L1803.6,862.4 L1804.0,862.4 L1804.4,862.4 L1804.9,862.4 L1805.3,862.4 L1805.7,862.4 L1806.1,862.4 L1806.5,862.4 L1806.9,862.4 L1807.3,862.4 L1807.7,862.4 L1808.1,862.4 L1808.5,862.4 L1808.9,862.4 L1809.3,862.4 L1809.7,862.4 L1810.2,862.4 L1810.6,862.4 L1811.0,862.4 L1811.4,862.4 L1811.8,862.4 L1812.2,862.4 L1812.6,862.4 L1813.0,862.4 L1813.4,862.4 L1813.8,862.4 L1814.2,862.4 L1814.6,862.4 L1815.0,862.4 L1815.5,862.4 L1815.9,862.4 L1816.3,862.4 L1816.7,862.4 L1817.1,862.4 L1817.5,862.4 L1817.9,862.4 L1818.3,862.4 L1818.7,862.4 L1819.1,862.4 L1819.5,862.4 L1819.9,862.4 L1820.3,862.4 L1820.8,862.4 L1821.2,862.4 L1821.6,862.4 L1822.0,862.4 L1822.4,862.4 L1822.8,862.4 L1823.2,862.4 L1823.6,862.4 L1824.0,862.4 L1824.4,862.4 L1824.8,862.4 L1825.2,862.4 L1825.6,862.4 L1826.1,862.4 L1826.5,862.4 L1826.9,862.4 L1827.3,862.4 L1827.7,862.4 L1828.1,862.4 L1828.5,862.4 L1828.9,862.4 L1829.3,862.4 L1829.7,862.4 L1830.1,862.4 L1830.5,862.4 L1830.9,862.4 L1831.4,862.4 L1831.8,862.4 L1832.2,862.4 L1832.6,862.4 L1833.0,862.4 L1833.4,862.4 L1833.8,862.4 L1834.2,862.4 L1834.6,862.4 L1835.0,862.4 L1835.4,862.4 L1835.8,862.4 L1836.2,862.4 L1836.7,862.4 L1837.1,862.4 L1837.5,862.4 L1837.9,862.4 L1838.3,862.4 L1838.7,862.4 L1839.1,862.4 L1839.5,862.4 L1839.9,862.4 L1840.3,862.4 L1840.7,862.4 L1841.1,862.4 L1841.5,862.4 L1842.0,862.4 L1842.4,862.4 L1842.8,862.4 L1843.2,862.4 L1843.6,862.4 L1844.0,862.4 L1844.4,862.4 L1844.8,862.4 L1845.2,862.4 L1845.6,862.4 L1846.0,862.4 L1846.4,862.4 L1846.8,862.4 L1847.3,862.4 L1847.7,862.4 L1848.1,862.4 L1848.5,862.4 L1848.9,862.4 L1849.3,862.4 L1849.7,862.4 L1850.1,862.4 L1850.5,862.4 L1850.9,862.4 L1851.3,862.4 L1851.7,862.4 L1852.1,862.4 L1852.6,862.4 L1853.0,862.4 L1853.4,862.4 L1853.8,862.4 L1854.2,862.4 L1854.6,862.4 L1855.0,862.4 L1855.4,862.4 L1855.8,862.4 L1856.2,862.4 L1856.6,862.4 L1857.0,862.4 L1857.4,862.4 L1857.9,862.4 L1858.3,862.4 L1858.7,862.4 L1859.1,862.4 L1859.5,862.4 L1859.9,862.4 L1860.3,862.4 L1860.7,862.4 L1861.1,862.4 L1861.5,862.4 L1861.9,862.4 L1862.3,862.4 L1862.7,862.4 L1863.2,862.4 L1863.6,862.4 L1864.0,862.4 L1864.4,862.4 L1864.8,862.4 L1865.2,862.4 L1865.6,862.4 L1866.0,862.4 L1866.4,862.4 L1866.8,862.4" fill="none" stroke="#000" stroke-width="7.4" stroke-linejoin="round" stroke-linecap="round"/>
<path d="M237.4,1689.3 L238.4,1689.1 L239.5,1688.9 L240.6,1688.7 L241.7,1688.5 L242.8,1688.3 L243.9,1688.2 L245.1,1688.0 L246.2,1687.9 L247.4,1687.8 L248.5,1687.7 L249.7,1687.6 L250.9,1687.5 L252.0,1687.4 L253.2,1687.3 L254.4,1687.3 L255.6,1687.2 L256.8,1687.1 L258.1,1687.1 L259.3,1687.1 L260.5,1687.0 L261.7,1687.0 L263.0,1686.9 L264.2,1686.9 L265.4,1686.9 L266.7,1686.8 L267.9,1686.8 L269.2,1686.8 L270.4,1686.7 L271.7,1686.7 L272.9,1686.6 L274.1,1686.6 L275.4,1686.5 L276.6,1686.5 L277.9,1686.4 L279.1,1686.3 L280.4,1686.2 L281.6,1686.1 L282.9,1686.0 L284.1,1685.9 L285.3,1685.8 L286.5,1685.7 L287.8,1685.5 L289.0,1685.4 L290.2,1685.2 L291.4,1685.0 L292.6,1684.8 L293.8,1684.5 L295.0,1684.3 L296.2,1684.0 L297.4,1683.8 L298.5,1683.5 L299.7,1683.2 L300.8,1682.8 L302.0,1682.5 L303.1,1682.1 L304.2,1681.7 L305.3,1681.3 L306.4,1680.8 L307.5,1680.3 L308.6,1679.9 L309.7,1679.4 L310.8,1678.9 L311.8,1678.3 L312.9,1677.8 L313.9,1677.2 L314.9,1676.6 L315.9,1676.0 L316.9,1675.4 L317.9,1674.7 L318.9,1674.1 L319.9,1673.4 L320.9,1672.7 L321.8,1672.0 L322.7,1671.3 L323.7,1670.5 L324.6,1669.8 L325.5,1669.0 L326.4,1668.3 L327.3,1667.5 L328.1,1666.7 L329.0,1665.8 L329.9,1665.0 L330.7,1664.2 L331.5,1663.3 L332.3,1662.4 L333.1,1661.5 L333.9,1660.7 L334.7,1659.7 L335.4,1658.8 L336.2,1657.9 L336.9,1657.0 L337.6,1656.0 L338.3,1655.1 L339.0,1654.1 L339.7,1653.1 L340.4,1652.1 L341.0,1651.1 L341.7,1650.1 L342.3,1649.1 L342.9,1648.1 L343.5,1647.1 L344.1,1646.0 L344.7,1645.0 L345.2,1643.9 L345.8,1642.9 L346.3,1641.8 L346.8,1640.7 L347.3,1639.7 L347.8,1638.6 L348.3,1637.5 L348.7,1636.4 L349.2,1635.3 L349.6,1634.2 L350.0,1633.1 L350.4,1632.0 L350.8,1630.8 L351.2,1629.7 L351.6,1628.6 L352.0,1627.5 L352.4,1626.3 L352.7,1625.2 L353.0,1624.0 L353.4,1622.9 L353.7,1621.7 L354.0,1620.5 L354.3,1619.4 L354.6,1618.2 L354.9,1617.0 L355.2,1615.9 L355.5,1614.7 L355.7,1613.5 L356.0,1612.3 L356.2,1611.1 L356.5,1610.0 L356.7,1608.8 L357.0,1607.6 L357.2,1606.4 L357.4,1605.2 L357.7,1604.0 L357.9,1602.8 L358.1,1601.6 L358.3,1600.4 L358.5,1599.2 L358.7,1598.0 L358.9,1596.8 L359.1,1595.6 L359.3,1594.4 L359.5,1593.2 L359.7,1591.9 L359.9,1590.7 L360.1,1589.5 L360.2,1588.3 L360.4,1587.1 L360.6,1585.9 L360.8,1584.7 L361.0,1583.5 L361.2,1582.3 L361.4,1581.1 L361.5,1579.9 L361.7,1578.7 L361.9,1577.5 L362.1,1576.3 L362.3,1575.1 L362.5,1573.9 L362.7,1572.7 L362.9,1571.5 L363.1,1570.3 L363.3,1569.2 L363.5,1568.0 L363.7,1566.8 L364.0,1565.6 L364.2,1564.5 L364.4,1563.3 L364.6,1562.1 L364.9,1561.0 L365.1,1559.8 L365.4,1558.6 L365.6,1557.5 L365.9,1556.3 L366.2,1555.2 L366.4,1554.1 L366.7,1552.9 L367.0,1551.8 L367.3,1550.7 L367.5,1549.5 L367.8,1548.4 L368.1,1547.3 L368.4,1546.1 L368.6,1545.0 L368.9,1543.8 L369.2,1542.7 L369.4,1541.6 L369.7,1540.4 L369.9,1539.3 L370.1,1538.1 L370.3,1537.0 L370.6,1535.8 L370.7,1534.6 L370.9,1533.5 L371.1,1532.3 L371.3,1531.1 L371.4,1529.9 L371.6,1528.7 L371.7,1527.5 L371.8,1526.3 L372.0,1525.1 L372.2,1523.9 L372.3,1522.7 L372.5,1521.5 L372.7,1520.3 L372.9,1519.1 L373.2,1517.9 L373.5,1516.7 L373.8,1515.6 L374.1,1514.4 L374.5,1513.2 L374.9,1512.0 L375.3,1510.9 L375.8,1509.7 L376.4,1508.6 L376.9,1507.5 L377.6,1506.4 L378.3,1505.3 L379.0,1504.3 L379.8,1503.3 L380.5,1502.5 L381.3,1501.9 L382.0,1501.4 L382.8,1501.2 L383.4,1501.3 L384.1,1501.6 L384.7,1502.2 L385.2,1503.0 L385.7,1503.9 L386.1,1504.9 L386.5,1506.1 L386.8,1507.3 L387.1,1508.5 L387.3,1509.8 L387.5,1511.1 L387.6,1512.4 L387.8,1513.7 L387.9,1515.0 L388.1,1516.3 L388.3,1517.6 L388.5,1518.9 L388.8,1520.1 L389.1,1521.3 L389.4,1522.4 L389.8,1523.6 L390.2,1524.7 L390.6,1525.9 L391.0,1527.0 L391.4,1528.1 L391.8,1529.2 L392.1,1530.3 L392.5,1531.4 L392.9,1532.6 L393.2,1533.7 L393.6,1534.8 L393.9,1535.9 L394.3,1537.1 L394.6,1538.2 L394.9,1539.4 L395.2,1540.5 L395.5,1541.6 L395.8,1542.8 L396.0,1543.9 L396.3,1545.1 L396.6,1546.3 L396.8,1547.4 L397.0,1548.6 L397.3,1549.8 L397.5,1550.9 L397.7,1552.1 L398.0,1553.3 L398.2,1554.4 L398.4,1555.6 L398.6,1556.8 L398.8,1558.0 L399.0,1559.2 L399.2,1560.3 L399.3,1561.5 L399.5,1562.7 L399.7,1563.9 L399.9,1565.1 L400.0,1566.3 L400.2,1567.5 L400.4,1568.7 L400.5,1569.9 L400.7,1571.1 L400.9,1572.2 L401.0,1573.4 L401.2,1574.6 L401.3,1575.8 L401.5,1577.0 L401.6,1578.2 L401.8,1579.4 L402.0,1580.6 L402.1,1581.8 L402.3,1583.0 L402.4,1584.2 L402.6,1585.4 L402.8,1586.6 L402.9,1587.8 L403.1,1589.0 L403.3,1590.2 L403.4,1591.4 L403.6,1592.6 L403.8,1593.8 L404.0,1595.0 L404.2,1596.2 L404.3,1597.3 L404.5,1598.5 L404.7,1599.7 L404.9,1600.9 L405.2,1602.1 L405.4,1603.3 L405.6,1604.4 L405.8,1605.6 L406.0,1606.8 L406.3,1608.0 L406.5,1609.1 L406.8,1610.3 L407.0,1611.5 L407.3,1612.6 L407.6,1613.8 L407.9,1615.0 L408.2,1616.1 L408.5,1617.3 L408.8,1618.4 L409.1,1619.6 L409.4,1620.7 L409.8,1621.9 L410.1,1623.0 L410.5,1624.1 L410.9,1625.3 L411.3,1626.4 L411.6,1627.5 L412.1,1628.7 L412.5,1629.8 L412.9,1630.9 L413.3,1632.0 L413.8,1633.1 L414.3,1634.2 L414.8,1635.3 L415.2,1636.4 L415.8,1637.5 L416.3,1638.6 L416.8,1639.7 L417.4,1640.7 L417.9,1641.8 L418.5,1642.9 L419.1,1643.9 L419.7,1645.0 L420.3,1646.0 L421.0,1647.0 L421.6,1648.0 L422.3,1649.1 L422.9,1650.0 L423.6,1651.0 L424.3,1652.0 L425.1,1653.0 L425.8,1653.9 L426.5,1654.8 L427.3,1655.8 L428.1,1656.7 L428.9,1657.6 L429.7,1658.4 L430.5,1659.3 L431.3,1660.1 L432.2,1661.0 L433.0,1661.8 L433.9,1662.5 L434.8,1663.3 L435.7,1664.1 L436.6,1664.8 L437.5,1665.5 L438.5,1666.2 L439.5,1666.8 L440.4,1667.5 L441.4,1668.1 L442.4,1668.7 L443.4,1669.3 L444.5,1669.8 L445.5,1670.3 L446.6,1670.8 L447.7,1671.3 L448.8,1671.7 L449.9,1672.2 L451.0,1672.5 L452.1,1672.9 L453.3,1673.2 L454.5,1673.5 L455.6,1673.8 L456.8,1674.0 L458.0,1674.3 L459.3,1674.4 L460.5,1674.6 L461.7,1674.7 L463.0,1674.8 L464.3,1674.9 L465.5,1675.0 L466.8,1675.1 L468.1,1675.1 L469.3,1675.2 L470.6,1675.2 L471.9,1675.2 L473.2,1675.3 L474.4,1675.3 L475.7,1675.3 L476.9,1675.4 L478.2,1675.4 L479.4,1675.4 L480.6,1675.5 L481.8,1675.5 L483.0,1675.6 L484.2,1675.7 L485.4,1675.7 L486.6,1675.8 L487.8,1675.8 L488.9,1675.9 L490.1,1675.9 L491.3,1675.9 L492.4,1675.9 L493.6,1675.9 L494.8,1675.9 L495.9,1675.8 L497.1,1675.7 L498.2,1675.7 L499.4,1675.5 L500.6,1675.4 L501.7,1675.2 L502.9,1675.1 L504.0,1674.9 L505.2,1674.6 L506.3,1674.4 L507.5,1674.2 L508.6,1673.9 L509.8,1673.6 L510.9,1673.3 L512.0,1672.9 L513.2,1672.6 L514.3,1672.2 L515.4,1671.8 L516.6,1671.4 L517.7,1671.0 L518.8,1670.5 L519.9,1670.1 L521.0,1669.6 L522.1,1669.1 L523.2,1668.6 L524.3,1668.1 L525.4,1667.6 L526.5,1667.0 L527.6,1666.4 L528.6,1665.9 L529.7,1665.3 L530.7,1664.7 L531.8,1664.0 L532.8,1663.4 L533.9,1662.8 L534.9,1662.1 L535.9,1661.4 L536.9,1660.8 L537.9,1660.1 L538.9,1659.3 L539.9,1658.6 L540.8,1657.9 L541.8,1657.2 L542.8,1656.4 L543.7,1655.7 L544.6,1654.9 L545.5,1654.1 L546.5,1653.3 L547.4,1652.5 L548.2,1651.7 L549.1,1650.9 L550.0,1650.1 L550.9,1649.2 L551.7,1648.4 L552.5,1647.5 L553.4,1646.7 L554.2,1645.8 L555.0,1644.9 L555.8,1644.0 L556.6,1643.1 L557.3,1642.2 L558.1,1641.3 L558.9,1640.4 L559.6,1639.5 L560.3,1638.5 L561.1,1637.6 L561.8,1636.6 L562.5,1635.7 L563.2,1634.7 L563.8,1633.7 L564.5,1632.7 L565.1,1631.8 L565.8,1630.8 L566.4,1629.8 L567.0,1628.7 L567.6,1627.7 L568.2,1626.7 L568.8,1625.7 L569.4,1624.6 L570.0,1623.6 L570.5,1622.5 L571.1,1621.5 L571.6,1620.4 L572.1,1619.4 L572.6,1618.3 L573.1,1617.2 L573.6,1616.1 L574.1,1615.0 L574.5,1613.9 L575.0,1612.8 L575.4,1611.7 L575.8,1610.6 L576.2,1609.5 L576.6,1608.4 L577.0,1607.2 L577.4,1606.1 L577.8,1605.0 L578.1,1603.8 L578.5,1602.7 L578.8,1601.5 L579.1,1600.4 L579.4,1599.2 L579.7,1598.1 L580.0,1596.9 L580.3,1595.7 L580.6,1594.6 L580.9,1593.4 L581.2,1592.2 L581.4,1591.1 L581.7,1589.9 L582.0,1588.7 L582.2,1587.5 L582.5,1586.4 L582.7,1585.2 L582.9,1584.0 L583.2,1582.8 L583.4,1581.6 L583.6,1580.4 L583.9,1579.2 L584.1,1578.1 L584.3,1576.9 L584.5,1575.7 L584.8,1574.5 L585.0,1573.3 L585.2,1572.1 L585.4,1570.9 L585.6,1569.7 L585.8,1568.6 L586.0,1567.4 L586.3,1566.2 L586.5,1565.0 L586.7,1563.8 L586.9,1562.6 L587.1,1561.4 L587.3,1560.3 L587.5,1559.1 L587.7,1557.9 L587.9,1556.7 L588.1,1555.5 L588.3,1554.3 L588.5,1553.1 L588.7,1552.0 L588.9,1550.8 L589.1,1549.6 L589.3,1548.4 L589.5,1547.2 L589.7,1546.0 L589.9,1544.8 L590.0,1543.7 L590.2,1542.5 L590.4,1541.3 L590.6,1540.1 L590.8,1538.9 L591.0,1537.7 L591.2,1536.6 L591.3,1535.4 L591.5,1534.2 L591.7,1533.0 L591.9,1531.8 L592.1,1530.6 L592.2,1529.4 L592.4,1528.3 L592.6,1527.1 L592.8,1525.9 L592.9,1524.7 L593.1,1523.5 L593.3,1522.3 L593.4,1521.2 L593.6,1520.0 L593.8,1518.8 L593.9,1517.6 L594.1,1516.4 L594.3,1515.2 L594.4,1514.1 L594.6,1512.9 L594.8,1511.7 L594.9,1510.5 L595.1,1509.3 L595.2,1508.1 L595.4,1506.9 L595.5,1505.8 L595.7,1504.6 L595.9,1503.4 L596.0,1502.2 L596.2,1501.0 L596.3,1499.8 L596.5,1498.7 L596.6,1497.5 L596.8,1496.3 L596.9,1495.1 L597.1,1493.9 L597.2,1492.7 L597.3,1491.6 L597.5,1490.4 L597.6,1489.2 L597.8,1488.0 L597.9,1486.8 L598.1,1485.6 L598.2,1484.4 L598.3,1483.3 L598.5,1482.1 L598.6,1480.9 L598.7,1479.7 L598.9,1478.5 L599.0,1477.3 L599.2,1476.2 L599.3,1475.0 L599.4,1473.8 L599.5,1472.6 L599.7,1471.4 L599.8,1470.2 L599.9,1469.1 L600.1,1467.9 L600.2,1466.7 L600.3,1465.5 L600.4,1464.3 L600.6,1463.1 L600.7,1461.9 L600.8,1460.8 L600.9,1459.6 L601.1,1458.4 L601.2,1457.2 L601.3,1456.0 L601.4,1454.8 L601.5,1453.6 L601.7,1452.5 L601.8,1451.3 L601.9,1450.1 L602.0,1448.9 L602.1,1447.7 L602.2,1446.5 L602.4,1445.4 L602.5,1444.2 L602.6,1443.0 L602.7,1441.8 L602.8,1440.6 L602.9,1439.4 L603.0,1438.2 L603.1,1437.0 L603.2,1435.9 L603.3,1434.7 L603.5,1433.5 L603.6,1432.3 L603.7,1431.1 L603.8,1429.9 L603.9,1428.7 L604.0,1427.6 L604.1,1426.4 L604.2,1425.2 L604.3,1424.0 L604.4,1422.8 L604.5,1421.6 L604.6,1420.4 L604.7,1419.2 L604.8,1418.1 L604.9,1416.9 L605.0,1415.7 L605.1,1414.5 L605.2,1413.3 L605.3,1412.1 L605.4,1410.9 L605.5,1409.7 L605.6,1408.6 L605.7,1407.4 L605.8,1406.2 L605.8,1405.0 L605.9,1403.8 L606.0,1402.6 L606.1,1401.4 L606.2,1400.2 L606.3,1399.0 L606.4,1397.8 L606.5,1396.7 L606.6,1395.5 L606.7,1394.3 L606.7,1393.1 L606.8,1391.9 L606.9,1390.7 L607.0,1389.5 L607.1,1388.3 L607.2,1387.1 L607.3,1385.9 L607.3,1384.7 L607.4,1383.6 L607.5,1382.4 L607.6,1381.2 L607.7,1380.0 L607.8,1378.8 L607.8,1377.6 L607.9,1376.4 L608.0,1375.2 L608.1,1374.0 L608.2,1372.8 L608.2,1371.6 L608.3,1370.4 L608.4,1369.2 L608.5,1368.1 L608.6,1366.9 L608.6,1365.7 L608.7,1364.5 L608.8,1363.3 L608.9,1362.1 L608.9,1360.9 L609.0,1359.7 L609.1,1358.5 L609.2,1357.3 L609.3,1356.1 L609.3,1354.9 L609.4,1353.7 L609.5,1352.5 L609.5,1351.3 L609.6,1350.1 L609.7,1348.9 L609.8,1347.7 L609.8,1346.5 L609.9,1345.3 L610.0,1344.1 L610.1,1342.9 L610.1,1341.7 L610.2,1340.5 L610.3,1339.3 L610.3,1338.1 L610.4,1336.9 L610.5,1335.7 L610.6,1334.5 L610.6,1333.3 L610.7,1332.1 L610.8,1330.9 L610.8,1329.7 L610.9,1328.5 L611.0,1327.3 L611.0,1326.1 L611.1,1324.9 L611.2,1323.7 L611.2,1322.5 L611.3,1321.3 L611.4,1320.1 L611.4,1318.9 L611.5,1317.7 L611.6,1316.5 L611.6,1315.3 L611.7,1314.1 L611.8,1312.9 L611.8,1311.7 L611.9,1310.5 L612.0,1309.3 L612.0,1308.1 L612.1,1306.9 L612.2,1305.7 L612.2,1304.5 L612.3,1303.3 L612.4,1302.1 L612.4,1300.9 L612.5,1299.7 L612.6,1298.5 L612.6,1297.3 L612.7,1296.1 L612.8,1294.9 L612.8,1293.7 L612.9,1292.5 L613.0,1291.2 L613.0,1290.0 L613.1,1288.8 L613.1,1287.6 L613.2,1286.4 L613.3,1285.2 L613.3,1284.0 L613.4,1282.8 L613.5,1281.6 L613.5,1280.4 L613.6,1279.2 L613.7,1278.0 L613.7,1276.8 L613.8,1275.6 L613.9,1274.4 L613.9,1273.2 L614.0,1272.0 L614.1,1270.8 L614.1,1269.6 L614.2,1268.4 L614.3,1267.2 L614.3,1266.0 L614.4,1264.8 L614.5,1263.6 L614.5,1262.4 L614.6,1261.2 L614.7,1260.0 L614.7,1258.8 L614.8,1257.6 L614.9,1256.4 L614.9,1255.2 L615.0,1254.0 L615.1,1252.8 L615.1,1251.6 L615.2,1250.4 L615.3,1249.2 L615.3,1248.0 L615.4,1246.8 L615.5,1245.6 L615.5,1244.4 L615.6,1243.2 L615.7,1242.0 L615.7,1240.8 L615.8,1239.6 L615.9,1238.4 L616.0,1237.3 L616.0,1236.1 L616.1,1234.9 L616.2,1233.7 L616.2,1232.5 L616.3,1231.3 L616.4,1230.1 L616.5,1228.9 L616.5,1227.7 L616.6,1226.5 L616.7,1225.4 L616.8,1224.2 L616.8,1223.0 L616.9,1221.8 L617.0,1220.6 L617.1,1219.4 L617.1,1218.3 L617.2,1217.1 L617.3,1215.9 L617.4,1214.7 L617.4,1213.5 L617.5,1212.4 L617.6,1211.2 L617.7,1210.0 L617.8,1208.8 L617.8,1207.7 L617.9,1206.5 L618.0,1205.3 L618.1,1204.1 L618.2,1203.0 L618.2,1201.8 L618.3,1200.6 L618.4,1199.5 L618.5,1198.3 L618.6,1197.1 L618.7,1195.9 L618.8,1194.8 L618.8,1193.6 L618.9,1192.5 L619.0,1191.3 L619.1,1190.1 L619.2,1189.0 L619.3,1187.8 L619.4,1186.6 L619.5,1185.5 L619.5,1184.3 L619.6,1183.2 L619.7,1182.0 L619.8,1180.9 L619.9,1179.7 L620.0,1178.6 L620.1,1177.4 L620.2,1176.3 L620.3,1175.1 L620.4,1174.0 L620.5,1172.8 L620.6,1171.7 L620.7,1170.5 L620.8,1169.3 L620.9,1168.2 L621.0,1167.0 L621.1,1165.8 L621.2,1164.6 L621.3,1163.4 L621.4,1162.2 L621.5,1161.0 L621.5,1159.7 L621.6,1158.5 L621.7,1157.2 L621.8,1155.9 L621.9,1154.6 L622.0,1153.2 L622.1,1151.9 L622.2,1150.5 L622.3,1149.1 L622.3,1147.6 L622.4,1146.1 L622.5,1144.6 L622.6,1143.1 L622.6,1141.6 L622.7,1140.0 L622.8,1138.5 L622.9,1136.9 L622.9,1135.4 L623.0,1133.8 L623.1,1132.3 L623.2,1130.8 L623.3,1129.3 L623.3,1127.9 L623.4,1126.5 L623.5,1125.2 L623.6,1123.9 L623.7,1122.6 L623.8,1121.5 L623.9,1120.4 L624.1,1119.4 L624.2,1118.4 L624.3,1117.6 L624.5,1116.8 L624.6,1116.2 L624.8,1115.6 L624.9,1115.2 L625.1,1114.9 L625.3,1114.7 L625.5,1114.6 L625.7,1114.7 L625.9,1114.8 L626.2,1115.1 L626.4,1115.5 L626.6,1116.1 L626.9,1116.7 L627.1,1117.4 L627.4,1118.2 L627.7,1119.1 L627.9,1120.1 L628.2,1121.1 L628.5,1122.2 L628.8,1123.4 L629.0,1124.7 L629.3,1126.0 L629.6,1127.4 L629.9,1128.8 L630.1,1130.2 L630.4,1131.7 L630.7,1133.3 L631.0,1134.8 L631.2,1136.4 L631.5,1138.0 L631.7,1139.6 L632.0,1141.2 L632.2,1142.9 L632.5,1144.5 L632.7,1146.1 L632.9,1147.7 L633.1,1149.3 L633.3,1150.9 L633.5,1152.5 L633.7,1154.0 L633.9,1155.5 L634.0,1156.9 L634.2,1158.4 L634.3,1159.7 L634.4,1161.1 L634.5,1162.4 L634.7,1163.7 L634.7,1165.0 L634.8,1166.2 L634.9,1167.5 L635.0,1168.7 L635.1,1169.9 L635.1,1171.0 L635.2,1172.2 L635.2,1173.3 L635.3,1174.5 L635.3,1175.6 L635.4,1176.7 L635.4,1177.8 L635.5,1178.9 L635.5,1180.0 L635.6,1181.1 L635.6,1182.2 L635.7,1183.3 L635.7,1184.5 L635.8,1185.6 L635.8,1186.7 L635.9,1187.9 L635.9,1189.0 L636.0,1190.1 L636.0,1191.3 L636.1,1192.5 L636.2,1193.6 L636.2,1194.8 L636.3,1196.0 L636.4,1197.1 L636.4,1198.3 L636.5,1199.5 L636.6,1200.7 L636.7,1201.9 L636.7,1203.1 L636.8,1204.2 L636.9,1205.4 L637.0,1206.6 L637.0,1207.8 L637.1,1209.0 L637.2,1210.2 L637.3,1211.4 L637.3,1212.6 L637.4,1213.8 L637.5,1215.0 L637.6,1216.2 L637.7,1217.4 L637.7,1218.6 L637.8,1219.8 L637.9,1221.0 L638.0,1222.2 L638.0,1223.4 L638.1,1224.6 L638.2,1225.8 L638.2,1227.0 L638.3,1228.2 L638.4,1229.4 L638.5,1230.6 L638.5,1231.8 L638.6,1233.0 L638.7,1234.2 L638.8,1235.4 L638.8,1236.6 L638.9,1237.8 L639.0,1239.0 L639.0,1240.2 L639.1,1241.4 L639.2,1242.6 L639.3,1243.8 L639.3,1245.0 L639.4,1246.2 L639.5,1247.4 L639.5,1248.6 L639.6,1249.8 L639.7,1251.0 L639.7,1252.2 L639.8,1253.4 L639.9,1254.6 L640.0,1255.8 L640.0,1257.0 L640.1,1258.2 L640.2,1259.4 L640.2,1260.6 L640.3,1261.8 L640.4,1263.0 L640.4,1264.2 L640.5,1265.4 L640.6,1266.6 L640.6,1267.8 L640.7,1269.0 L640.8,1270.2 L640.8,1271.4 L640.9,1272.6 L641.0,1273.8 L641.0,1275.0 L641.1,1276.2 L641.2,1277.4 L641.3,1278.6 L641.3,1279.8 L641.4,1281.0 L641.5,1282.2 L641.5,1283.4 L641.6,1284.6 L641.7,1285.8 L641.7,1287.0 L641.8,1288.2 L641.9,1289.4 L641.9,1290.6 L642.0,1291.8 L642.1,1293.0 L642.1,1294.2 L642.2,1295.4 L642.3,1296.6 L642.3,1297.8 L642.4,1299.0 L642.5,1300.2 L642.5,1301.4 L642.6,1302.6 L642.7,1303.8 L642.7,1305.0 L642.8,1306.2 L642.9,1307.4 L642.9,1308.6 L643.0,1309.8 L643.1,1311.0 L643.1,1312.2 L643.2,1313.4 L643.3,1314.6 L643.4,1315.7 L643.4,1316.9 L643.5,1318.1 L643.6,1319.3 L643.6,1320.5 L643.7,1321.7 L643.8,1322.9 L643.8,1324.1 L643.9,1325.3 L644.0,1326.5 L644.0,1327.7 L644.1,1328.9 L644.2,1330.1 L644.3,1331.3 L644.3,1332.5 L644.4,1333.7 L644.5,1334.9 L644.5,1336.1 L644.6,1337.3 L644.7,1338.5 L644.7,1339.7 L644.8,1340.9 L644.9,1342.1 L645.0,1343.3 L645.0,1344.5 L645.1,1345.7 L645.2,1346.9 L645.3,1348.0 L645.3,1349.2 L645.4,1350.4 L645.5,1351.6 L645.5,1352.8 L645.6,1354.0 L645.7,1355.2 L645.8,1356.4 L645.8,1357.6 L645.9,1358.8 L646.0,1360.0 L646.1,1361.2 L646.1,1362.4 L646.2,1363.6 L646.3,1364.8 L646.4,1366.0 L646.4,1367.2 L646.5,1368.4 L646.6,1369.6 L646.7,1370.8 L646.8,1371.9 L646.8,1373.1 L646.9,1374.3 L647.0,1375.5 L647.1,1376.7 L647.2,1377.9 L647.2,1379.1 L647.3,1380.3 L647.4,1381.5 L647.5,1382.7 L647.6,1383.9 L647.6,1385.1 L647.7,1386.3 L647.8,1387.5 L647.9,1388.7 L648.0,1389.9 L648.1,1391.1 L648.1,1392.2 L648.2,1393.4 L648.3,1394.6 L648.4,1395.8 L648.5,1397.0 L648.6,1398.2 L648.7,1399.4 L648.7,1400.6 L648.8,1401.8 L648.9,1403.0 L649.0,1404.2 L649.1,1405.4 L649.2,1406.6 L649.3,1407.8 L649.4,1409.0 L649.4,1410.2 L649.5,1411.3 L649.6,1412.5 L649.7,1413.7 L649.8,1414.9 L649.9,1416.1 L650.0,1417.3 L650.1,1418.5 L650.2,1419.7 L650.3,1420.9 L650.4,1422.1 L650.5,1423.3 L650.6,1424.5 L650.7,1425.7 L650.8,1426.8 L650.9,1428.0 L651.0,1429.2 L651.1,1430.4 L651.2,1431.6 L651.3,1432.8 L651.4,1434.0 L651.5,1435.2 L651.6,1436.4 L651.7,1437.6 L651.8,1438.8 L651.9,1440.0 L652.0,1441.2 L652.1,1442.3 L652.2,1443.5 L652.3,1444.7 L652.4,1445.9 L652.5,1447.1 L652.6,1448.3 L652.7,1449.5 L652.8,1450.7 L652.9,1451.9 L653.0,1453.1 L653.2,1454.3 L653.3,1455.4 L653.4,1456.6 L653.5,1457.8 L653.6,1459.0 L653.7,1460.2 L653.8,1461.4 L653.9,1462.6 L654.1,1463.8 L654.2,1465.0 L654.3,1466.2 L654.4,1467.4 L654.5,1468.5 L654.6,1469.7 L654.8,1470.9 L654.9,1472.1 L655.0,1473.3 L655.1,1474.5 L655.3,1475.7 L655.4,1476.9 L655.5,1478.1 L655.6,1479.3 L655.7,1480.5 L655.9,1481.6 L656.0,1482.8 L656.1,1484.0 L656.3,1485.2 L656.4,1486.4 L656.5,1487.6 L656.6,1488.8 L656.8,1490.0 L656.9,1491.2 L657.0,1492.4 L657.2,1493.5 L657.3,1494.7 L657.4,1495.9 L657.6,1497.1 L657.7,1498.3 L657.9,1499.5 L658.0,1500.7 L658.1,1501.9 L658.3,1503.1 L658.4,1504.2 L658.6,1505.4 L658.7,1506.6 L658.8,1507.8 L659.0,1509.0 L659.1,1510.2 L659.3,1511.4 L659.4,1512.6 L659.6,1513.8 L659.7,1514.9 L659.9,1516.1 L660.0,1517.3 L660.2,1518.5 L660.3,1519.7 L660.5,1520.9 L660.6,1522.1 L660.8,1523.3 L661.0,1524.4 L661.1,1525.6 L661.3,1526.8 L661.5,1528.0 L661.6,1529.2 L661.8,1530.4 L662.0,1531.6 L662.2,1532.7 L662.3,1533.9 L662.5,1535.1 L662.7,1536.3 L662.9,1537.5 L663.1,1538.7 L663.3,1539.8 L663.5,1541.0 L663.6,1542.2 L663.8,1543.4 L664.0,1544.6 L664.2,1545.7 L664.5,1546.9 L664.7,1548.1 L664.9,1549.3 L665.1,1550.5 L665.3,1551.6 L665.5,1552.8 L665.7,1554.0 L666.0,1555.2 L666.2,1556.3 L666.4,1557.5 L666.7,1558.7 L666.9,1559.9 L667.2,1561.0 L667.4,1562.2 L667.7,1563.4 L667.9,1564.5 L668.2,1565.7 L668.4,1566.9 L668.7,1568.1 L669.0,1569.2 L669.2,1570.4 L669.5,1571.6 L669.8,1572.7 L670.1,1573.9 L670.4,1575.1 L670.7,1576.2 L671.0,1577.4 L671.3,1578.5 L671.6,1579.7 L671.9,1580.9 L672.2,1582.0 L672.5,1583.2 L672.9,1584.3 L673.2,1585.5 L673.5,1586.6 L673.9,1587.8 L674.2,1589.0 L674.6,1590.1 L674.9,1591.3 L675.3,1592.4 L675.7,1593.6 L676.0,1594.7 L676.4,1595.8 L676.8,1597.0 L677.2,1598.1 L677.6,1599.3 L678.0,1600.4 L678.4,1601.5 L678.9,1602.7 L679.3,1603.8 L679.7,1604.9 L680.2,1606.0 L680.7,1607.1 L681.1,1608.2 L681.6,1609.3 L682.1,1610.4 L682.6,1611.5 L683.1,1612.6 L683.7,1613.7 L684.2,1614.7 L684.8,1615.8 L685.3,1616.8 L685.9,1617.9 L686.5,1618.9 L687.1,1620.0 L687.7,1621.0 L688.4,1622.0 L689.0,1623.0 L689.7,1624.0 L690.4,1625.0 L691.0,1626.0 L691.8,1627.0 L692.5,1627.9 L693.2,1628.9 L694.0,1629.8 L694.8,1630.8 L695.6,1631.7 L696.4,1632.6 L697.2,1633.5 L698.1,1634.4 L698.9,1635.3 L699.8,1636.1 L700.7,1637.0 L701.6,1637.8 L702.6,1638.7 L703.6,1639.5 L704.5,1640.3 L705.5,1641.1 L706.6,1641.8 L707.6,1642.6 L708.7,1643.3 L709.7,1644.0 L710.8,1644.7 L711.9,1645.3 L713.0,1645.9 L714.1,1646.4 L715.2,1646.9 L716.3,1647.3 L717.4,1647.7 L718.5,1648.1 L719.6,1648.4 L720.7,1648.6 L721.8,1648.7 L722.9,1648.8 L724.0,1648.8 L725.1,1648.8 L726.1,1648.6 L727.2,1648.4 L728.2,1648.1 L729.2,1647.7 L730.2,1647.3 L731.2,1646.8 L732.2,1646.2 L733.2,1645.5 L734.1,1644.8 L735.0,1644.0 L735.9,1643.2 L736.8,1642.3 L737.7,1641.4 L738.6,1640.4 L739.4,1639.4 L740.2,1638.4 L741.0,1637.3 L741.8,1636.2 L742.5,1635.1 L743.3,1634.0 L744.0,1632.8 L744.7,1631.7 L745.4,1630.5 L746.0,1629.3 L746.6,1628.2 L747.2,1627.0 L747.8,1625.8 L748.4,1624.7 L748.9,1623.6 L749.4,1622.4 L749.9,1621.3 L750.4,1620.2 L750.9,1619.1 L751.3,1617.9 L751.8,1616.8 L752.2,1615.7 L752.6,1614.6 L753.0,1613.5 L753.4,1612.4 L753.7,1611.3 L754.1,1610.2 L754.5,1609.1 L754.8,1608.0 L755.2,1606.9 L755.5,1605.8 L755.8,1604.6 L756.2,1603.5 L756.5,1602.4 L756.8,1601.3 L757.1,1600.1 L757.4,1599.0 L757.8,1597.8 L758.1,1596.7 L758.4,1595.5 L758.8,1594.4 L759.1,1593.2 L759.4,1592.0 L759.8,1590.9 L760.2,1589.7 L760.5,1588.6 L760.9,1587.4 L761.3,1586.2 L761.7,1585.1 L762.1,1584.0 L762.5,1582.8 L763.0,1581.7 L763.4,1580.6 L763.9,1579.5 L764.4,1578.4 L764.9,1577.3 L765.4,1576.2 L766.0,1575.1 L766.5,1574.1 L767.1,1573.1 L767.7,1572.1 L768.4,1571.1 L769.0,1570.1 L769.7,1569.1 L770.4,1568.2 L771.1,1567.3 L771.9,1566.4 L772.7,1565.5 L773.5,1564.7 L774.4,1563.9 L775.3,1563.1 L776.2,1562.3 L777.1,1561.6 L778.1,1560.9 L779.2,1560.2 L780.2,1559.5 L781.3,1558.9 L782.5,1558.3 L783.6,1557.8 L784.8,1557.3 L786.1,1556.8 L787.3,1556.5 L788.6,1556.8 L789.8,1557.1 L791.0,1557.5 L792.2,1558.0 L793.5,1558.6 L794.7,1559.2 L795.9,1560.0 L797.1,1560.8 L798.4,1561.7 L799.6,1562.7 L800.8,1563.8 L802.0,1565.1 L803.3,1566.4 L804.5,1568.0 L805.7,1569.7 L806.9,1571.7 L808.2,1573.9 L809.4,1576.5 L810.6,1579.6 L811.8,1583.1 L813.1,1587.1 L814.3,1591.6 L815.5,1596.3 L816.7,1600.9 L818.0,1605.1 L819.2,1608.8 L820.4,1612.1 L821.6,1615.1 L822.9,1617.9 L824.1,1620.5 L825.3,1623.1 L826.5,1625.6 L827.8,1628.1 L829.0,1630.6 L830.2,1633.1 L831.4,1635.6 L832.7,1638.1 L833.9,1640.5 L835.1,1643.0 L836.3,1645.3 L837.6,1647.5 L838.8,1649.7 L840.0,1651.8 L841.3,1653.7 L842.5,1655.6 L843.7,1657.3 L844.9,1659.0 L846.2,1660.5 L847.4,1662.0 L848.6,1663.4 L849.8,1664.7 L851.1,1665.9 L852.3,1667.0 L853.5,1668.0 L854.7,1669.0 L856.0,1669.9 L857.2,1670.7 L858.4,1671.4 L859.6,1672.1 L860.9,1672.8 L862.1,1673.3 L863.3,1673.9 L864.5,1674.4 L865.8,1674.9 L867.0,1675.4 L868.2,1675.8 L869.4,1676.2 L870.7,1676.6 L871.9,1677.0 L873.1,1677.4 L874.3,1677.7 L875.6,1678.1 L876.8,1678.4 L878.0,1678.8 L879.2,1679.1 L880.5,1679.4 L881.7,1679.7 L882.9,1680.0 L884.1,1680.3 L885.4,1680.6 L886.6,1680.9 L887.8,1681.2 L889.1,1681.5 L890.3,1681.7 L891.5,1682.0 L892.7,1682.2 L894.0,1682.5 L895.2,1682.7 L896.4,1683.0 L897.6,1683.2 L898.9,1683.4 L900.1,1683.7 L901.3,1683.9 L902.5,1684.1 L903.8,1684.3 L905.0,1684.5 L906.2,1684.7 L907.4,1684.9 L908.7,1685.1 L909.9,1685.2 L911.1,1685.4 L912.3,1685.6 L913.6,1685.7 L914.8,1685.9 L916.0,1686.1 L917.2,1686.2 L918.5,1686.4 L919.7,1686.5 L920.9,1686.7 L922.1,1686.8 L923.4,1686.9 L924.6,1687.1 L925.8,1687.2 L927.0,1687.3 L928.3,1687.5 L929.5,1687.6 L930.7,1687.7 L931.9,1687.8 L933.2,1687.9 L934.4,1688.0 L935.6,1688.1 L936.9,1688.2 L938.1,1688.3 L939.3,1688.4 L940.5,1688.5 L941.8,1688.6 L943.0,1688.7 L944.2,1688.8 L945.4,1688.9 L946.7,1689.0 L947.9,1689.1 L949.1,1689.2 L950.3,1689.2 L951.6,1689.3 L952.8,1689.4 L954.0,1689.5 L955.2,1689.6 L956.5,1689.6 L957.7,1689.7 L958.9,1689.8 L960.1,1689.8 L961.4,1689.9 L962.6,1690.0 L963.8,1690.0 L965.0,1690.1 L966.3,1690.2 L967.5,1690.2 L968.7,1690.3 L969.9,1690.3 L971.2,1690.4 L972.4,1690.5 L973.6,1690.5 L974.8,1690.6 L976.1,1690.6 L977.3,1690.7 L978.5,1690.7 L979.7,1690.8 L981.0,1690.8 L982.2,1690.9 L983.4,1690.9 L984.7,1690.9 L985.9,1691.0 L987.1,1691.0 L988.3,1691.1 L989.6,1691.1 L990.8,1691.1 L992.0,1691.2 L993.2,1691.2 L994.5,1691.2 L995.7,1691.3 L996.9,1691.3 L998.1,1691.3 L999.4,1691.4 L1000.6,1691.4 L1001.8,1691.4 L1003.0,1691.4 L1004.3,1691.5 L1005.5,1691.5 L1006.7,1691.5 L1007.9,1691.5 L1009.2,1691.6 L1010.4,1691.6 L1011.6,1691.6 L1012.8,1691.6 L1014.1,1691.7 L1015.3,1691.7 L1016.5,1691.7 L1017.7,1691.7 L1019.0,1691.7 L1020.2,1691.7 L1021.4,1691.7 L1022.6,1691.8 L1023.9,1691.8 L1025.1,1691.8 L1026.3,1691.8 L1027.5,1691.8 L1028.8,1691.8 L1030.0,1691.8" fill="none" stroke="#0000FF" stroke-width="8.5" stroke-linecap="round" stroke-linejoin="round" stroke-dasharray="10.2 18.8"/>
<path d="M237.2,1611.3 L237.7,1610.1 L238.1,1608.9 L238.5,1607.8 L238.8,1606.7 L239.1,1605.6 L239.4,1604.6 L239.7,1603.6 L240.0,1602.6 L240.3,1601.6 L240.6,1600.6 L240.8,1599.6 L241.1,1598.6 L241.4,1597.6 L241.8,1596.7 L242.1,1595.7 L242.5,1594.7 L242.9,1593.7 L243.3,1592.6 L243.8,1591.6 L244.3,1590.5 L244.9,1589.3 L245.6,1588.2 L246.3,1587.0 L247.0,1585.8 L247.8,1584.7 L248.6,1583.6 L249.4,1582.7 L250.2,1581.9 L250.9,1581.3 L251.6,1580.9 L252.2,1580.8 L252.8,1580.9 L253.3,1581.2 L253.8,1581.7 L254.2,1582.4 L254.7,1583.3 L255.1,1584.2 L255.5,1585.2 L256.0,1586.3 L256.5,1587.5 L257.0,1588.7 L257.5,1589.8 L258.1,1591.0 L258.8,1592.1 L259.5,1593.1 L260.3,1594.1 L261.2,1595.0 L262.1,1595.8 L263.1,1596.5 L264.1,1597.2 L265.1,1597.8 L266.2,1598.3 L267.2,1598.8 L268.3,1599.1 L269.4,1599.5 L270.6,1599.7 L271.7,1599.9 L272.7,1600.0 L273.8,1600.0 L274.9,1599.9 L275.9,1599.8 L276.9,1599.6 L277.8,1599.4 L278.7,1599.0 L279.5,1598.6 L280.3,1598.1 L281.0,1597.6 L281.7,1597.0 L282.4,1596.4 L283.0,1595.6 L283.6,1594.9 L284.1,1594.1 L284.6,1593.2 L285.1,1592.3 L285.5,1591.3 L285.9,1590.3 L286.3,1589.3 L286.7,1588.3 L287.0,1587.2 L287.3,1586.0 L287.6,1584.9 L287.9,1583.7 L288.1,1582.5 L288.4,1581.3 L288.6,1580.1 L288.8,1578.9 L289.1,1577.6 L289.3,1576.4 L289.5,1575.2 L289.7,1573.9 L289.9,1572.7 L290.1,1571.4 L290.3,1570.2 L290.5,1569.0 L290.8,1567.7 L291.0,1566.5 L291.2,1565.4 L291.5,1564.2 L291.8,1563.1 L292.1,1562.0 L292.4,1560.8 L292.7,1559.7 L293.0,1558.7 L293.3,1557.6 L293.6,1556.5 L293.9,1555.5 L294.2,1554.4 L294.6,1553.4 L294.9,1552.4 L295.2,1551.3 L295.6,1550.3 L295.9,1549.3 L296.2,1548.2 L296.6,1547.2 L296.9,1546.2 L297.2,1545.2 L297.5,1544.1 L297.8,1543.1 L298.1,1542.0 L298.4,1541.0 L298.7,1539.9 L299.0,1538.8 L299.3,1537.7 L299.5,1536.6 L299.8,1535.5 L300.0,1534.4 L300.3,1533.3 L300.5,1532.2 L300.8,1531.1 L301.0,1530.0 L301.2,1528.9 L301.4,1527.8 L301.7,1526.7 L301.9,1525.5 L302.1,1524.4 L302.3,1523.3 L302.5,1522.2 L302.7,1521.1 L302.9,1520.0 L303.1,1518.9 L303.3,1517.8 L303.4,1516.7 L303.6,1515.6 L303.8,1514.5 L304.0,1513.5 L304.2,1512.4 L304.4,1511.4 L304.5,1510.3 L304.7,1509.3 L304.9,1508.3 L305.1,1507.2 L305.3,1506.2 L305.4,1505.2 L305.6,1504.2 L305.8,1503.2 L306.0,1502.1 L306.1,1501.1 L306.3,1500.1 L306.5,1499.1 L306.7,1498.0 L306.8,1497.0 L307.0,1495.9 L307.2,1494.8 L307.3,1493.7 L307.5,1492.6 L307.7,1491.5 L307.8,1490.4 L308.0,1489.2 L308.1,1488.1 L308.3,1486.9 L308.5,1485.6 L308.6,1484.4 L308.8,1483.1 L308.9,1481.8 L309.1,1480.5 L309.2,1479.1 L309.4,1477.8 L309.6,1476.4 L309.7,1475.0 L309.9,1473.7 L310.1,1472.4 L310.4,1471.2 L310.7,1470.0 L311.0,1468.9 L311.3,1467.9 L311.7,1467.0 L312.1,1466.2 L312.6,1465.6 L313.1,1465.0 L313.7,1464.7 L314.3,1464.5 L315.0,1464.4 L315.8,1464.6 L316.6,1464.9 L317.3,1465.5 L317.9,1466.1 L318.5,1466.9 L318.9,1467.9 L319.3,1468.9 L319.6,1470.0 L319.9,1471.2 L320.2,1472.5 L320.4,1473.7 L320.6,1475.0 L320.8,1476.3 L321.1,1477.6 L321.4,1478.8 L321.7,1480.0 L322.0,1481.1 L322.3,1482.2 L322.7,1483.3 L323.1,1484.4 L323.5,1485.4 L323.9,1486.4 L324.3,1487.5 L324.7,1488.5 L325.2,1489.5 L325.6,1490.4 L326.0,1491.4 L326.4,1492.4 L326.8,1493.4 L327.2,1494.5 L327.6,1495.5 L327.9,1496.5 L328.3,1497.5 L328.6,1498.6 L328.9,1499.6 L329.3,1500.7 L329.6,1501.7 L329.9,1502.8 L330.2,1503.8 L330.4,1504.9 L330.7,1506.0 L331.0,1507.1 L331.2,1508.1 L331.5,1509.2 L331.7,1510.3 L331.9,1511.4 L332.2,1512.5 L332.4,1513.6 L332.6,1514.7 L332.8,1515.8 L332.9,1516.9 L333.1,1518.0 L333.3,1519.1 L333.4,1520.2 L333.6,1521.4 L333.7,1522.5 L333.8,1523.6 L334.0,1524.7 L334.1,1525.8 L334.2,1527.0 L334.3,1528.1 L334.4,1529.2 L334.5,1530.3 L334.5,1531.4 L334.6,1532.6 L334.7,1533.7 L334.7,1534.8 L334.8,1535.9 L334.9,1537.0 L334.9,1538.2 L335.0,1539.3 L335.1,1540.4 L335.2,1541.6 L335.3,1542.7 L335.4,1543.8 L335.6,1545.0 L335.8,1546.1 L336.0,1547.3 L336.3,1548.4 L336.5,1549.6 L336.9,1550.7 L337.3,1551.8 L337.7,1552.8 L338.2,1553.7 L338.7,1554.4 L339.4,1554.9 L340.1,1555.3 L340.9,1555.4 L341.8,1555.3 L342.7,1555.2 L343.7,1555.0 L344.8,1554.7 L346.0,1554.5 L347.2,1554.3 L348.4,1554.0 L349.7,1553.8 L350.9,1553.6 L352.1,1553.3 L353.4,1553.0 L354.5,1552.7 L355.7,1552.3 L356.7,1551.9 L357.7,1551.5 L358.6,1550.9 L359.4,1550.3 L360.1,1549.7 L360.8,1549.0 L361.3,1548.2 L361.8,1547.4 L362.3,1546.6 L362.7,1545.7 L363.0,1544.7 L363.3,1543.8 L363.5,1542.8 L363.7,1541.8 L363.9,1540.7 L364.1,1539.6 L364.2,1538.6 L364.3,1537.4 L364.4,1536.3 L364.5,1535.2 L364.6,1534.1 L364.6,1532.9 L364.7,1531.8 L364.8,1530.6 L364.8,1529.4 L364.9,1528.3 L365.0,1527.1 L365.0,1526.0 L365.1,1524.8 L365.2,1523.7 L365.3,1522.6 L365.4,1521.4 L365.5,1520.3 L365.6,1519.2 L365.8,1518.0 L365.9,1516.9 L366.0,1515.8 L366.1,1514.7 L366.3,1513.6 L366.4,1512.5 L366.6,1511.4 L366.7,1510.3 L366.9,1509.2 L367.0,1508.1 L367.2,1507.0 L367.3,1505.8 L367.5,1504.7 L367.6,1503.6 L367.8,1502.5 L367.9,1501.4 L368.1,1500.3 L368.2,1499.2 L368.4,1498.1 L368.5,1497.0 L368.7,1495.9 L368.8,1494.8 L369.0,1493.7 L369.1,1492.6 L369.2,1491.5 L369.4,1490.4 L369.5,1489.3 L369.7,1488.2 L369.8,1487.1 L370.0,1486.0 L370.1,1484.9 L370.3,1483.8 L370.4,1482.7 L370.5,1481.6 L370.7,1480.5 L370.8,1479.4 L371.0,1478.3 L371.1,1477.2 L371.2,1476.1 L371.4,1475.0 L371.5,1473.9 L371.7,1472.8 L371.8,1471.7 L371.9,1470.6 L372.1,1469.5 L372.2,1468.4 L372.3,1467.3 L372.5,1466.2 L372.6,1465.1 L372.7,1464.0 L372.9,1462.9 L373.0,1461.8 L373.1,1460.7 L373.3,1459.6 L373.4,1458.5 L373.5,1457.4 L373.7,1456.3 L373.8,1455.2 L373.9,1454.1 L374.1,1453.0 L374.2,1451.9 L374.3,1450.8 L374.4,1449.7 L374.6,1448.6 L374.7,1447.5 L374.8,1446.4 L374.9,1445.3 L375.1,1444.1 L375.2,1443.0 L375.3,1441.9 L375.4,1440.8 L375.5,1439.7 L375.7,1438.6 L375.8,1437.5 L375.9,1436.4 L376.0,1435.3 L376.1,1434.2 L376.3,1433.1 L376.4,1431.9 L376.5,1430.8 L376.6,1429.7 L376.7,1428.6 L376.8,1427.5 L376.9,1426.4 L377.1,1425.3 L377.2,1424.2 L377.3,1423.0 L377.4,1421.9 L377.5,1420.8 L377.6,1419.7 L377.7,1418.6 L377.8,1417.5 L377.9,1416.3 L378.0,1415.2 L378.1,1414.1 L378.2,1413.0 L378.3,1411.9 L378.5,1410.7 L378.6,1409.6 L378.7,1408.5 L378.8,1407.4 L378.9,1406.2 L379.0,1405.1 L379.1,1404.0 L379.2,1402.9 L379.2,1401.7 L379.3,1400.6 L379.4,1399.5 L379.5,1398.4 L379.6,1397.2 L379.7,1396.1 L379.8,1395.0 L379.9,1393.8 L380.0,1392.7 L380.1,1391.6 L380.2,1390.4 L380.3,1389.3 L380.4,1388.2 L380.4,1387.0 L380.5,1385.9 L380.6,1384.8 L380.7,1383.7 L380.8,1382.5 L380.9,1381.4 L381.0,1380.3 L381.1,1379.2 L381.2,1378.1 L381.3,1377.0 L381.4,1375.9 L381.5,1374.8 L381.6,1373.8 L381.7,1372.7 L381.8,1371.6 L381.9,1370.6 L382.0,1369.5 L382.1,1368.5 L382.2,1367.5 L382.4,1366.5 L382.5,1365.5 L382.6,1364.5 L382.8,1363.5 L382.9,1362.5 L383.0,1361.5 L383.2,1360.6 L383.3,1359.6 L383.5,1358.6 L383.6,1357.6 L383.7,1356.6 L383.9,1355.6 L384.0,1354.6 L384.2,1353.6 L384.3,1352.6 L384.5,1351.5 L384.6,1350.5 L384.7,1349.4 L384.9,1348.3 L385.0,1347.2 L385.1,1346.1 L385.2,1344.9 L385.4,1343.7 L385.5,1342.5 L385.6,1341.2 L385.7,1339.9 L385.8,1338.6 L385.9,1337.3 L386.0,1335.9 L386.1,1334.4 L386.1,1333.0 L386.2,1331.4 L386.3,1329.9 L386.3,1328.3 L386.4,1326.8 L386.5,1325.2 L386.6,1323.6 L386.7,1322.1 L386.8,1320.6 L386.9,1319.2 L387.0,1317.8 L387.2,1316.5 L387.4,1315.3 L387.6,1314.1 L387.9,1313.1 L388.2,1312.2 L388.5,1311.4 L388.9,1310.8 L389.3,1310.3 L389.7,1310.0 L390.2,1309.8 L390.8,1309.9 L391.4,1310.1 L392.1,1310.5 L392.8,1311.0 L393.5,1311.7 L394.2,1312.5 L394.9,1313.4 L395.6,1314.3 L396.3,1315.3 L397.0,1316.3 L397.6,1317.3 L398.2,1318.3 L398.7,1319.3 L399.2,1320.3 L399.7,1321.4 L400.1,1322.4 L400.5,1323.5 L400.9,1324.5 L401.2,1325.6 L401.6,1326.7 L401.9,1327.7 L402.1,1328.8 L402.4,1329.9 L402.6,1331.0 L402.8,1332.1 L402.9,1333.2 L403.1,1334.3 L403.2,1335.4 L403.3,1336.5 L403.4,1337.6 L403.5,1338.7 L403.6,1339.8 L403.6,1340.9 L403.7,1342.1 L403.7,1343.2 L403.7,1344.3 L403.7,1345.4 L403.7,1346.6 L403.7,1347.7 L403.7,1348.8 L403.7,1350.0 L403.7,1351.1 L403.7,1352.2 L403.6,1353.4 L403.6,1354.5 L403.6,1355.6 L403.6,1356.8 L403.6,1357.9 L403.6,1359.0 L403.6,1360.2 L403.6,1361.3 L403.6,1362.4 L403.6,1363.6 L403.6,1364.7 L403.6,1365.8 L403.6,1366.9 L403.7,1368.1 L403.7,1369.2 L403.7,1370.3 L403.7,1371.4 L403.8,1372.6 L403.8,1373.7 L403.8,1374.8 L403.9,1375.9 L403.9,1377.1 L403.9,1378.2 L404.0,1379.3 L404.0,1380.4 L404.1,1381.6 L404.1,1382.7 L404.2,1383.8 L404.2,1384.9 L404.3,1386.0 L404.4,1387.2 L404.4,1388.3 L404.5,1389.4 L404.6,1390.5 L404.6,1391.6 L404.7,1392.8 L404.8,1393.9 L404.9,1395.0 L404.9,1396.1 L405.0,1397.2 L405.1,1398.3 L405.2,1399.5 L405.3,1400.6 L405.4,1401.7 L405.4,1402.8 L405.5,1403.9 L405.6,1405.0 L405.7,1406.1 L405.8,1407.3 L405.9,1408.4 L406.0,1409.5 L406.1,1410.6 L406.2,1411.7 L406.3,1412.8 L406.4,1413.9 L406.5,1415.1 L406.6,1416.2 L406.7,1417.3 L406.9,1418.4 L407.0,1419.5 L407.1,1420.6 L407.2,1421.7 L407.3,1422.8 L407.4,1423.9 L407.5,1425.0 L407.7,1426.2 L407.8,1427.3 L407.9,1428.4 L408.0,1429.5 L408.1,1430.6 L408.3,1431.7 L408.4,1432.8 L408.5,1433.9 L408.6,1435.0 L408.7,1436.1 L408.9,1437.2 L409.0,1438.3 L409.1,1439.4 L409.2,1440.6 L409.4,1441.7 L409.5,1442.8 L409.6,1443.9 L409.8,1445.0 L409.9,1446.1 L410.0,1447.2 L410.1,1448.3 L410.3,1449.4 L410.4,1450.5 L410.5,1451.6 L410.7,1452.7 L410.8,1453.8 L410.9,1454.9 L411.1,1456.0 L411.2,1457.1 L411.3,1458.2 L411.4,1459.3 L411.6,1460.4 L411.7,1461.6 L411.8,1462.7 L412.0,1463.8 L412.1,1464.9 L412.2,1466.0 L412.4,1467.1 L412.5,1468.2 L412.6,1469.3 L412.7,1470.4 L412.9,1471.5 L413.0,1472.6 L413.1,1473.7 L413.2,1474.8 L413.4,1475.9 L413.5,1477.0 L413.6,1478.1 L413.7,1479.2 L413.9,1480.3 L414.0,1481.4 L414.1,1482.5 L414.2,1483.6 L414.3,1484.7 L414.5,1485.9 L414.6,1487.0 L414.7,1488.1 L414.8,1489.2 L414.9,1490.3 L415.1,1491.4 L415.2,1492.5 L415.3,1493.6 L415.4,1494.7 L415.5,1495.8 L415.6,1496.9 L415.8,1498.0 L415.9,1499.1 L416.0,1500.2 L416.1,1501.3 L416.2,1502.4 L416.4,1503.5 L416.5,1504.6 L416.6,1505.7 L416.7,1506.8 L416.8,1508.0 L417.0,1509.1 L417.1,1510.2 L417.2,1511.3 L417.3,1512.4 L417.4,1513.5 L417.6,1514.6 L417.7,1515.7 L417.8,1516.8 L417.9,1517.9 L418.1,1519.0 L418.2,1520.1 L418.3,1521.2 L418.4,1522.3 L418.6,1523.4 L418.7,1524.5 L418.8,1525.7 L419.0,1526.8 L419.1,1527.9 L419.2,1529.0 L419.4,1530.1 L419.5,1531.2 L419.6,1532.3 L419.8,1533.4 L419.9,1534.5 L420.1,1535.6 L420.2,1536.7 L420.3,1537.8 L420.5,1539.0 L420.6,1540.1 L420.8,1541.2 L420.9,1542.3 L421.1,1543.4 L421.2,1544.5 L421.4,1545.6 L421.5,1546.7 L421.7,1547.8 L421.8,1548.9 L422.0,1550.0 L422.2,1551.2 L422.3,1552.3 L422.5,1553.4 L422.7,1554.5 L422.8,1555.6 L423.0,1556.7 L423.2,1557.8 L423.4,1558.9 L423.5,1560.0 L423.7,1561.1 L423.9,1562.3 L424.1,1563.4 L424.3,1564.5 L424.5,1565.6 L424.7,1566.7 L424.8,1567.8 L425.0,1568.9 L425.2,1570.0 L425.4,1571.1 L425.7,1572.2 L425.9,1573.3 L426.1,1574.5 L426.3,1575.6 L426.5,1576.7 L426.7,1577.8 L427.0,1578.9 L427.2,1580.0 L427.4,1581.1 L427.7,1582.2 L427.9,1583.3 L428.2,1584.4 L428.4,1585.5 L428.7,1586.6 L428.9,1587.7 L429.2,1588.7 L429.4,1589.8 L429.7,1590.9 L430.0,1592.0 L430.3,1593.1 L430.6,1594.2 L430.8,1595.3 L431.1,1596.3 L431.4,1597.4 L431.7,1598.5 L432.1,1599.6 L432.4,1600.6 L432.7,1601.7 L433.0,1602.8 L433.3,1603.8 L433.7,1604.9 L434.0,1606.0 L434.4,1607.0 L434.7,1608.1 L435.1,1609.1 L435.4,1610.2 L435.8,1611.2 L436.2,1612.3 L436.6,1613.3 L437.0,1614.4 L437.4,1615.4 L437.8,1616.4 L438.2,1617.5 L438.6,1618.5 L439.0,1619.5 L439.4,1620.5 L439.9,1621.6 L440.3,1622.6 L440.8,1623.6 L441.2,1624.6 L441.7,1625.6 L442.2,1626.6 L442.6,1627.6 L443.1,1628.6 L443.6,1629.6 L444.1,1630.6 L444.6,1631.6 L445.1,1632.5 L445.7,1633.5 L446.2,1634.5 L446.7,1635.5 L447.3,1636.4 L447.8,1637.4 L448.4,1638.3 L449.0,1639.3 L449.6,1640.2 L450.2,1641.1 L450.8,1642.0 L451.4,1642.9 L452.1,1643.8 L452.7,1644.7 L453.4,1645.6 L454.0,1646.5 L454.7,1647.4 L455.4,1648.2 L456.1,1649.0 L456.9,1649.9 L457.6,1650.7 L458.4,1651.5 L459.1,1652.3 L459.9,1653.0 L460.7,1653.8 L461.5,1654.5 L462.4,1655.3 L463.2,1656.0 L464.1,1656.7 L465.0,1657.3 L465.9,1658.0 L466.8,1658.7 L467.7,1659.3 L468.6,1659.9 L469.6,1660.5 L470.5,1661.1 L471.5,1661.7 L472.5,1662.2 L473.5,1662.8 L474.5,1663.3 L475.5,1663.8 L476.5,1664.3 L477.6,1664.8 L478.6,1665.2 L479.6,1665.7 L480.7,1666.1 L481.8,1666.5 L482.8,1666.9 L483.9,1667.3 L485.0,1667.6 L486.1,1667.9 L487.2,1668.3 L488.3,1668.6 L489.4,1668.8 L490.5,1669.1 L491.6,1669.3 L492.8,1669.6 L493.9,1669.8 L495.0,1669.9 L496.1,1670.1 L497.3,1670.2 L498.4,1670.3 L499.5,1670.4 L500.6,1670.5 L501.7,1670.5 L502.8,1670.5 L504.0,1670.5 L505.1,1670.4 L506.2,1670.3 L507.2,1670.2 L508.3,1670.1 L509.4,1669.9 L510.5,1669.7 L511.5,1669.5 L512.6,1669.2 L513.6,1668.9 L514.6,1668.6 L515.7,1668.2 L516.7,1667.8 L517.6,1667.4 L518.6,1666.9 L519.6,1666.4 L520.5,1665.8 L521.4,1665.2 L522.3,1664.6 L523.2,1663.9 L524.1,1663.2 L525.0,1662.5 L525.8,1661.8 L526.7,1661.0 L527.5,1660.2 L528.3,1659.4 L529.1,1658.5 L529.8,1657.7 L530.6,1656.8 L531.3,1655.9 L532.0,1655.0 L532.7,1654.1 L533.4,1653.2 L534.1,1652.3 L534.8,1651.3 L535.4,1650.4 L536.0,1649.5 L536.6,1648.5 L537.2,1647.6 L537.8,1646.7 L538.4,1645.7 L538.9,1644.8 L539.5,1643.9 L540.0,1643.0 L540.5,1642.1 L541.1,1641.2 L541.6,1640.3 L542.1,1639.4 L542.7,1638.5 L543.2,1637.6 L543.8,1636.7 L544.4,1635.7 L545.1,1634.8 L545.7,1633.8 L546.4,1632.8 L547.2,1631.9 L547.9,1630.8 L548.8,1629.8 L549.6,1628.8 L550.5,1627.7 L551.4,1626.7 L552.4,1625.7 L553.3,1624.7 L554.3,1623.8 L555.3,1622.9 L556.3,1622.0 L557.3,1621.3 L558.2,1620.5 L559.2,1619.9 L560.2,1619.4 L561.1,1618.9 L562.0,1618.6 L562.9,1618.4 L563.7,1618.3 L564.5,1618.3 L565.2,1618.5 L565.9,1618.9 L566.6,1619.4 L567.2,1620.0 L567.8,1620.7 L568.3,1621.5 L568.8,1622.5 L569.3,1623.5 L569.8,1624.5 L570.3,1625.6 L570.7,1626.8 L571.2,1628.0 L571.7,1629.2 L572.2,1630.4 L572.7,1631.6 L573.2,1632.8 L573.8,1633.9 L574.4,1635.0 L575.0,1636.0 L575.7,1637.0 L576.4,1637.9 L577.2,1638.6 L578.0,1639.3 L578.9,1639.9 L579.8,1640.4 L580.8,1640.8 L581.9,1641.1 L582.9,1641.4 L584.0,1641.7 L585.1,1642.0 L586.3,1642.2 L587.4,1642.5 L588.6,1642.8 L589.8,1643.1 L590.9,1643.5 L592.1,1643.9 L593.2,1644.4 L594.4,1644.9 L595.5,1645.4 L596.6,1645.8 L597.7,1646.3 L598.8,1646.7 L599.8,1647.0 L600.8,1647.3 L601.7,1647.4 L602.7,1647.5 L603.5,1647.4 L604.3,1647.2 L605.1,1646.9 L605.9,1646.4 L606.6,1645.9 L607.2,1645.2 L607.8,1644.5 L608.4,1643.6 L609.0,1642.7 L609.5,1641.7 L610.0,1640.6 L610.5,1639.5 L611.0,1638.3 L611.4,1637.1 L611.8,1635.8 L612.3,1634.6 L612.7,1633.3 L613.1,1632.0 L613.4,1630.7 L613.8,1629.4 L614.2,1628.1 L614.6,1626.8 L615.0,1625.6 L615.3,1624.4 L615.7,1623.2 L616.1,1622.1 L616.5,1621.0 L616.9,1619.9 L617.3,1618.9 L617.7,1617.8 L618.1,1616.8 L618.4,1615.8 L618.8,1614.8 L619.2,1613.8 L619.6,1612.8 L619.9,1611.8 L620.2,1610.8 L620.6,1609.8 L620.9,1608.8 L621.2,1607.8 L621.5,1606.7 L621.7,1605.6 L622.0,1604.5 L622.2,1603.4 L622.4,1602.2 L622.6,1601.0 L622.8,1599.8 L622.9,1598.5 L623.1,1597.3 L623.2,1596.0 L623.3,1594.7 L623.4,1593.3 L623.6,1592.0 L623.7,1590.7 L623.8,1589.3 L623.9,1588.0 L624.1,1586.7 L624.2,1585.4 L624.4,1584.1 L624.5,1582.8 L624.7,1581.5 L625.0,1580.3 L625.2,1579.1 L625.5,1578.0 L625.8,1576.8 L626.1,1575.7 L626.5,1574.7 L626.9,1573.7 L627.3,1572.8 L627.8,1571.9 L628.3,1571.1 L628.9,1570.3 L629.6,1569.6 L630.3,1569.0 L631.0,1568.5 L631.8,1568.0 L632.7,1567.7 L633.6,1567.4 L634.6,1567.2 L635.6,1567.0 L636.6,1567.0 L637.7,1567.0 L638.7,1567.2 L639.8,1567.4 L640.8,1567.6 L641.8,1568.0 L642.8,1568.4 L643.7,1568.9 L644.6,1569.5 L645.4,1570.1 L646.1,1570.8 L646.8,1571.6 L647.3,1572.5 L647.8,1573.4 L648.2,1574.3 L648.6,1575.4 L648.9,1576.4 L649.2,1577.5 L649.4,1578.6 L649.6,1579.8 L649.8,1581.0 L650.0,1582.2 L650.2,1583.4 L650.3,1584.6 L650.5,1585.8 L650.7,1587.0 L651.0,1588.2 L651.2,1589.4 L651.5,1590.6 L651.9,1591.7 L652.3,1592.8 L652.8,1593.8 L653.3,1594.9 L653.9,1595.8 L654.6,1596.7 L655.4,1597.6 L656.1,1598.5 L656.9,1599.4 L657.6,1600.2 L658.2,1601.1 L658.7,1602.0 L659.2,1603.0 L659.6,1603.9 L660.0,1604.9 L660.3,1605.9 L660.6,1606.9 L660.9,1608.0 L661.1,1609.0 L661.3,1610.1 L661.6,1611.1 L661.8,1612.2 L662.0,1613.3 L662.1,1614.4 L662.3,1615.5 L662.5,1616.6 L662.7,1617.7 L662.8,1618.8 L663.0,1620.0 L663.1,1621.1 L663.3,1622.2 L663.4,1623.4 L663.6,1624.5 L663.8,1625.7 L663.9,1626.8 L664.1,1628.0 L664.3,1629.1 L664.5,1630.3 L664.6,1631.4 L664.8,1632.6 L665.0,1633.7 L665.2,1634.8 L665.5,1636.0 L665.7,1637.1 L666.0,1638.2 L666.2,1639.3 L666.5,1640.4 L666.8,1641.5 L667.1,1642.6 L667.4,1643.7 L667.8,1644.8 L668.1,1645.8 L668.5,1646.9 L669.0,1647.9 L669.4,1648.9 L669.8,1649.9 L670.3,1650.9 L670.8,1651.9 L671.3,1652.8 L671.9,1653.8 L672.5,1654.7 L673.0,1655.7 L673.7,1656.6 L674.3,1657.5 L674.9,1658.3 L675.6,1659.2 L676.3,1660.1 L677.0,1660.9 L677.7,1661.7 L678.4,1662.5 L679.2,1663.3 L679.9,1664.1 L680.7,1664.9 L681.5,1665.6 L682.3,1666.4 L683.2,1667.1 L684.0,1667.8 L684.9,1668.5 L685.7,1669.2 L686.6,1669.9 L687.5,1670.6 L688.4,1671.2 L689.3,1671.9 L690.3,1672.5 L691.2,1673.1 L692.1,1673.7 L693.1,1674.3 L694.1,1674.8 L695.1,1675.4 L696.0,1675.9 L697.0,1676.5 L698.0,1677.0 L699.0,1677.5 L700.1,1678.0 L701.1,1678.4 L702.1,1678.9 L703.2,1679.3 L704.2,1679.8 L705.2,1680.2 L706.3,1680.6 L707.4,1681.0 L708.4,1681.4 L709.5,1681.7 L710.5,1682.1 L711.6,1682.4 L712.7,1682.7 L713.8,1683.1 L714.8,1683.4 L715.9,1683.7 L717.0,1683.9 L718.1,1684.2 L719.2,1684.4 L720.2,1684.7 L721.3,1684.9 L722.4,1685.1 L723.5,1685.4 L724.6,1685.6 L725.7,1685.8 L726.8,1685.9 L727.9,1686.1 L729.0,1686.3 L730.1,1686.4 L731.2,1686.6 L732.3,1686.7 L733.4,1686.9 L734.5,1687.0 L735.6,1687.1 L736.7,1687.3 L737.8,1687.4 L738.9,1687.5 L740.0,1687.6 L741.2,1687.7 L742.3,1687.8 L743.4,1687.9 L744.5,1688.0 L745.6,1688.1 L746.7,1688.1 L747.8,1688.2 L749.0,1688.3 L750.1,1688.4 L751.2,1688.5 L752.3,1688.5 L753.4,1688.6 L754.5,1688.7 L755.7,1688.7 L756.8,1688.8 L757.9,1688.9 L759.0,1688.9 L760.1,1689.0 L761.2,1689.1 L762.3,1689.1 L763.5,1689.2 L764.6,1689.3 L765.7,1689.3 L766.8,1689.4 L767.9,1689.5 L769.0,1689.5 L770.2,1689.6 L771.3,1689.7 L772.4,1689.7 L773.5,1689.8 L774.6,1689.8 L775.7,1689.9 L776.8,1690.0 L778.0,1690.0 L779.1,1690.1 L780.2,1690.1 L781.3,1690.2 L782.4,1690.2 L783.5,1690.3 L784.7,1690.3 L785.8,1690.4 L786.9,1690.5 L788.0,1690.5 L789.1,1690.6 L790.2,1690.6 L791.3,1690.7 L792.5,1690.7 L793.6,1690.8 L794.7,1690.8 L795.8,1690.9 L796.9,1690.9 L798.0,1691.0 L799.1,1691.0 L800.3,1691.0 L801.4,1691.1 L802.5,1691.1 L803.6,1691.2 L804.7,1691.2 L805.8,1691.3 L807.0,1691.3 L808.1,1691.4 L809.2,1691.4 L810.3,1691.4 L811.4,1691.5 L812.5,1691.5 L813.6,1691.6 L814.8,1691.6 L815.9,1691.6 L817.0,1691.7 L818.1,1691.7 L819.2,1691.8 L820.3,1691.8 L821.4,1691.8 L822.6,1691.9 L823.7,1691.9 L824.8,1692.0 L825.9,1692.0 L827.0,1692.0 L828.1,1692.1 L829.2,1692.1 L830.4,1692.1 L831.5,1692.2 L832.6,1692.2 L833.7,1692.2 L834.8,1692.3 L835.9,1692.3 L837.1,1692.3 L838.2,1692.4 L839.3,1692.4 L840.4,1692.4 L841.5,1692.4 L842.6,1692.5 L843.7,1692.5 L844.9,1692.5 L846.0,1692.6 L847.1,1692.6 L848.2,1692.6 L849.3,1692.6 L850.4,1692.7 L851.5,1692.7 L852.7,1692.7 L853.8,1692.7 L854.9,1692.8 L856.0,1692.8 L857.1,1692.8 L858.2,1692.8 L859.3,1692.9 L860.5,1692.9 L861.6,1692.9 L862.7,1692.9 L863.8,1693.0 L864.9,1693.0 L866.0,1693.0 L867.2,1693.0 L868.3,1693.1 L869.4,1693.1 L870.5,1693.1 L871.6,1693.1 L872.7,1693.1 L873.8,1693.2 L875.0,1693.2 L876.1,1693.2 L877.2,1693.2 L878.3,1693.2 L879.4,1693.2 L880.5,1693.3 L881.6,1693.3 L882.8,1693.3 L883.9,1693.3 L885.0,1693.3 L886.1,1693.4 L887.2,1693.4 L888.3,1693.4 L889.4,1693.4 L890.6,1693.4 L891.7,1693.4 L892.8,1693.5 L893.9,1693.5 L895.0,1693.5 L896.1,1693.5 L897.2,1693.5 L898.4,1693.5 L899.5,1693.5 L900.6,1693.6 L901.7,1693.6 L902.8,1693.6 L903.9,1693.6 L905.1,1693.6 L906.2,1693.6 L907.3,1693.6 L908.4,1693.6 L909.5,1693.7 L910.6,1693.7 L911.7,1693.7 L912.9,1693.7 L914.0,1693.7 L915.1,1693.7 L916.2,1693.7 L917.3,1693.7 L918.4,1693.7 L919.5,1693.8 L920.7,1693.8 L921.8,1693.8 L922.9,1693.8 L924.0,1693.8 L925.1,1693.8 L926.2,1693.8 L927.4,1693.8 L928.5,1693.8 L929.6,1693.8 L930.7,1693.9 L931.8,1693.9 L932.9,1693.9 L934.0,1693.9 L935.2,1693.9 L936.3,1693.9 L937.4,1693.9 L938.5,1693.9 L939.6,1693.9 L940.7,1693.9 L941.8,1693.9 L943.0,1694.0 L944.1,1694.0 L945.2,1694.0 L946.3,1694.0 L947.4,1694.0 L948.5,1694.0 L949.7,1694.0 L950.8,1694.0 L951.9,1694.0 L953.0,1694.0 L954.1,1694.0 L955.2,1694.0 L956.3,1694.0 L957.5,1694.1 L958.6,1694.1 L959.7,1694.1 L960.8,1694.1 L961.9,1694.1 L963.0,1694.1 L964.2,1694.1 L965.3,1694.1 L966.4,1694.1 L967.5,1694.1 L968.6,1694.1 L969.7,1694.1 L970.8,1694.1 L972.0,1694.1 L973.1,1694.1 L974.2,1694.2 L975.3,1694.2 L976.4,1694.2 L977.5,1694.2 L978.7,1694.2 L979.8,1694.2 L980.9,1694.2 L982.0,1694.2 L983.1,1694.2 L984.2,1694.2 L985.4,1694.2 L986.5,1694.2 L987.6,1694.2 L988.7,1694.3 L989.8,1694.3 L990.9,1694.3 L992.0,1694.3 L993.2,1694.3 L994.3,1694.3 L995.4,1694.3 L996.5,1694.3 L997.6,1694.3 L998.7,1694.3 L999.9,1694.3 L1001.0,1694.3 L1002.1,1694.3 L1003.2,1694.4 L1004.3,1694.4 L1005.4,1694.4 L1006.6,1694.4 L1007.7,1694.4 L1008.8,1694.4 L1009.9,1694.4 L1011.0,1694.4 L1012.1,1694.4 L1013.3,1694.4 L1014.4,1694.4 L1015.5,1694.5 L1016.6,1694.5 L1017.7,1694.5 L1018.8,1694.5 L1020.0,1694.5 L1021.1,1694.5 L1022.2,1694.5 L1023.3,1694.5 L1024.4,1694.5 L1025.5,1694.5 L1026.7,1694.6 L1027.8,1694.6 L1028.9,1694.6 L1030.0,1694.6" fill="none" stroke="#FF0000" stroke-width="9" stroke-linecap="round" stroke-linejoin="round" stroke-dasharray="31 23 3 23"/>
<path d="M237.5,1601.1 L238.2,1599.6 L238.9,1597.5 L239.7,1594.9 L240.5,1592.1 L241.6,1589.0 L242.7,1586.1 L244.0,1583.3 L245.4,1580.9 L247.0,1579.1 L248.8,1577.9 L250.7,1577.3 L252.6,1577.3 L254.7,1577.8 L256.8,1578.8 L258.9,1580.2 L261.0,1582.0 L263.1,1584.0 L265.1,1586.2 L267.1,1588.3 L269.1,1590.1 L271.1,1591.6 L273.1,1592.5 L275.1,1592.6 L277.1,1592.0 L278.9,1590.8 L280.5,1589.0 L281.8,1586.9 L282.8,1584.5 L283.6,1581.9 L284.3,1579.2 L284.9,1576.6 L285.6,1573.9 L286.2,1571.3 L286.8,1568.6 L287.4,1566.0 L288.0,1563.5 L288.6,1560.9 L289.2,1558.3 L289.7,1555.8 L290.3,1553.3 L290.8,1550.7 L291.3,1548.2 L291.9,1545.7 L292.4,1543.2 L292.9,1540.8 L293.3,1538.3 L293.8,1535.8 L294.3,1533.3 L294.7,1530.9 L295.1,1528.4 L295.6,1525.9 L296.0,1523.4 L296.4,1521.0 L296.8,1518.5 L297.2,1516.0 L297.5,1513.5 L297.9,1511.0 L298.3,1508.5 L298.6,1506.0 L299.0,1503.5 L299.4,1501.0 L299.7,1498.5 L300.1,1495.9 L300.5,1493.4 L300.9,1490.9 L301.3,1488.3 L301.8,1485.8 L302.3,1483.2 L302.7,1480.6 L303.3,1478.0 L303.8,1475.4 L304.4,1472.8 L305.0,1470.2 L305.7,1467.6 L306.3,1465.0 L307.1,1462.4 L307.8,1459.7 L308.7,1457.1 L309.5,1454.4 L310.5,1451.7 L311.4,1449.2 L312.5,1446.8 L313.6,1445.0 L314.8,1443.8 L316.1,1443.4 L317.5,1443.9 L319.0,1445.2 L320.4,1447.2 L321.8,1449.5 L323.2,1452.1 L324.4,1454.8 L325.5,1457.4 L326.4,1460.0 L327.3,1462.5 L328.0,1465.1 L328.7,1467.6 L329.3,1470.1 L329.9,1472.5 L330.4,1475.0 L331.0,1477.5 L331.5,1480.0 L332.1,1482.5 L332.6,1485.0 L333.3,1487.6 L333.9,1490.1 L334.6,1492.7 L335.4,1495.3 L336.2,1498.0 L337.2,1500.7 L338.2,1503.4 L339.3,1505.9 L340.5,1508.0 L341.7,1509.7 L343.1,1510.7 L344.5,1510.9 L345.9,1510.2 L347.3,1508.8 L348.7,1507.0 L349.8,1505.0 L350.7,1502.7 L351.5,1500.3 L352.2,1497.7 L352.7,1495.1 L353.2,1492.3 L353.6,1489.5 L353.9,1486.7 L354.2,1483.8 L354.5,1481.0 L354.8,1478.2 L355.2,1475.5 L355.5,1472.8 L355.9,1470.2 L356.3,1467.6 L356.7,1465.0 L357.1,1462.4 L357.5,1459.9 L357.9,1457.3 L358.2,1454.8 L358.6,1452.3 L359.0,1449.8 L359.4,1447.3 L359.8,1444.8 L360.1,1442.3 L360.5,1439.8 L360.8,1437.3 L361.1,1434.7 L361.4,1432.2 L361.8,1429.7 L362.1,1427.2 L362.4,1424.7 L362.7,1422.2 L363.0,1419.6 L363.2,1417.1 L363.5,1414.6 L363.8,1412.1 L364.0,1409.5 L364.3,1407.0 L364.5,1404.5 L364.8,1402.0 L365.0,1399.4 L365.3,1396.9 L365.5,1394.3 L365.7,1391.8 L365.9,1389.3 L366.2,1386.7 L366.4,1384.2 L366.6,1381.6 L366.8,1379.1 L367.0,1376.5 L367.2,1374.0 L367.4,1371.4 L367.6,1368.9 L367.8,1366.3 L367.9,1363.8 L368.1,1361.2 L368.3,1358.6 L368.5,1356.1 L368.7,1353.5 L368.8,1350.9 L369.0,1348.3 L369.2,1345.8 L369.4,1343.2 L369.5,1340.6 L369.7,1338.0 L369.9,1335.4 L370.0,1332.9 L370.2,1330.3 L370.4,1327.7 L370.6,1325.1 L370.7,1322.5 L370.9,1319.9 L371.1,1317.3 L371.2,1314.7 L371.4,1312.1 L371.6,1309.4 L371.8,1306.8 L371.9,1304.2 L372.1,1301.6 L372.3,1299.0 L372.5,1296.3 L372.7,1293.7 L372.9,1291.1 L373.1,1288.4 L373.2,1285.8 L373.4,1283.2 L373.6,1280.5 L373.8,1277.9 L374.0,1275.3 L374.2,1272.7 L374.4,1270.1 L374.6,1267.5 L374.8,1264.9 L375.0,1262.3 L375.2,1259.7 L375.4,1257.2 L375.6,1254.6 L375.8,1252.1 L376.0,1249.6 L376.1,1247.1 L376.3,1244.6 L376.5,1242.2 L376.7,1239.8 L376.8,1237.4 L377.0,1235.0 L377.2,1232.6 L377.3,1230.3 L377.5,1228.0 L377.6,1225.7 L377.8,1223.4 L377.9,1221.2 L378.1,1218.9 L378.2,1216.6 L378.4,1214.4 L378.5,1212.1 L378.7,1209.8 L378.8,1207.5 L379.0,1205.1 L379.2,1202.7 L379.4,1200.3 L379.6,1197.8 L379.8,1195.3 L380.1,1192.7 L380.3,1190.1 L380.6,1187.4 L380.9,1184.6 L381.2,1181.8 L381.5,1178.9 L381.9,1175.8 L382.2,1172.7 L382.6,1169.5 L383.1,1166.2 L383.5,1162.8 L384.0,1159.3 L384.5,1155.8 L385.1,1152.4 L385.6,1149.1 L386.2,1145.9 L386.8,1143.1 L387.3,1140.6 L388.0,1138.4 L388.6,1136.7 L389.2,1135.5 L389.8,1134.9 L390.4,1135.0 L391.1,1135.7 L391.7,1136.9 L392.3,1138.6 L392.9,1140.8 L393.5,1143.4 L394.1,1146.3 L394.6,1149.4 L395.2,1152.7 L395.7,1156.2 L396.2,1159.7 L396.6,1163.2 L397.1,1166.6 L397.5,1169.9 L397.9,1173.1 L398.2,1176.2 L398.5,1179.2 L398.8,1182.1 L399.1,1184.9 L399.4,1187.7 L399.6,1190.4 L399.8,1193.0 L400.0,1195.6 L400.2,1198.1 L400.4,1200.5 L400.5,1202.9 L400.7,1205.3 L400.8,1207.6 L401.0,1209.9 L401.1,1212.2 L401.2,1214.5 L401.3,1216.8 L401.4,1219.0 L401.6,1221.3 L401.7,1223.5 L401.8,1225.8 L401.9,1228.1 L402.1,1230.4 L402.2,1232.8 L402.3,1235.2 L402.5,1237.6 L402.7,1240.0 L402.8,1242.4 L403.0,1244.9 L403.2,1247.4 L403.3,1249.9 L403.5,1252.4 L403.7,1255.0 L403.9,1257.6 L404.1,1260.1 L404.3,1262.7 L404.5,1265.3 L404.7,1267.9 L404.9,1270.6 L405.1,1273.2 L405.3,1275.8 L405.5,1278.5 L405.7,1281.1 L405.9,1283.8 L406.1,1286.4 L406.3,1289.0 L406.5,1291.7 L406.7,1294.3 L406.9,1297.0 L407.1,1299.6 L407.3,1302.2 L407.4,1304.8 L407.6,1307.4 L407.8,1310.0 L407.9,1312.6 L408.1,1315.2 L408.3,1317.8 L408.4,1320.4 L408.6,1323.0 L408.7,1325.6 L408.9,1328.1 L409.0,1330.7 L409.2,1333.3 L409.4,1335.8 L409.5,1338.4 L409.7,1340.9 L409.8,1343.5 L410.0,1346.1 L410.1,1348.6 L410.3,1351.2 L410.4,1353.7 L410.6,1356.3 L410.7,1358.8 L410.9,1361.4 L411.1,1363.9 L411.2,1366.5 L411.4,1369.0 L411.6,1371.6 L411.8,1374.1 L411.9,1376.7 L412.1,1379.2 L412.3,1381.8 L412.5,1384.3 L412.6,1386.9 L412.8,1389.4 L413.0,1392.0 L413.2,1394.5 L413.4,1397.1 L413.6,1399.6 L413.8,1402.2 L414.0,1404.7 L414.2,1407.3 L414.4,1409.8 L414.6,1412.4 L414.8,1414.9 L415.0,1417.5 L415.2,1420.0 L415.4,1422.6 L415.6,1425.1 L415.8,1427.7 L416.1,1430.2 L416.3,1432.8 L416.5,1435.4 L416.7,1437.9 L416.9,1440.5 L417.2,1443.0 L417.4,1445.6 L417.6,1448.1 L417.9,1450.7 L418.1,1453.3 L418.3,1455.8 L418.6,1458.4 L418.8,1460.9 L419.0,1463.5 L419.3,1466.0 L419.5,1468.6 L419.8,1471.2 L420.0,1473.7 L420.3,1476.3 L420.5,1478.9 L420.8,1481.4 L421.0,1484.0 L421.3,1486.6 L421.5,1489.1 L421.8,1491.7 L422.1,1494.3 L422.3,1496.8 L422.6,1499.4 L422.8,1502.0 L423.1,1504.5 L423.4,1507.1 L423.7,1509.7 L423.9,1512.3 L424.2,1514.8 L424.5,1517.4 L424.8,1520.0 L425.1,1522.5 L425.4,1525.1 L425.7,1527.7 L426.0,1530.2 L426.4,1532.8 L426.7,1535.4 L427.1,1537.9 L427.5,1540.5 L427.8,1543.0 L428.2,1545.6 L428.6,1548.1 L429.1,1550.7 L429.5,1553.2 L429.9,1555.7 L430.4,1558.2 L430.9,1560.8 L431.4,1563.3 L431.9,1565.8 L432.5,1568.3 L433.0,1570.8 L433.6,1573.3 L434.2,1575.8 L434.9,1578.2 L435.5,1580.7 L436.2,1583.2 L436.9,1585.6 L437.6,1588.1 L438.3,1590.5 L439.1,1593.0 L439.9,1595.4 L440.8,1597.8 L441.6,1600.2 L442.5,1602.6 L443.4,1605.0 L444.4,1607.4 L445.3,1609.7 L446.4,1612.1 L447.4,1614.4 L448.6,1616.7 L449.7,1618.9 L451.0,1621.1 L452.3,1623.3 L453.7,1625.4 L455.1,1627.5 L456.6,1629.5 L458.2,1631.4 L460.0,1633.3 L461.7,1635.1 L463.6,1636.9 L465.6,1638.5 L467.7,1640.1 L469.9,1641.6 L472.2,1643.0 L474.6,1644.3 L477.0,1645.5 L479.5,1646.5 L482.0,1647.5 L484.6,1648.3 L487.2,1649.0 L489.7,1649.5 L492.3,1649.9 L494.9,1650.1 L497.5,1650.2 L500.0,1650.1 L502.5,1649.9 L505.0,1649.5 L507.4,1649.0 L509.8,1648.3 L512.2,1647.5 L514.5,1646.6 L516.8,1645.5 L519.0,1644.3 L521.2,1643.0 L523.3,1641.5 L525.3,1640.0 L527.3,1638.3 L529.3,1636.5 L531.1,1634.6 L532.9,1632.6 L534.5,1630.6 L535.9,1628.4 L537.2,1626.2 L538.2,1623.9 L539.1,1621.5 L539.9,1619.1 L540.6,1616.7 L541.2,1614.2 L541.8,1611.8 L542.4,1609.3 L543.1,1606.8 L543.8,1604.4 L544.6,1601.9 L545.4,1599.5 L546.3,1597.1 L547.2,1594.6 L548.1,1592.2 L549.0,1589.8 L550.0,1587.4 L551.0,1585.0 L552.0,1582.7 L553.1,1580.3 L554.1,1577.9 L555.2,1575.6 L556.3,1573.3 L557.4,1570.9 L558.5,1568.6 L559.7,1566.4 L560.9,1564.2 L562.4,1562.2 L564.1,1560.3 L565.9,1558.5 L567.8,1556.8 L569.8,1555.1 L571.8,1553.4 L573.6,1551.5 L575.3,1549.7 L576.9,1547.7 L578.4,1545.6 L579.8,1543.5 L581.0,1541.4 L582.1,1539.1 L583.2,1536.8 L584.1,1534.5 L584.8,1532.1 L585.5,1529.6 L586.1,1527.2 L586.6,1524.7 L587.1,1522.1 L587.5,1519.6 L587.8,1517.0 L588.2,1514.5 L588.5,1511.9 L588.8,1509.3 L589.1,1506.7 L589.4,1504.2 L589.7,1501.6 L590.0,1499.0 L590.4,1496.5 L590.7,1493.9 L591.0,1491.4 L591.3,1488.9 L591.7,1486.3 L592.0,1483.8 L592.3,1481.2 L592.6,1478.7 L592.9,1476.2 L593.3,1473.6 L593.6,1471.1 L593.9,1468.5 L594.2,1466.0 L594.5,1463.5 L594.8,1460.9 L595.1,1458.4 L595.4,1455.8 L595.6,1453.3 L595.9,1450.7 L596.2,1448.2 L596.4,1445.6 L596.7,1443.0 L597.0,1440.5 L597.2,1437.9 L597.5,1435.4 L597.7,1432.8 L598.0,1430.2 L598.2,1427.7 L598.4,1425.1 L598.7,1422.5 L598.9,1420.0 L599.1,1417.4 L599.4,1414.8 L599.6,1412.3 L599.8,1409.7 L600.0,1407.1 L600.2,1404.6 L600.4,1402.0 L600.6,1399.4 L600.9,1396.9 L601.1,1394.3 L601.3,1391.7 L601.5,1389.1 L601.7,1386.6 L601.9,1384.0 L602.0,1381.4 L602.2,1378.9 L602.4,1376.3 L602.6,1373.7 L602.8,1371.2 L603.0,1368.6 L603.2,1366.0 L603.4,1363.5 L603.5,1360.9 L603.7,1358.3 L603.9,1355.8 L604.1,1353.2 L604.3,1350.7 L604.4,1348.1 L604.6,1345.5 L604.8,1343.0 L604.9,1340.4 L605.1,1337.8 L605.3,1335.3 L605.4,1332.7 L605.6,1330.2 L605.8,1327.6 L605.9,1325.0 L606.1,1322.5 L606.3,1319.9 L606.4,1317.3 L606.6,1314.8 L606.7,1312.2 L606.9,1309.7 L607.0,1307.1 L607.2,1304.5 L607.4,1302.0 L607.5,1299.4 L607.7,1296.9 L607.8,1294.3 L608.0,1291.7 L608.1,1289.2 L608.2,1286.6 L608.4,1284.1 L608.5,1281.5 L608.7,1278.9 L608.8,1276.4 L609.0,1273.8 L609.1,1271.2 L609.3,1268.7 L609.4,1266.1 L609.5,1263.6 L609.7,1261.0 L609.8,1258.4 L609.9,1255.9 L610.1,1253.3 L610.2,1250.8 L610.4,1248.2 L610.5,1245.6 L610.6,1243.1 L610.8,1240.5 L610.9,1237.9 L611.0,1235.4 L611.2,1232.8 L611.3,1230.2 L611.4,1227.7 L611.6,1225.1 L611.7,1222.6 L611.8,1220.0 L612.0,1217.4 L612.1,1214.9 L612.2,1212.3 L612.4,1209.7 L612.5,1207.2 L612.6,1204.6 L612.8,1202.0 L612.9,1199.5 L613.0,1196.9 L613.2,1194.3 L613.3,1191.8 L613.4,1189.2 L613.5,1186.6 L613.7,1184.0 L613.8,1181.5 L613.9,1178.9 L614.1,1176.3 L614.2,1173.8 L614.3,1171.2 L614.5,1168.6 L614.6,1166.0 L614.7,1163.5 L614.9,1160.9 L615.0,1158.3 L615.1,1155.7 L615.3,1153.1 L615.4,1150.6 L615.5,1148.0 L615.7,1145.4 L615.8,1142.8 L615.9,1140.3 L616.1,1137.7 L616.2,1135.1 L616.3,1132.5 L616.5,1129.9 L616.6,1127.3 L616.8,1124.8 L616.9,1122.2 L617.0,1119.6 L617.2,1117.0 L617.3,1114.4 L617.5,1111.8 L617.6,1109.2 L617.7,1106.6 L617.9,1104.0 L618.0,1101.5 L618.2,1098.9 L618.3,1096.3 L618.5,1093.7 L618.6,1091.1 L618.8,1088.5 L618.9,1085.9 L619.1,1083.3 L619.2,1080.8 L619.4,1078.2 L619.5,1075.7 L619.7,1073.2 L619.8,1070.7 L619.9,1068.2 L620.1,1065.7 L620.2,1063.3 L620.4,1060.9 L620.5,1058.5 L620.6,1056.2 L620.8,1053.9 L620.9,1051.6 L621.0,1049.2 L621.2,1046.9 L621.4,1044.5 L621.5,1042.1 L621.7,1039.6 L621.9,1037.1 L622.1,1034.4 L622.3,1031.7 L622.6,1028.9 L622.9,1025.9 L623.2,1022.9 L623.5,1019.7 L623.8,1016.3 L624.2,1012.9 L624.7,1009.5 L625.1,1006.2 L625.6,1003.2 L626.1,1000.6 L626.7,998.5 L627.3,996.9 L627.9,996.1 L628.6,996.0 L629.3,996.7 L630.0,998.2 L630.7,1000.3 L631.5,1002.8 L632.2,1005.7 L632.9,1008.9 L633.5,1012.3 L634.1,1015.7 L634.6,1019.0 L635.1,1022.3 L635.5,1025.3 L635.8,1028.3 L636.1,1031.1 L636.3,1033.8 L636.5,1036.5 L636.6,1039.0 L636.7,1041.5 L636.7,1043.9 L636.8,1046.3 L636.8,1048.6 L636.8,1050.9 L636.8,1053.2 L636.8,1055.6 L636.9,1057.9 L636.9,1060.3 L636.9,1062.7 L637.0,1065.1 L637.0,1067.6 L637.1,1070.1 L637.2,1072.6 L637.3,1075.2 L637.4,1077.7 L637.5,1080.3 L637.6,1082.9 L637.7,1085.5 L637.9,1088.1 L638.0,1090.7 L638.1,1093.3 L638.3,1095.9 L638.4,1098.5 L638.6,1101.2 L638.7,1103.8 L638.9,1106.4 L639.0,1109.0 L639.2,1111.6 L639.3,1114.2 L639.5,1116.7 L639.6,1119.3 L639.8,1121.9 L640.0,1124.5 L640.1,1127.1 L640.3,1129.7 L640.4,1132.2 L640.6,1134.8 L640.8,1137.4 L640.9,1140.0 L641.1,1142.5 L641.3,1145.1 L641.4,1147.7 L641.6,1150.2 L641.7,1152.8 L641.9,1155.4 L642.1,1157.9 L642.2,1160.5 L642.4,1163.1 L642.6,1165.6 L642.7,1168.2 L642.9,1170.7 L643.0,1173.3 L643.2,1175.9 L643.3,1178.4 L643.5,1181.0 L643.6,1183.5 L643.8,1186.1 L643.9,1188.7 L644.1,1191.2 L644.2,1193.8 L644.4,1196.4 L644.5,1198.9 L644.7,1201.5 L644.8,1204.0 L644.9,1206.6 L645.1,1209.2 L645.2,1211.7 L645.4,1214.3 L645.5,1216.9 L645.6,1219.4 L645.8,1222.0 L645.9,1224.6 L646.0,1227.1 L646.2,1229.7 L646.3,1232.2 L646.4,1234.8 L646.6,1237.4 L646.7,1239.9 L646.8,1242.5 L647.0,1245.1 L647.1,1247.6 L647.2,1250.2 L647.4,1252.8 L647.5,1255.3 L647.6,1257.9 L647.8,1260.5 L647.9,1263.0 L648.0,1265.6 L648.2,1268.2 L648.3,1270.7 L648.4,1273.3 L648.5,1275.8 L648.7,1278.4 L648.8,1281.0 L648.9,1283.5 L649.1,1286.1 L649.2,1288.7 L649.3,1291.2 L649.5,1293.8 L649.6,1296.4 L649.8,1298.9 L649.9,1301.5 L650.0,1304.1 L650.2,1306.6 L650.3,1309.2 L650.4,1311.8 L650.6,1314.3 L650.7,1316.9 L650.9,1319.5 L651.0,1322.0 L651.2,1324.6 L651.3,1327.2 L651.5,1329.7 L651.6,1332.3 L651.8,1334.8 L651.9,1337.4 L652.1,1340.0 L652.2,1342.5 L652.4,1345.1 L652.5,1347.7 L652.7,1350.2 L652.8,1352.8 L653.0,1355.4 L653.2,1357.9 L653.3,1360.5 L653.5,1363.1 L653.7,1365.6 L653.9,1368.2 L654.0,1370.8 L654.2,1373.3 L654.4,1375.9 L654.6,1378.4 L654.7,1381.0 L654.9,1383.6 L655.1,1386.1 L655.3,1388.7 L655.5,1391.3 L655.7,1393.8 L655.9,1396.4 L656.1,1399.0 L656.3,1401.5 L656.5,1404.1 L656.7,1406.6 L656.9,1409.2 L657.1,1411.8 L657.3,1414.3 L657.5,1416.9 L657.8,1419.5 L658.0,1422.0 L658.2,1424.6 L658.4,1427.1 L658.7,1429.7 L658.9,1432.3 L659.1,1434.8 L659.4,1437.4 L659.6,1439.9 L659.9,1442.5 L660.1,1445.1 L660.4,1447.6 L660.6,1450.2 L660.9,1452.7 L661.1,1455.3 L661.4,1457.9 L661.7,1460.4 L662.0,1463.0 L662.2,1465.5 L662.5,1468.1 L662.8,1470.7 L663.1,1473.2 L663.4,1475.8 L663.7,1478.3 L664.0,1480.9 L664.3,1483.4 L664.6,1486.0 L664.9,1488.5 L665.2,1491.1 L665.5,1493.7 L665.9,1496.2 L666.2,1498.8 L666.5,1501.3 L666.9,1503.9 L667.2,1506.4 L667.6,1509.0 L667.9,1511.5 L668.3,1514.1 L668.7,1516.6 L669.0,1519.2 L669.4,1521.7 L669.8,1524.3 L670.2,1526.8 L670.6,1529.4 L671.1,1531.9 L671.5,1534.4 L671.9,1537.0 L672.4,1539.5 L672.9,1542.0 L673.4,1544.5 L673.9,1547.0 L674.4,1549.5 L674.9,1552.0 L675.5,1554.5 L676.1,1557.0 L676.6,1559.5 L677.2,1562.0 L677.9,1564.5 L678.5,1566.9 L679.2,1569.4 L679.9,1571.9 L680.6,1574.3 L681.3,1576.8 L682.0,1579.2 L682.8,1581.6 L683.6,1584.0 L684.4,1586.4 L685.3,1588.8 L686.1,1591.2 L687.0,1593.6 L688.0,1596.0 L689.0,1598.4 L690.0,1600.7 L691.0,1603.0 L692.1,1605.4 L693.3,1607.7 L694.5,1610.0 L695.7,1612.2 L697.1,1614.5 L698.4,1616.7 L699.8,1619.0 L701.3,1621.2 L702.9,1623.4 L704.5,1625.5 L706.2,1627.6 L707.9,1629.5 L709.8,1631.4 L711.7,1633.0 L713.8,1634.5 L716.0,1635.8 L718.2,1636.9 L720.6,1637.7 L723.0,1638.2 L725.5,1638.5 L727.9,1638.4 L730.3,1638.1 L732.6,1637.5 L734.9,1636.5 L736.9,1635.2 L738.9,1633.7 L740.8,1631.9 L742.5,1629.9 L744.1,1627.7 L745.7,1625.4 L747.1,1623.1 L748.4,1620.6 L749.6,1618.2 L750.7,1615.7 L751.7,1613.3 L752.6,1610.9 L753.5,1608.5 L754.3,1606.1 L755.1,1603.7 L755.8,1601.3 L756.5,1598.9 L757.2,1596.5 L757.8,1594.1 L758.5,1591.7 L759.1,1589.4 L759.8,1587.0 L760.5,1584.6 L761.3,1582.2 L762.1,1579.8 L762.9,1577.4 L763.8,1574.9 L764.8,1572.4 L765.9,1569.9 L767.1,1567.4 L768.4,1564.9 L769.9,1562.4 L771.4,1560.1 L773.0,1557.9 L774.8,1555.9 L776.6,1554.2 L778.6,1552.9 L780.7,1551.9 L782.9,1551.4 L785.2,1551.3 L787.6,1551.7 L790.1,1552.4 L792.4,1553.4 L794.8,1554.7 L797.0,1556.2 L799.1,1557.9 L801.0,1559.7 L802.8,1561.6 L804.4,1563.6 L805.8,1565.7 L807.1,1567.8 L808.2,1570.1 L809.3,1572.4 L810.3,1574.7 L811.2,1577.1 L812.0,1579.6 L812.7,1582.1 L813.4,1584.6 L814.1,1587.1 L814.8,1589.6 L815.4,1592.2 L816.1,1594.7 L816.8,1597.3 L817.5,1599.8 L818.2,1602.3 L819.0,1604.7 L819.9,1607.2 L820.8,1609.6 L821.8,1611.9 L822.8,1614.3 L823.9,1616.6 L825.0,1618.9 L826.1,1621.2 L827.2,1623.5 L828.3,1625.8 L829.4,1628.1 L830.5,1630.4 L831.6,1632.7 L832.7,1635.0 L833.8,1637.3 L835.0,1639.6 L836.2,1641.9 L837.4,1644.1 L838.6,1646.4 L839.9,1648.6 L841.3,1650.9 L842.8,1653.1 L844.3,1655.2 L845.9,1657.3 L847.5,1659.4 L849.3,1661.3 L851.1,1663.2 L853.0,1664.9 L855.0,1666.6 L857.1,1668.0 L859.2,1669.4 L861.5,1670.6 L863.8,1671.7 L866.1,1672.7 L868.5,1673.6 L871.0,1674.4 L873.4,1675.2 L875.9,1676.0 L878.3,1676.7 L880.8,1677.4 L883.3,1678.0 L885.8,1678.7 L888.3,1679.3 L890.8,1679.9 L893.3,1680.4 L895.8,1681.0 L898.3,1681.5 L900.9,1681.9 L903.4,1682.4 L905.9,1682.8 L908.4,1683.3 L911.0,1683.7 L913.5,1684.0 L916.1,1684.4 L918.6,1684.7 L921.2,1685.1 L923.7,1685.4 L926.3,1685.7 L928.8,1686.0 L931.4,1686.2 L934.0,1686.5 L936.5,1686.7 L939.1,1686.9 L941.7,1687.2 L944.2,1687.4 L946.8,1687.6 L949.4,1687.8 L951.9,1688.0 L954.5,1688.1 L957.1,1688.3 L959.6,1688.5 L962.2,1688.6 L964.8,1688.8 L967.3,1688.9 L969.9,1689.1 L972.5,1689.2 L975.1,1689.3 L977.6,1689.5 L980.2,1689.6 L982.8,1689.7 L985.3,1689.8 L987.9,1689.9 L990.5,1690.0 L993.0,1690.1 L995.6,1690.2 L998.2,1690.3 L1000.7,1690.3 L1003.3,1690.4 L1005.9,1690.5 L1008.4,1690.6 L1011.0,1690.6 L1013.6,1690.7 L1016.2,1690.7 L1018.7,1690.8 L1021.3,1690.9 L1023.9,1690.9 L1026.4,1691.0 L1029.0,1691.0 L1031.6,1691.1 L1034.1,1691.1 L1036.7,1691.1 L1039.3,1691.2 L1041.9,1691.2 L1044.4,1691.3 L1047.0,1691.3 L1049.6,1691.3 L1052.1,1691.4 L1054.7,1691.4 L1057.3,1691.5 L1059.8,1691.5 L1062.4,1691.5 L1065.0,1691.6 L1067.6,1691.6 L1070.1,1691.6 L1072.7,1691.7 L1075.3,1691.7 L1077.8,1691.7 L1080.4,1691.8 L1083.0,1691.8 L1085.5,1691.8 L1088.1,1691.9 L1090.7,1691.9 L1093.3,1691.9 L1095.8,1692.0 L1098.4,1692.0 L1101.0,1692.0 L1103.5,1692.1 L1106.1,1692.1 L1108.7,1692.1 L1111.2,1692.2 L1113.8,1692.2 L1116.4,1692.2 L1119.0,1692.2 L1121.5,1692.3 L1124.1,1692.3 L1126.7,1692.3 L1129.2,1692.4 L1131.8,1692.4 L1134.4,1692.4 L1136.9,1692.4 L1139.5,1692.5 L1142.1,1692.5 L1144.7,1692.5 L1147.2,1692.6 L1149.8,1692.6 L1152.4,1692.6 L1154.9,1692.6 L1157.5,1692.7 L1160.1,1692.7 L1162.6,1692.7 L1165.2,1692.7 L1167.8,1692.8 L1170.4,1692.8 L1172.9,1692.8 L1175.5,1692.8 L1178.1,1692.8 L1180.6,1692.9 L1183.2,1692.9 L1185.8,1692.9 L1188.4,1692.9 L1190.9,1693.0 L1193.5,1693.0 L1196.1,1693.0 L1198.6,1693.0 L1201.2,1693.0 L1203.8,1693.1 L1206.3,1693.1 L1208.9,1693.1 L1211.5,1693.1 L1214.1,1693.1 L1216.6,1693.2 L1219.2,1693.2 L1221.8,1693.2 L1224.3,1693.2 L1226.9,1693.2 L1229.5,1693.2 L1232.0,1693.3 L1233.6,1693.3 M1246.0,1693.4 L1247.5,1693.4 L1250.0,1693.4 L1252.6,1693.4 L1255.2,1693.4 L1257.8,1693.4 L1260.3,1693.4 L1262.9,1693.5 L1265.5,1693.5 L1268.0,1693.5 L1270.6,1693.5 L1273.2,1693.5 L1275.7,1693.5 L1278.3,1693.5 L1280.9,1693.5 L1283.5,1693.6 L1286.0,1693.6 L1288.6,1693.6 L1291.2,1693.6 L1293.7,1693.6 L1296.3,1693.6 L1298.9,1693.6 L1301.5,1693.6 L1304.0,1693.7 L1306.6,1693.7 L1309.2,1693.7 L1311.7,1693.7 L1314.3,1693.7 L1316.9,1693.7 L1319.4,1693.7 L1322.0,1693.7 L1324.6,1693.7 L1327.2,1693.8 L1329.7,1693.8 L1332.3,1693.8 L1334.9,1693.8 L1337.4,1693.8 L1340.0,1693.8 L1342.6,1693.8 L1345.2,1693.8 L1347.7,1693.8 L1350.3,1693.8 L1352.9,1693.8 L1355.4,1693.9 L1358.0,1693.9 L1360.6,1693.9 L1363.1,1693.9 L1364.9,1693.9 M1376.0,1693.9 L1376.0,1693.9 L1378.6,1693.9 L1381.1,1693.9 L1383.7,1693.9 L1386.3,1693.9 L1388.9,1693.9 L1391.4,1694.0 L1394.0,1694.0 L1396.6,1694.0 L1399.1,1694.0 L1401.7,1694.0 L1404.3,1694.0 L1406.9,1694.0 L1409.4,1694.0 L1412.0,1694.0 L1414.6,1694.0 L1417.1,1694.0 L1419.7,1694.0 L1422.3,1694.0 L1424.8,1694.0 L1427.4,1694.0 L1430.0,1694.0 L1432.6,1694.0 L1435.1,1694.0 L1437.7,1694.0 L1440.3,1694.1 L1442.8,1694.1 L1445.4,1694.1 L1448.0,1694.1 L1450.6,1694.1 L1453.1,1694.1 L1455.7,1694.1 L1458.3,1694.1 L1460.8,1694.1 L1463.4,1694.1 L1466.0,1694.1 L1468.6,1694.1 L1471.1,1694.1 L1473.7,1694.1 L1476.3,1694.1 L1478.8,1694.1 L1481.4,1694.1 L1484.0,1694.1 L1486.5,1694.1 L1489.1,1694.1 L1491.7,1694.1 L1494.3,1694.1 L1496.8,1694.1 L1499.4,1694.1 L1502.0,1694.1 L1504.5,1694.1 L1507.1,1694.1 L1509.7,1694.1 L1512.3,1694.1 L1514.8,1694.1 L1517.4,1694.1 L1520.0,1694.2 L1522.5,1694.2 L1525.1,1694.2 L1527.7,1694.2 L1530.3,1694.2 L1532.8,1694.2 L1535.4,1694.2 L1538.0,1694.2 L1540.5,1694.2 L1543.1,1694.2 L1545.7,1694.2 L1548.2,1694.2 L1550.8,1694.2 L1553.4,1694.2 L1556.0,1694.2 L1558.5,1694.2 L1561.1,1694.2 L1563.7,1694.2 L1566.2,1694.2 L1568.8,1694.2 L1571.4,1694.2 L1574.0,1694.2 L1576.5,1694.2 L1579.1,1694.2 L1581.7,1694.2 L1584.2,1694.2 L1586.8,1694.2 L1589.4,1694.2 L1591.9,1694.2 L1594.5,1694.2 L1597.1,1694.2 L1599.7,1694.2 L1602.2,1694.2 L1604.8,1694.2 L1607.4,1694.2 L1609.9,1694.2 L1612.5,1694.2 L1615.1,1694.2 L1617.7,1694.2 L1620.2,1694.2 L1622.8,1694.2 L1625.4,1694.2 L1627.9,1694.2 L1630.5,1694.2 L1633.1,1694.2 L1635.7,1694.2 L1638.2,1694.3 L1640.8,1694.3 L1643.4,1694.3 L1645.9,1694.3 L1648.5,1694.3 L1651.1,1694.3 L1653.6,1694.3 L1656.2,1694.3 L1658.8,1694.3 L1661.4,1694.3 L1663.9,1694.3 L1666.5,1694.3 L1669.1,1694.3 L1671.6,1694.3 L1674.2,1694.3 L1676.8,1694.3 L1679.4,1694.3 L1681.9,1694.3 L1684.5,1694.3 L1687.1,1694.3 L1689.6,1694.3 L1692.2,1694.3 L1694.8,1694.3 L1697.3,1694.3 L1699.9,1694.3 L1702.5,1694.3 L1705.1,1694.3 L1707.6,1694.3 L1710.2,1694.4 L1712.8,1694.4 L1715.3,1694.4 L1717.9,1694.4 L1720.5,1694.4 L1723.1,1694.4 L1725.6,1694.4 L1728.2,1694.4 L1730.8,1694.4 L1733.3,1694.4 L1735.9,1694.4 L1738.5,1694.4 L1741.0,1694.4 L1743.6,1694.4 L1746.2,1694.4 L1748.8,1694.4 L1751.3,1694.4 L1753.9,1694.4 L1756.5,1694.5 L1759.0,1694.5 L1761.6,1694.5 L1764.2,1694.5 L1766.8,1694.5 L1769.3,1694.5 L1771.9,1694.5 L1774.5,1694.5 L1777.0,1694.5 L1779.6,1694.5 L1782.2,1694.5 L1784.7,1694.5 L1787.3,1694.5 L1789.9,1694.6 L1792.5,1694.6 L1795.0,1694.6 L1797.6,1694.6 L1800.2,1694.6 L1802.7,1694.6 L1805.3,1694.6 L1807.9,1694.6 L1810.4,1694.6 L1813.0,1694.6 L1815.6,1694.7 L1818.2,1694.7 L1820.7,1694.7 L1823.3,1694.7 L1825.9,1694.7 L1828.4,1694.7 L1831.0,1694.7 L1833.6,1694.7 L1836.2,1694.7 L1838.7,1694.8 L1841.3,1694.8 L1843.9,1694.8 L1846.4,1694.8 L1849.0,1694.8 L1851.6,1694.8 L1854.1,1694.8 L1856.7,1694.8 L1859.3,1694.9 L1861.9,1694.9 L1864.4,1694.9 L1867.0,1694.9" fill="none" stroke="#000" stroke-width="7.4" stroke-linejoin="round" stroke-linecap="round"/>
<path d="M236.5,2491.9 L236.9,2491.9 L237.3,2491.9 L237.7,2491.8 L238.1,2491.7 L238.5,2491.4 L238.9,2491.2 L239.4,2490.9 L239.8,2490.7 L240.2,2490.4 L240.6,2490.1 L241.0,2489.9 L241.4,2489.7 L241.8,2489.4 L242.2,2489.2 L242.6,2489.0 L243.0,2488.8 L243.4,2488.7 L243.8,2488.5 L244.2,2488.3 L244.7,2488.2 L245.1,2488.1 L245.5,2488.0 L245.9,2487.9 L246.3,2487.8 L246.7,2487.7 L247.1,2487.6 L247.5,2487.5 L247.9,2487.5 L248.3,2487.4 L248.7,2487.4 L249.1,2487.3 L249.5,2487.3 L250.0,2487.3 L250.4,2487.3 L250.8,2487.3 L251.2,2487.3 L251.6,2487.3 L252.0,2487.3 L252.4,2487.2 L252.8,2487.3 L253.2,2487.3 L253.6,2487.3 L254.0,2487.3 L254.4,2487.3 L254.8,2487.4 L255.3,2487.4 L255.7,2487.4 L256.1,2487.5 L256.5,2487.5 L256.9,2487.5 L257.3,2487.6 L257.7,2487.7 L258.1,2487.7 L258.5,2487.8 L258.9,2487.8 L259.3,2487.9 L259.7,2488.0 L260.1,2488.0 L260.6,2488.1 L261.0,2488.2 L261.4,2488.2 L261.8,2488.3 L262.2,2488.4 L262.6,2488.5 L263.0,2488.6 L263.4,2488.6 L263.8,2488.7 L264.2,2488.8 L264.6,2488.9 L265.0,2489.0 L265.4,2489.1 L265.9,2489.1 L266.3,2489.2 L266.7,2489.3 L267.1,2489.4 L267.5,2489.5 L267.9,2489.5 L268.3,2489.6 L268.7,2489.7 L269.1,2489.8 L269.5,2489.8 L269.9,2489.9 L270.3,2489.9 L270.7,2490.0 L271.2,2490.1 L271.6,2490.1 L272.0,2490.1 L272.4,2490.2 L272.8,2490.2 L273.2,2490.2 L273.6,2490.2 L274.0,2490.2 L274.4,2490.3 L274.8,2490.3 L275.2,2490.3 L275.6,2490.2 L276.0,2490.2 L276.5,2490.2 L276.9,2490.2 L277.3,2490.1 L277.7,2490.1 L278.1,2490.0 L278.5,2490.0 L278.9,2489.9 L279.3,2489.8 L279.7,2489.7 L280.1,2489.6 L280.5,2489.5 L280.9,2489.4 L281.3,2489.3 L281.8,2489.1 L282.2,2488.9 L282.6,2488.8 L283.0,2488.5 L283.4,2488.3 L283.8,2488.0 L284.2,2487.7 L284.6,2487.3 L285.0,2487.0 L285.4,2486.7 L285.8,2486.3 L286.2,2486.0 L286.6,2485.7 L287.1,2485.3 L287.5,2485.0 L287.9,2484.6 L288.3,2484.3 L288.7,2483.9 L289.1,2483.6 L289.5,2483.2 L289.9,2482.8 L290.3,2482.4 L290.7,2482.1 L291.1,2481.7 L291.5,2481.3 L291.9,2480.9 L292.4,2480.5 L292.8,2480.0 L293.2,2479.6 L293.6,2479.2 L294.0,2478.7 L294.4,2478.3 L294.8,2477.8 L295.2,2477.4 L295.6,2476.9 L296.0,2476.4 L296.4,2475.8 L296.8,2475.3 L297.2,2474.8 L297.7,2474.2 L298.1,2473.6 L298.5,2473.1 L298.9,2472.5 L299.3,2471.9 L299.7,2471.3 L300.1,2470.8 L300.5,2470.2 L300.9,2469.7 L301.3,2469.2 L301.7,2468.7 L302.1,2468.2 L302.5,2467.7 L303.0,2467.3 L303.4,2466.9 L303.8,2466.4 L304.2,2466.0 L304.6,2465.7 L305.0,2465.3 L305.4,2464.9 L305.8,2464.6 L306.2,2464.3 L306.6,2464.0 L307.0,2463.6 L307.4,2463.4 L307.8,2463.1 L308.3,2462.8 L308.7,2462.5 L309.1,2462.3 L309.5,2462.0 L309.9,2461.8 L310.3,2461.6 L310.7,2461.4 L311.1,2461.1 L311.5,2461.0 L311.9,2460.8 L312.3,2460.6 L312.7,2460.5 L313.1,2460.4 L313.6,2460.3 L314.0,2460.2 L314.4,2460.2 L314.8,2460.1 L315.2,2460.1 L315.6,2460.1 L316.0,2460.1 L316.4,2460.2 L316.8,2460.2 L317.2,2460.3 L317.6,2460.4 L318.0,2460.5 L318.4,2460.6 L318.9,2460.7 L319.3,2460.8 L319.7,2461.0 L320.1,2461.1 L320.5,2461.2 L320.9,2461.4 L321.3,2461.6 L321.7,2461.7 L322.1,2461.9 L322.5,2462.1 L322.9,2462.3 L323.3,2462.4 L323.7,2462.6 L324.2,2462.8 L324.6,2463.0 L325.0,2463.2 L325.4,2463.4 L325.8,2463.7 L326.2,2463.9 L326.6,2464.1 L327.0,2464.4 L327.4,2464.7 L327.8,2464.9 L328.2,2465.2 L328.6,2465.5 L329.0,2465.9 L329.5,2466.2 L329.9,2466.6 L330.3,2466.9 L330.7,2467.3 L331.1,2467.7 L331.5,2468.1 L331.9,2468.4 L332.3,2468.8 L332.7,2469.1 L333.1,2469.5 L333.5,2469.8 L333.9,2470.1 L334.3,2470.4 L334.8,2470.7 L335.2,2470.9 L335.6,2471.2 L336.0,2471.5 L336.4,2471.7 L336.8,2471.9 L337.2,2472.2 L337.6,2472.4 L338.0,2472.6 L338.4,2472.8 L338.8,2473.0 L339.2,2473.2 L339.6,2473.3 L340.1,2473.5 L340.5,2473.6 L340.9,2473.7 L341.3,2473.8 L341.7,2473.9 L342.1,2474.0 L342.5,2474.1 L342.9,2474.1 L343.3,2474.1 L343.7,2474.1 L344.1,2474.2 L344.5,2474.2 L344.9,2474.1 L345.4,2474.1 L345.8,2474.0 L346.2,2474.0 L346.6,2473.9 L347.0,2473.8 L347.4,2473.8 L347.8,2473.6 L348.2,2473.5 L348.6,2473.4 L349.0,2473.3 L349.4,2473.1 L349.8,2473.0 L350.2,2472.8 L350.7,2472.6 L351.1,2472.4 L351.5,2472.1 L351.9,2471.8 L352.3,2471.5 L352.7,2471.1 L353.1,2470.6 L353.5,2470.0 L353.9,2469.4 L354.3,2468.6 L354.7,2467.9 L355.1,2467.3 L355.5,2466.7 L356.0,2466.1 L356.4,2465.6 L356.8,2465.0 L357.2,2464.5 L357.6,2464.0 L358.0,2463.5 L358.4,2462.9 L358.8,2462.4 L359.2,2461.9 L359.6,2461.3 L360.0,2460.8 L360.4,2460.2 L360.8,2459.6 L361.3,2459.0 L361.7,2458.4 L362.1,2457.7 L362.5,2457.0 L362.9,2456.3 L363.3,2455.6 L363.7,2454.9 L364.1,2454.1 L364.5,2453.3 L364.9,2452.4 L365.3,2451.6 L365.7,2450.7 L366.1,2449.7 L366.6,2448.8 L367.0,2447.8 L367.4,2446.7 L367.8,2445.6 L368.2,2444.5 L368.6,2443.4 L369.0,2442.2 L369.4,2441.0 L369.8,2439.7 L370.2,2438.5 L370.6,2437.3 L371.0,2436.0 L371.4,2434.8 L371.9,2433.6 L372.3,2432.4 L372.7,2431.3 L373.1,2430.1 L373.5,2429.0 L373.9,2427.9 L374.3,2426.9 L374.7,2425.8 L375.1,2424.7 L375.5,2423.6 L375.9,2422.5 L376.3,2421.4 L376.7,2420.2 L377.2,2419.0 L377.6,2417.8 L378.0,2416.5 L378.4,2415.2 L378.8,2414.0 L379.2,2412.9 L379.6,2411.9 L380.0,2411.0 L380.4,2410.1 L380.8,2409.3 L381.2,2408.6 L381.6,2407.8 L382.0,2407.1 L382.5,2406.4 L382.9,2405.8 L383.3,2405.1 L383.7,2404.5 L384.1,2403.9 L384.5,2403.3 L384.9,2402.8 L385.3,2402.3 L385.7,2401.8 L386.1,2401.3 L386.5,2400.9 L386.9,2400.6 L387.3,2400.2 L387.8,2399.9 L388.2,2399.7 L388.6,2399.5 L389.0,2399.3 L389.4,2399.2 L389.8,2399.1 L390.2,2399.2 L390.6,2399.2 L391.0,2399.3 L391.4,2399.5 L391.8,2399.7 L392.2,2400.0 L392.6,2400.3 L393.1,2400.6 L393.5,2401.0 L393.9,2401.4 L394.3,2401.9 L394.7,2402.4 L395.1,2402.9 L395.5,2403.5 L395.9,2404.0 L396.3,2404.6 L396.7,2405.3 L397.1,2405.9 L397.5,2406.6 L397.9,2407.3 L398.3,2408.1 L398.8,2408.9 L399.2,2409.7 L399.6,2410.7 L400.0,2411.7 L400.4,2412.8 L400.8,2414.1 L401.2,2415.6 L401.6,2417.2 L402.0,2418.6 L402.4,2420.0 L402.8,2421.2 L403.2,2422.4 L403.6,2423.5 L404.1,2424.5 L404.5,2425.6 L404.9,2426.7 L405.3,2427.7 L405.7,2428.8 L406.1,2429.8 L406.5,2430.9 L406.9,2432.1 L407.3,2433.2 L407.7,2434.5 L408.1,2435.7 L408.5,2437.0 L408.9,2438.4 L409.4,2439.7 L409.8,2441.0 L410.2,2442.4 L410.6,2443.7 L411.0,2445.0 L411.4,2446.2 L411.8,2447.4 L412.2,2448.5 L412.6,2449.7 L413.0,2450.8 L413.4,2451.9 L413.8,2452.9 L414.2,2453.9 L414.7,2454.9 L415.1,2455.9 L415.5,2456.9 L415.9,2457.9 L416.3,2458.8 L416.7,2459.7 L417.1,2460.6 L417.5,2461.5 L417.9,2462.4 L418.3,2463.3 L418.7,2464.2 L419.1,2465.0 L419.5,2465.8 L420.0,2466.7 L420.4,2467.5 L420.8,2468.3 L421.2,2469.1 L421.6,2469.9 L422.0,2470.7 L422.4,2471.4 L422.8,2472.2 L423.2,2472.9 L423.6,2473.7 L424.0,2474.4 L424.4,2475.1 L424.8,2475.7 L425.3,2476.3 L425.7,2476.9 L426.1,2477.5 L426.5,2478.1 L426.9,2478.6 L427.3,2479.0 L427.7,2479.5 L428.1,2479.9 L428.5,2480.3 L428.9,2480.7 L429.3,2481.0 L429.7,2481.3 L430.1,2481.6 L430.6,2481.8 L431.0,2482.0 L431.4,2482.2 L431.8,2482.4 L432.2,2482.5 L432.6,2482.7 L433.0,2482.8 L433.4,2482.8 L433.8,2482.9 L434.2,2482.9 L434.6,2482.9 L435.0,2482.9 L435.4,2482.8 L435.9,2482.8 L436.3,2482.7 L436.7,2482.6 L437.1,2482.5 L437.5,2482.4 L437.9,2482.3 L438.3,2482.2 L438.7,2482.1 L439.1,2482.0 L439.5,2481.9 L439.9,2481.7 L440.3,2481.6 L440.7,2481.5 L441.2,2481.5 L441.6,2481.4 L442.0,2481.3 L442.4,2481.3 L442.8,2481.3 L443.2,2481.3 L443.6,2481.4 L444.0,2481.4 L444.4,2481.5 L444.8,2481.6 L445.2,2481.8 L445.6,2481.9 L446.0,2482.1 L446.5,2482.4 L446.9,2482.6 L447.3,2482.9 L447.7,2483.2 L448.1,2483.6 L448.5,2483.9 L448.9,2484.3 L449.3,2484.7 L449.7,2485.2 L450.1,2485.6 L450.5,2486.1 L450.9,2486.5 L451.3,2487.0 L451.8,2487.5 L452.2,2488.0 L452.6,2488.5 L453.0,2489.0 L453.4,2489.5 L453.8,2490.0 L454.2,2490.5 L454.6,2490.9 L455.0,2491.4 L455.4,2491.9 L455.8,2492.3 L456.2,2492.8 L456.6,2493.2 L457.1,2493.6 L457.5,2494.0 L457.9,2494.4 L458.3,2494.8 L458.7,2495.1 L459.1,2495.5 L459.5,2495.8 L459.9,2496.1 L460.3,2496.4 L460.7,2496.7 L461.1,2496.9 L461.5,2497.2 L461.9,2497.4 L462.4,2497.6 L462.8,2497.8 L463.2,2498.0 L463.6,2498.2 L464.0,2498.3 L464.4,2498.5 L464.8,2498.6 L465.2,2498.7 L465.6,2498.9 L466.0,2499.0 L466.4,2499.1 L466.8,2499.2 L467.2,2499.3 L467.7,2499.4 L468.1,2499.5 L468.5,2499.6 L468.9,2499.6 L469.3,2499.7 L469.7,2499.8 L470.1,2499.8 L470.5,2499.9 L470.9,2500.0 L471.3,2500.0 L471.7,2500.1 L472.1,2500.1 L472.5,2500.2 L473.0,2500.2 L473.4,2500.3 L473.8,2500.3 L474.2,2500.4 L474.6,2500.4 L475.0,2500.5 L475.4,2500.5 L475.8,2500.5 L476.2,2500.6 L476.6,2500.6 L477.0,2500.7 L477.4,2500.7 L477.8,2500.7 L478.3,2500.8 L478.7,2500.8 L479.1,2500.8 L479.5,2500.9 L479.9,2500.9 L480.3,2500.9 L480.7,2501.0 L481.1,2501.0 L481.5,2501.0 L481.9,2501.1 L482.3,2501.1 L482.7,2501.1 L483.1,2501.1 L483.6,2501.2 L484.0,2501.2 L484.4,2501.2 L484.8,2501.2 L485.2,2501.3 L485.6,2501.3 L486.0,2501.3 L486.4,2501.3 L486.8,2501.3 L487.2,2501.4 L487.6,2501.4 L488.0,2501.4 L488.4,2501.4 L488.9,2501.4 L489.3,2501.4 L489.7,2501.5 L490.1,2501.5 L490.5,2501.5 L490.9,2501.5 L491.3,2501.5 L491.7,2501.5 L492.1,2501.5 L492.5,2501.5 L492.9,2501.6 L493.3,2501.6 L493.7,2501.6 L494.2,2501.6 L494.6,2501.6 L495.0,2501.6 L495.4,2501.6 L495.8,2501.6 L496.2,2501.6 L496.6,2501.6 L497.0,2501.6 L497.4,2501.6 L497.8,2501.6 L498.2,2501.6 L498.6,2501.6 L499.0,2501.6 L499.5,2501.6 L499.9,2501.6 L500.3,2501.6 L500.7,2501.6 L501.1,2501.6 L501.5,2501.6 L501.9,2501.6 L502.3,2501.5 L502.7,2501.5 L503.1,2501.5 L503.5,2501.5 L503.9,2501.5 L504.3,2501.5 L504.8,2501.5 L505.2,2501.5 L505.6,2501.4 L506.0,2501.4 L506.4,2501.4 L506.8,2501.4 L507.2,2501.3 L507.6,2501.3 L508.0,2501.3 L508.4,2501.3 L508.8,2501.2 L509.2,2501.2 L509.6,2501.2 L510.1,2501.1 L510.5,2501.1 L510.9,2501.1 L511.3,2501.0 L511.7,2501.0 L512.1,2500.9 L512.5,2500.8 L512.9,2500.8 L513.3,2500.7 L513.7,2500.7 L514.1,2500.6 L514.5,2500.5 L514.9,2500.4 L515.4,2500.3 L515.8,2500.2 L516.2,2500.1 L516.6,2500.0 L517.0,2499.9 L517.4,2499.8 L517.8,2499.6 L518.2,2499.5 L518.6,2499.3 L519.0,2499.2 L519.4,2499.0 L519.8,2498.8 L520.2,2498.6 L520.7,2498.4 L521.1,2498.2 L521.5,2498.0 L521.9,2497.8 L522.3,2497.6 L522.7,2497.4 L523.1,2497.1 L523.5,2496.9 L523.9,2496.6 L524.3,2496.4 L524.7,2496.1 L525.1,2495.9 L525.5,2495.6 L526.0,2495.4 L526.4,2495.1 L526.8,2494.9 L527.2,2494.6 L527.6,2494.4 L528.0,2494.1 L528.4,2493.9 L528.8,2493.7 L529.2,2493.5 L529.6,2493.3 L530.0,2493.1 L530.4,2492.9 L530.8,2492.7 L531.3,2492.6 L531.7,2492.4 L532.1,2492.3 L532.5,2492.2 L532.9,2492.1 L533.3,2492.0 L533.7,2491.9 L534.1,2491.9 L534.5,2491.8 L534.9,2491.8 L535.3,2491.8 L535.7,2491.8 L536.1,2491.7 L536.6,2491.7 L537.0,2491.7 L537.4,2491.7 L537.8,2491.7 L538.2,2491.7 L538.6,2491.7 L539.0,2491.6 L539.4,2491.6 L539.8,2491.5 L540.2,2491.4 L540.6,2491.3 L541.0,2491.2 L541.4,2491.1 L541.9,2490.9 L542.3,2490.8 L542.7,2490.7 L543.1,2490.6 L543.5,2490.5 L543.9,2490.4 L544.3,2490.3 L544.7,2490.2 L545.1,2490.1 L545.5,2490.0 L545.9,2489.9 L546.3,2489.8 L546.7,2489.7 L547.2,2489.6 L547.6,2489.5 L548.0,2489.4 L548.4,2489.2 L548.8,2489.1 L549.2,2489.0 L549.6,2488.9 L550.0,2488.7 L550.4,2488.6 L550.8,2488.5 L551.2,2488.3 L551.6,2488.2 L552.0,2488.0 L552.5,2487.9 L552.9,2487.7 L553.3,2487.6 L553.7,2487.4 L554.1,2487.3 L554.5,2487.1 L554.9,2486.9 L555.3,2486.8 L555.7,2486.6 L556.1,2486.5 L556.5,2486.3 L556.9,2486.1 L557.3,2486.0 L557.8,2485.8 L558.2,2485.6 L558.6,2485.5 L559.0,2485.3 L559.4,2485.2 L559.8,2485.0 L560.2,2484.9 L560.6,2484.8 L561.0,2484.6 L561.4,2484.5 L561.8,2484.4 L562.2,2484.3 L562.6,2484.2 L563.1,2484.1 L563.5,2484.0 L563.9,2483.9 L564.3,2483.8 L564.7,2483.8 L565.1,2483.7 L565.5,2483.6 L565.9,2483.5 L566.3,2483.5 L566.7,2483.4 L567.1,2483.3 L567.5,2483.3 L567.9,2483.2 L568.4,2483.1 L568.8,2483.1 L569.2,2483.0 L569.6,2482.9 L570.0,2482.8 L570.4,2482.8 L570.8,2482.7 L571.2,2482.6 L571.6,2482.6 L572.0,2482.5 L572.4,2482.4 L572.8,2482.3 L573.2,2482.2 L573.7,2482.2 L574.1,2482.1 L574.5,2482.0 L574.9,2481.9 L575.3,2481.8 L575.7,2481.7 L576.1,2481.6 L576.5,2481.5 L576.9,2481.4 L577.3,2481.3 L577.7,2481.2 L578.1,2481.1 L578.5,2481.0 L579.0,2480.8 L579.4,2480.7 L579.8,2480.6 L580.2,2480.5 L580.6,2480.3 L581.0,2480.2 L581.4,2480.0 L581.8,2479.9 L582.2,2479.7 L582.6,2479.5 L583.0,2479.3 L583.4,2479.1 L583.8,2478.9 L584.3,2478.7 L584.7,2478.4 L585.1,2478.2 L585.5,2477.9 L585.9,2477.6 L586.3,2477.2 L586.7,2476.8 L587.1,2476.3 L587.5,2475.8 L587.9,2475.2 L588.3,2474.6 L588.7,2473.9 L589.1,2473.3 L589.6,2472.6 L590.0,2472.0 L590.4,2471.3 L590.8,2470.7 L591.2,2470.1 L591.6,2469.4 L592.0,2468.8 L592.4,2468.2 L592.8,2467.5 L593.2,2466.9 L593.6,2466.2 L594.0,2465.6 L594.4,2464.9 L594.9,2464.2 L595.3,2463.5 L595.7,2462.8 L596.1,2462.0 L596.5,2461.3 L596.9,2460.5 L597.3,2459.7 L597.7,2458.8 L598.1,2458.0 L598.5,2457.1 L598.9,2456.2 L599.3,2455.3 L599.7,2454.4 L600.2,2453.4 L600.6,2452.4 L601.0,2451.4 L601.4,2450.4 L601.8,2449.4 L602.2,2448.3 L602.6,2447.2 L603.0,2446.1 L603.4,2445.0 L603.8,2443.9 L604.2,2442.7 L604.6,2441.5 L605.0,2440.3 L605.5,2439.1 L605.9,2437.8 L606.3,2436.5 L606.7,2435.2 L607.1,2433.9 L607.5,2432.6 L607.9,2431.2 L608.3,2429.8 L608.7,2428.4 L609.1,2426.9 L609.5,2425.5 L609.9,2424.0 L610.3,2422.5 L610.8,2421.0 L611.2,2419.4 L611.6,2417.9 L612.0,2416.3 L612.4,2414.7 L612.8,2413.2 L613.2,2411.6 L613.6,2410.0 L614.0,2408.4 L614.4,2406.8 L614.8,2405.2 L615.2,2403.6 L615.6,2402.0 L616.1,2400.4 L616.5,2398.8 L616.9,2397.3 L617.3,2395.7 L617.7,2394.2 L618.1,2392.6 L618.5,2391.1 L618.9,2389.6 L619.3,2388.0 L619.7,2386.5 L620.1,2384.9 L620.5,2383.3 L620.9,2381.6 L621.4,2380.1 L621.8,2378.7 L622.2,2377.3 L622.6,2376.0 L623.0,2374.7 L623.4,2373.5 L623.8,2372.2 L624.2,2370.9 L624.6,2369.7 L625.0,2368.4 L625.4,2367.2 L625.8,2366.0 L626.2,2364.7 L626.7,2363.5 L627.1,2362.4 L627.5,2361.2 L627.9,2360.0 L628.3,2358.8 L628.7,2357.6 L629.1,2356.4 L629.5,2355.2 L629.9,2354.0 L630.3,2352.8 L630.7,2351.5 L631.1,2350.3 L631.5,2349.0 L632.0,2347.8 L632.4,2346.5 L632.8,2345.3 L633.2,2344.1 L633.6,2342.9 L634.0,2341.8 L634.4,2340.7 L634.8,2339.6 L635.2,2338.7 L635.6,2337.9 L636.0,2337.3 L636.4,2337.1 L636.8,2339.6 L637.3,2342.2 L637.7,2343.0 L638.1,2343.7 L638.5,2344.4 L638.9,2345.1 L639.3,2345.9 L639.7,2346.8 L640.1,2347.8 L640.5,2348.9 L640.9,2350.1 L641.3,2351.5 L641.7,2353.0 L642.1,2354.7 L642.6,2356.5 L643.0,2358.5 L643.4,2360.6 L643.8,2362.8 L644.2,2365.2 L644.6,2367.8 L645.0,2370.4 L645.4,2373.2 L645.8,2376.1 L646.2,2379.1 L646.6,2382.1 L647.0,2385.2 L647.4,2388.3 L647.9,2391.5 L648.3,2394.7 L648.7,2397.9 L649.1,2401.0 L649.5,2404.2 L649.9,2407.3 L650.3,2410.3 L650.7,2413.3 L651.1,2416.2 L651.5,2419.1 L651.9,2421.8 L652.3,2424.5 L652.7,2427.1 L653.2,2429.6 L653.6,2432.0 L654.0,2434.3 L654.4,2436.5 L654.8,2438.6 L655.2,2440.7 L655.6,2442.6 L656.0,2444.4 L656.4,2446.2 L656.8,2447.9 L657.2,2449.5 L657.6,2451.0 L658.0,2452.5 L658.5,2453.9 L658.9,2455.2 L659.3,2456.4 L659.7,2457.6 L660.1,2458.8 L660.5,2459.9 L660.9,2460.9 L661.3,2461.9 L661.7,2462.9 L662.1,2463.8 L662.5,2464.7 L662.9,2465.5 L663.3,2466.3 L663.8,2467.1 L664.2,2467.8 L664.6,2468.6 L665.0,2469.3 L665.4,2469.9 L665.8,2470.6 L666.2,2471.2 L666.6,2471.8 L667.0,2472.3 L667.4,2472.9 L667.8,2473.4 L668.2,2473.8 L668.6,2474.3 L669.1,2474.7 L669.5,2475.1 L669.9,2475.4 L670.3,2475.7 L670.7,2475.9 L671.1,2476.1 L671.5,2476.3 L671.9,2476.4 L672.3,2476.5 L672.7,2476.5 L673.1,2476.4 L673.5,2476.3 L673.9,2476.1 L674.4,2475.9 L674.8,2475.6 L675.2,2475.2 L675.6,2474.8 L676.0,2474.2 L676.4,2473.7 L676.8,2473.0 L677.2,2472.2 L677.6,2471.4 L678.0,2470.5 L678.4,2469.5 L678.8,2468.5 L679.2,2467.4 L679.7,2466.2 L680.1,2464.9 L680.5,2463.6 L680.9,2462.2 L681.3,2460.8 L681.7,2459.3 L682.1,2457.8 L682.5,2456.3 L682.9,2454.7 L683.3,2453.2 L683.7,2451.6 L684.1,2450.0 L684.5,2448.5 L685.0,2447.0 L685.4,2445.5 L685.8,2444.1 L686.2,2442.8 L686.6,2441.5 L687.0,2440.3 L687.4,2439.2 L687.8,2438.3 L688.2,2437.4 L688.6,2436.7 L689.0,2436.1 L689.4,2435.6 L689.8,2435.3 L690.3,2435.1 L690.7,2435.1 L691.1,2435.2 L691.5,2435.5 L691.9,2436.0 L692.3,2436.6 L692.7,2437.3 L693.1,2438.2 L693.5,2439.2 L693.9,2440.4 L694.3,2441.7 L694.7,2443.0 L695.1,2444.5 L695.6,2446.1 L696.0,2447.8 L696.4,2449.5 L696.8,2451.3 L697.2,2453.2 L697.6,2455.1 L698.0,2457.0 L698.4,2458.9 L698.8,2460.9 L699.2,2462.8 L699.6,2464.7 L700.0,2466.6 L700.4,2468.5 L700.9,2470.4 L701.3,2472.1 L701.7,2473.9 L702.1,2475.6 L702.5,2477.2 L702.9,2478.7 L703.3,2480.2 L703.7,2481.7 L704.1,2483.0 L704.5,2484.3 L704.9,2485.5 L705.3,2486.6 L705.7,2487.7 L706.2,2488.7 L706.6,2489.6 L707.0,2490.5 L707.4,2491.3 L707.8,2492.0 L708.2,2492.7 L708.6,2493.3 L709.0,2493.9 L709.4,2494.4 L709.8,2494.9 L710.2,2495.3 L710.6,2495.7 L711.0,2496.1 L711.5,2496.4 L711.9,2496.7 L712.3,2497.0 L712.7,2497.2 L713.1,2497.4 L713.5,2497.6 L713.9,2497.8 L714.3,2497.9 L714.7,2498.1 L715.1,2498.2 L715.5,2498.3 L715.9,2498.4 L716.3,2498.5 L716.8,2498.6 L717.2,2498.7 L717.6,2498.8 L718.0,2498.8 L718.4,2498.9 L718.8,2498.9 L719.2,2499.0 L719.6,2499.0 L720.0,2499.0 L720.4,2499.1 L720.8,2499.1 L721.2,2499.1 L721.6,2499.2 L722.0,2499.2 L722.5,2499.2 L722.9,2499.2 L723.3,2499.2 L723.7,2499.2 L724.1,2499.3 L724.5,2499.3 L724.9,2499.3 L725.3,2499.3 L725.7,2499.3 L726.1,2499.3 L726.5,2499.3 L726.9,2499.3 L727.3,2499.3 L727.8,2499.3 L728.2,2499.3 L728.6,2499.3 L729.0,2499.3 L729.4,2499.2 L729.8,2499.2 L730.2,2499.2 L730.6,2499.2 L731.0,2499.2 L731.4,2499.2 L731.8,2499.1 L732.2,2499.1 L732.6,2499.1 L733.1,2499.1 L733.5,2499.0 L733.9,2499.0 L734.3,2499.0 L734.7,2498.9 L735.1,2498.9 L735.5,2498.8 L735.9,2498.8 L736.3,2498.7 L736.7,2498.7 L737.1,2498.6 L737.5,2498.6 L737.9,2498.5 L738.4,2498.4 L738.8,2498.4 L739.2,2498.3 L739.6,2498.2 L740.0,2498.1 L740.4,2498.1 L740.8,2498.0 L741.2,2497.9 L741.6,2497.8 L742.0,2497.7 L742.4,2497.6 L742.8,2497.5 L743.2,2497.4 L743.7,2497.3 L744.1,2497.2 L744.5,2497.1 L744.9,2497.0 L745.3,2496.8 L745.7,2496.7 L746.1,2496.6 L746.5,2496.4 L746.9,2496.3 L747.3,2496.2 L747.7,2496.0 L748.1,2495.9 L748.5,2495.7 L749.0,2495.5 L749.4,2495.4 L749.8,2495.2 L750.2,2495.0 L750.6,2494.9 L751.0,2494.7 L751.4,2494.5 L751.8,2494.3 L752.2,2494.1 L752.6,2493.9 L753.0,2493.6 L753.4,2493.4 L753.8,2493.2 L754.3,2492.9 L754.7,2492.7 L755.1,2492.4 L755.5,2492.2 L755.9,2491.9 L756.3,2491.6 L756.7,2491.3 L757.1,2491.1 L757.5,2490.8 L757.9,2490.5 L758.3,2490.2 L758.7,2489.9 L759.1,2489.6 L759.6,2489.3 L760.0,2489.0 L760.4,2488.8 L760.8,2488.5 L761.2,2488.3 L761.6,2488.0 L762.0,2487.8 L762.4,2487.5 L762.8,2487.3 L763.2,2487.1 L763.6,2486.9 L764.0,2486.7 L764.4,2486.5 L764.9,2486.3 L765.3,2486.1 L765.7,2485.9 L766.1,2485.7 L766.5,2485.6 L766.9,2485.4 L767.3,2485.2 L767.7,2485.1 L768.1,2484.9 L768.5,2484.8 L768.9,2484.6 L769.3,2484.5 L769.7,2484.4 L770.2,2484.2 L770.6,2484.1 L771.0,2484.0 L771.4,2483.9 L771.8,2483.8 L772.2,2483.6 L772.6,2483.5 L773.0,2483.4 L773.4,2483.3 L773.8,2483.2 L774.2,2483.2 L774.6,2483.1 L775.0,2483.0 L775.5,2482.9 L775.9,2482.8 L776.3,2482.8 L776.7,2482.7 L777.1,2482.6 L777.5,2482.6 L777.9,2482.5 L778.3,2482.5 L778.7,2482.4 L779.1,2482.4 L779.5,2482.4 L779.9,2482.3 L780.3,2482.3 L780.8,2482.2 L781.2,2482.2 L781.6,2482.2 L782.0,2482.2 L782.4,2482.2 L782.8,2482.1 L783.2,2482.1 L783.6,2482.1 L784.0,2482.1 L784.4,2482.1 L784.8,2482.1 L785.2,2482.1 L785.6,2482.1 L786.1,2482.2 L786.5,2482.2 L786.9,2482.2 L787.3,2482.2 L787.7,2482.2 L788.1,2482.2 L788.5,2482.3 L788.9,2482.3 L789.3,2482.3 L789.7,2482.3 L790.1,2482.3 L790.5,2482.4 L790.9,2482.4 L791.4,2482.5 L791.8,2482.5 L792.2,2482.5 L792.6,2482.6 L793.0,2482.6 L793.4,2482.6 L793.8,2482.7 L794.2,2482.7 L794.6,2482.8 L795.0,2482.8 L795.4,2482.9 L795.8,2482.9 L796.2,2483.0 L796.7,2483.1 L797.1,2483.1 L797.5,2483.2 L797.9,2483.2 L798.3,2483.3 L798.7,2483.4 L799.1,2483.4 L799.5,2483.5 L799.9,2483.6 L800.3,2483.7 L800.7,2483.7 L801.1,2483.8 L801.5,2483.9 L802.0,2484.0 L802.4,2484.1 L802.8,2484.2 L803.2,2484.3 L803.6,2484.4 L804.0,2484.5 L804.4,2484.6 L804.8,2484.7 L805.2,2484.8 L805.6,2484.9 L806.0,2485.0 L806.4,2485.2 L806.8,2485.3 L807.3,2485.5 L807.7,2485.6 L808.1,2485.8 L808.5,2485.9 L808.9,2486.1 L809.3,2486.3 L809.7,2486.5 L810.1,2486.7 L810.5,2486.9 L810.9,2487.1 L811.3,2487.3 L811.7,2487.6 L812.1,2487.8 L812.6,2488.1 L813.0,2488.4 L813.4,2488.6 L813.8,2488.9 L814.2,2489.2 L814.6,2489.5 L815.0,2489.9 L815.4,2490.2 L815.8,2490.5 L816.2,2490.8 L816.6,2491.1 L817.0,2491.4 L817.4,2491.7 L817.9,2491.9 L818.3,2492.2 L818.7,2492.4 L819.1,2492.7 L819.5,2492.9 L819.9,2493.1 L820.3,2493.3 L820.7,2493.5 L821.1,2493.7 L821.5,2493.9 L821.9,2494.1 L822.3,2494.3 L822.7,2494.5 L823.2,2494.7 L823.6,2494.8 L824.0,2495.0 L824.4,2495.2 L824.8,2495.4 L825.2,2495.5 L825.6,2495.7 L826.0,2495.9 L826.4,2496.0 L826.8,2496.2 L827.2,2496.4 L827.6,2496.5 L828.0,2496.7 L828.5,2496.9 L828.9,2497.0 L829.3,2497.2 L829.7,2497.4 L830.1,2497.5 L830.5,2497.7 L830.9,2497.9 L831.3,2498.0 L831.7,2498.2 L832.1,2498.4 L832.5,2498.5 L832.9,2498.7 L833.3,2498.9 L833.8,2499.0 L834.2,2499.2 L834.6,2499.3 L835.0,2499.5 L835.4,2499.7 L835.8,2499.8 L836.2,2500.0 L836.6,2500.1 L837.0,2500.3 L837.4,2500.4 L837.8,2500.6 L838.2,2500.7 L838.6,2500.9 L839.1,2501.0 L839.5,2501.1 L839.9,2501.3 L840.3,2501.4 L840.7,2501.5 L841.1,2501.7 L841.5,2501.8 L841.9,2501.9 L842.3,2502.0 L842.7,2502.2 L843.1,2502.3 L843.5,2502.4 L843.9,2502.5 L844.4,2502.6 L844.8,2502.7 L845.2,2502.8 L845.6,2502.9 L846.0,2503.0 L846.4,2503.1 L846.8,2503.2 L847.2,2503.3 L847.6,2503.4 L848.0,2503.5 L848.4,2503.6 L848.8,2503.7 L849.2,2503.8 L849.7,2503.9 L850.1,2504.0 L850.5,2504.0 L850.9,2504.1 L851.3,2504.2 L851.7,2504.3 L852.1,2504.3 L852.5,2504.4 L852.9,2504.5 L853.3,2504.6 L853.7,2504.6 L854.1,2504.7 L854.5,2504.8 L855.0,2504.8 L855.4,2504.9 L855.8,2504.9 L856.2,2505.0 L856.6,2505.0 L857.0,2505.1 L857.4,2505.2 L857.8,2505.2 L858.2,2505.3 L858.6,2505.3 L859.0,2505.4 L859.4,2505.4 L859.8,2505.4 L860.3,2505.5 L860.7,2505.5 L861.1,2505.6 L861.5,2505.6 L861.9,2505.7 L862.3,2505.7 L862.7,2505.7 L863.1,2505.8 L863.5,2505.8 L863.9,2505.8 L864.3,2505.9 L864.7,2505.9 L865.1,2505.9 L865.6,2506.0 L866.0,2506.0 L866.4,2506.0 L866.8,2506.1 L867.2,2506.1 L867.6,2506.1 L868.0,2506.2 L868.4,2506.2 L868.8,2506.2 L869.2,2506.3 L869.6,2506.3 L870.0,2506.3 L870.4,2506.3 L870.9,2506.4 L871.3,2506.4 L871.7,2506.4 L872.1,2506.4 L872.5,2506.5 L872.9,2506.5 L873.3,2506.5 L873.7,2506.5 L874.1,2506.6 L874.5,2506.6 L874.9,2506.6 L875.3,2506.6 L875.7,2506.7 L876.2,2506.7 L876.6,2506.7 L877.0,2506.7 L877.4,2506.8 L877.8,2506.8 L878.2,2506.8 L878.6,2506.8 L879.0,2506.9 L879.4,2506.9 L879.8,2506.9 L880.2,2506.9 L880.6,2506.9 L881.0,2507.0 L881.5,2507.0 L881.9,2507.0 L882.3,2507.0 L882.7,2507.0 L883.1,2507.1 L883.5,2507.1 L883.9,2507.1 L884.3,2507.1 L884.7,2507.2 L885.1,2507.2 L885.5,2507.2 L885.9,2507.2 L886.3,2507.2 L886.8,2507.3 L887.2,2507.3 L887.6,2507.3 L888.0,2507.3 L888.4,2507.3 L888.8,2507.4 L889.2,2507.4 L889.6,2507.4 L890.0,2507.4 L890.4,2507.4 L890.8,2507.4 L891.2,2507.5 L891.6,2507.5 L892.1,2507.5 L892.5,2507.5 L892.9,2507.5 L893.3,2507.6 L893.7,2507.6 L894.1,2507.6 L894.5,2507.6 L894.9,2507.6 L895.3,2507.6 L895.7,2507.7 L896.1,2507.7 L896.5,2507.7 L896.9,2507.7 L897.4,2507.7 L897.8,2507.7 L898.2,2507.7 L898.6,2507.8 L899.0,2507.8 L899.4,2507.8 L899.8,2507.8 L900.2,2507.8 L900.6,2507.8 L901.0,2507.9 L901.4,2507.9 L901.8,2507.9 L902.2,2507.9 L902.7,2507.9 L903.1,2507.9 L903.5,2507.9 L903.9,2508.0 L904.3,2508.0 L904.7,2508.0 L905.1,2508.0 L905.5,2508.0 L905.9,2508.0 L906.3,2508.0 L906.7,2508.1 L907.1,2508.1 L907.5,2508.1 L908.0,2508.1 L908.4,2508.1 L908.8,2508.1 L909.2,2508.1 L909.6,2508.1 L910.0,2508.2 L910.4,2508.2 L910.8,2508.2 L911.2,2508.2 L911.6,2508.2 L912.0,2508.2 L912.4,2508.2 L912.8,2508.2 L913.3,2508.3 L913.7,2508.3 L914.1,2508.3 L914.5,2508.3 L914.9,2508.3 L915.3,2508.3 L915.7,2508.3 L916.1,2508.3 L916.5,2508.3 L916.9,2508.4 L917.3,2508.4 L917.7,2508.4 L918.1,2508.4 L918.6,2508.4 L919.0,2508.4 L919.4,2508.4 L919.8,2508.4 L920.2,2508.4 L920.6,2508.5 L921.0,2508.5 L921.4,2508.5 L921.8,2508.5 L922.2,2508.5 L922.6,2508.5 L923.0,2508.5 L923.4,2508.5 L923.9,2508.5 L924.3,2508.5 L924.7,2508.5 L925.1,2508.6 L925.5,2508.6 L925.9,2508.6 L926.3,2508.6 L926.7,2508.6 L927.1,2508.6 L927.5,2508.6 L927.9,2508.6 L928.3,2508.6 L928.7,2508.6 L929.2,2508.6 L929.6,2508.7 L930.0,2508.7 L930.4,2508.7 L930.8,2508.7 L931.2,2508.7 L931.6,2508.7 L932.0,2508.7 L932.4,2508.7 L932.8,2508.7 L933.2,2508.7 L933.6,2508.7 L934.0,2508.7 L934.5,2508.8 L934.9,2508.8 L935.3,2508.8 L935.7,2508.8 L936.1,2508.8 L936.5,2508.8 L936.9,2508.8 L937.3,2508.8 L937.7,2508.8 L938.1,2508.8 L938.5,2508.8 L938.9,2508.8 L939.3,2508.8 L939.8,2508.8 L940.2,2508.9 L940.6,2508.9 L941.0,2508.9 L941.4,2508.9 L941.8,2508.9 L942.2,2508.9 L942.6,2508.9 L943.0,2508.9 L943.4,2508.9 L943.8,2508.9 L944.2,2508.9 L944.6,2508.9 L945.1,2508.9 L945.5,2508.9 L945.9,2508.9 L946.3,2508.9 L946.7,2508.9 L947.1,2508.9 L947.5,2509.0 L947.9,2509.0 L948.3,2509.0 L948.7,2509.0 L949.1,2509.0 L949.5,2509.0 L949.9,2508.9 L950.4,2508.9 L950.8,2508.9 L951.2,2508.9 L951.6,2508.9 L952.0,2508.9 L952.4,2508.9 L952.8,2508.8 L953.2,2508.8 L953.6,2508.8 L954.0,2508.7 L954.4,2508.7 L954.8,2508.6 L955.2,2508.5 L955.7,2508.4 L956.1,2508.3 L956.5,2508.2 L956.9,2508.1 L957.3,2507.9 L957.7,2507.8 L958.1,2507.6 L958.5,2507.4 L958.9,2507.1 L959.3,2506.9 L959.7,2506.6 L960.1,2506.2 L960.5,2505.9 L961.0,2505.5 L961.4,2505.0 L961.8,2504.6 L962.2,2504.1 L962.6,2503.5 L963.0,2502.9 L963.4,2502.2 L963.8,2501.5 L964.2,2500.7 L964.6,2499.9 L965.0,2499.1 L965.4,2498.2 L965.8,2497.2 L966.3,2496.2 L966.7,2495.1 L967.1,2494.0 L967.5,2492.9 L967.9,2491.7 L968.3,2490.5 L968.7,2489.3 L969.1,2488.0 L969.5,2486.7 L969.9,2485.4 L970.3,2484.1 L970.7,2482.8 L971.1,2481.5 L971.6,2480.2 L972.0,2479.0 L972.4,2477.8 L972.8,2476.6 L973.2,2475.4 L973.6,2474.4 L974.0,2473.4 L974.4,2472.4 L974.8,2471.5 L975.2,2470.8 L975.6,2470.1 L976.0,2469.5 L976.4,2469.0 L976.9,2468.6 L977.3,2468.4 L977.7,2468.2 L978.1,2468.2 L978.5,2468.2 L978.9,2468.4 L979.3,2468.7 L979.7,2469.1 L980.1,2469.6 L980.5,2470.2 L980.9,2470.9 L981.3,2471.7 L981.7,2472.6 L982.2,2473.5 L982.6,2474.6 L983.0,2475.6 L983.4,2476.8 L983.8,2478.0 L984.2,2479.2 L984.6,2480.5 L985.0,2481.8 L985.4,2483.1 L985.8,2484.4 L986.2,2485.7 L986.6,2487.0 L987.0,2488.3 L987.5,2489.6 L987.9,2490.8 L988.3,2492.0 L988.7,2493.2 L989.1,2494.4 L989.5,2495.5 L989.9,2496.5 L990.3,2497.5 L990.7,2498.5 L991.1,2499.4 L991.5,2500.3 L991.9,2501.1 L992.3,2501.8 L992.8,2502.5 L993.2,2503.2 L993.6,2503.8 L994.0,2504.4 L994.4,2504.9 L994.8,2505.4 L995.2,2505.8 L995.6,2506.2 L996.0,2506.6 L996.4,2506.9 L996.8,2507.2 L997.2,2507.5 L997.6,2507.8 L998.1,2508.0 L998.5,2508.2 L998.9,2508.3 L999.3,2508.5 L999.7,2508.6 L1000.1,2508.8 L1000.5,2508.9 L1000.9,2509.0 L1001.3,2509.0 L1001.7,2509.1 L1002.1,2509.2 L1002.5,2509.2 L1002.9,2509.3 L1003.4,2509.3 L1003.8,2509.3 L1004.2,2509.4 L1004.6,2509.4 L1005.0,2509.4 L1005.4,2509.4 L1005.8,2509.5 L1006.2,2509.5 L1006.6,2509.5 L1007.0,2509.5 L1007.4,2509.5 L1007.8,2509.5 L1008.2,2509.5 L1008.7,2509.5 L1009.1,2509.5 L1009.5,2509.5 L1009.9,2509.5 L1010.3,2509.5 L1010.7,2509.6 L1011.1,2509.6 L1011.5,2509.6 L1011.9,2509.6 L1012.3,2509.6 L1012.7,2509.6 L1013.1,2509.6 L1013.5,2509.6 L1014.0,2509.6 L1014.4,2509.6 L1014.8,2509.6 L1015.2,2509.6 L1015.6,2509.6 L1016.0,2509.6 L1016.4,2509.6 L1016.8,2509.6 L1017.2,2509.6 L1017.6,2509.6 L1018.0,2509.6 L1018.4,2509.6 L1018.8,2509.6 L1019.3,2509.6 L1019.7,2509.6 L1020.1,2509.6 L1020.5,2509.6 L1020.9,2509.6 L1021.3,2509.6 L1021.7,2509.6 L1022.1,2509.6 L1022.5,2509.6 L1022.9,2509.6 L1023.3,2509.6 L1023.7,2509.6 L1024.1,2509.6 L1024.6,2509.6 L1025.0,2509.6 L1025.4,2509.6 L1025.8,2509.6 L1026.2,2509.6 L1026.6,2509.6 L1027.0,2509.6 L1027.4,2509.6 L1027.8,2509.6 L1028.2,2509.6 L1028.6,2509.6 L1029.0,2509.6 L1029.4,2509.6 L1029.9,2509.6 L1030.3,2509.6 L1030.7,2509.6 L1031.1,2509.6 L1031.5,2509.6 L1031.9,2509.6 L1032.3,2509.6 L1032.7,2509.6 L1033.1,2509.6 L1033.5,2509.7 L1033.9,2509.7 L1034.3,2509.7 L1034.7,2509.7 L1035.2,2509.7 L1035.6,2509.7 L1036.0,2509.7 L1036.4,2509.7 L1036.8,2509.7 L1037.2,2509.7 L1037.6,2509.7 L1038.0,2509.7 L1038.4,2509.7 L1038.8,2509.7 L1039.2,2509.7 L1039.6,2509.7 L1040.0,2509.7 L1040.4,2509.7 L1040.9,2509.7 L1041.3,2509.7 L1041.7,2509.7 L1042.1,2509.7 L1042.5,2509.7 L1042.9,2509.7 L1043.3,2509.7 L1043.7,2509.7 L1044.1,2509.7 L1044.5,2509.7 L1044.9,2509.7 L1045.3,2509.7 L1045.7,2509.7 L1046.2,2509.7 L1046.6,2509.7 L1047.0,2509.7 L1047.4,2509.7 L1047.8,2509.7 L1048.2,2509.7 L1048.6,2509.7 L1049.0,2509.7 L1049.4,2509.7 L1049.8,2509.7 L1050.2,2509.7 L1050.6,2509.7 L1051.0,2509.7 L1051.5,2509.7 L1051.9,2509.7 L1052.3,2509.7 L1052.7,2509.7 L1053.1,2509.7 L1053.5,2509.7 L1053.9,2509.7 L1054.3,2509.7 L1054.7,2509.7 L1055.1,2509.7 L1055.5,2509.7 L1055.9,2509.7 L1056.3,2509.7 L1056.8,2509.7 L1057.2,2509.7 L1057.6,2509.7 L1058.0,2509.7 L1058.4,2509.7 L1058.8,2509.7 L1059.2,2509.7 L1059.6,2509.7 L1060.0,2509.7 L1060.4,2509.7 L1060.8,2509.7 L1061.2,2509.7 L1061.6,2509.7 L1062.1,2509.7 L1062.5,2509.7 L1062.9,2509.7 L1063.3,2509.7 L1063.7,2509.7 L1064.1,2509.7 L1064.5,2509.7 L1064.9,2509.7 L1065.3,2509.7 L1065.7,2509.7 L1066.1,2509.7 L1066.5,2509.7 L1066.9,2509.7 L1067.4,2509.8 L1067.8,2509.8 L1068.2,2509.8 L1068.6,2509.8 L1069.0,2509.8 L1069.4,2509.8 L1069.8,2509.8 L1070.2,2509.8 L1070.6,2509.8 L1071.0,2509.8 L1071.4,2509.8 L1071.8,2509.8 L1072.2,2509.8 L1072.7,2509.8 L1073.1,2509.8 L1073.5,2509.8 L1073.9,2509.8 L1074.3,2509.8 L1074.7,2509.8 L1075.1,2509.8 L1075.5,2509.8 L1075.9,2509.8 L1076.3,2509.8 L1076.7,2509.8 L1077.1,2509.8 L1077.5,2509.8 L1078.0,2509.8 L1078.4,2509.8 L1078.8,2509.8 L1079.2,2509.8 L1079.6,2509.8 L1080.0,2509.8 L1080.4,2509.8 L1080.8,2509.8 L1081.2,2509.8 L1081.6,2509.8 L1082.0,2509.8 L1082.4,2509.8 L1082.8,2509.8 L1083.3,2509.8 L1083.7,2509.8 L1084.1,2509.8 L1084.5,2509.8 L1084.9,2509.8 L1085.3,2509.8 L1085.7,2509.8 L1086.1,2509.8 L1086.5,2509.8 L1086.9,2509.8 L1087.3,2509.8 L1087.7,2509.8 L1088.1,2509.8 L1088.6,2509.8 L1089.0,2509.8 L1089.4,2509.8 L1089.8,2509.8 L1090.2,2509.8 L1090.6,2509.8 L1091.0,2509.8 L1091.4,2509.8 L1091.8,2509.8 L1092.2,2509.8 L1092.6,2509.8 L1093.0,2509.8 L1093.4,2509.8 L1093.9,2509.8 L1094.3,2509.8 L1094.7,2509.8 L1095.1,2509.8 L1095.5,2509.8 L1095.9,2509.8 L1096.3,2509.8 L1096.7,2509.8 L1097.1,2509.8 L1097.5,2509.8 L1097.9,2509.8 L1098.3,2509.8 L1098.7,2509.8 L1099.2,2509.8 L1099.6,2509.8 L1100.0,2509.8 L1100.4,2509.8 L1100.8,2509.8 L1101.2,2509.8 L1101.6,2509.8 L1102.0,2509.8 L1102.4,2509.8 L1102.8,2509.8 L1103.2,2509.8 L1103.6,2509.7 L1104.0,2509.7 L1104.5,2509.7 L1104.9,2509.6 L1105.3,2509.6 L1105.7,2509.5 L1106.1,2509.5 L1106.5,2509.4 L1106.9,2509.3 L1107.3,2509.2 L1107.7,2509.1 L1108.1,2508.9 L1108.5,2508.8 L1108.9,2508.6 L1109.3,2508.3 L1109.8,2508.1 L1110.2,2507.7 L1110.6,2507.4 L1111.0,2507.0 L1111.4,2506.5 L1111.8,2505.9 L1112.2,2505.3 L1112.6,2504.6 L1113.0,2503.7 L1113.4,2502.8 L1113.8,2501.8 L1114.2,2500.6 L1114.6,2499.3 L1115.1,2497.8 L1115.5,2496.2 L1115.9,2494.4 L1116.3,2492.4 L1116.7,2490.2 L1117.1,2487.8 L1117.5,2485.2 L1117.9,2482.3 L1118.3,2479.2 L1118.7,2475.8 L1119.1,2472.1 L1119.5,2468.2 L1119.9,2464.0 L1120.4,2459.5 L1120.8,2454.7 L1121.2,2449.6 L1121.6,2444.2 L1122.0,2438.5 L1122.4,2432.6 L1122.8,2426.3 L1123.2,2419.9 L1123.6,2413.2 L1124.0,2406.3 L1124.4,2399.2 L1124.8,2391.9 L1125.2,2384.5 L1125.7,2377.0 L1126.1,2369.5 L1126.5,2361.9 L1126.9,2354.4 L1127.3,2346.9 L1127.7,2339.5 L1128.1,2332.3 L1128.5,2325.3 L1128.9,2318.5 L1129.3,2312.0 L1129.7,2305.9 L1130.1,2300.1 L1130.5,2294.8 L1131.0,2290.0 L1131.4,2285.6 L1131.8,2281.8 L1132.2,2278.6 L1132.6,2276.0 L1133.0,2274.0 L1133.4,2272.6 L1133.8,2271.9 L1134.2,2271.8 L1134.6,2272.4 L1135.0,2273.7 L1135.4,2275.5 L1135.8,2278.0 L1136.3,2281.1 L1136.7,2284.8 L1137.1,2289.0 L1137.5,2293.8 L1137.9,2299.0 L1138.3,2304.7 L1138.7,2310.7 L1139.1,2317.1 L1139.5,2323.8 L1139.9,2330.8 L1140.3,2338.0 L1140.7,2345.3 L1141.1,2352.8 L1141.6,2360.4 L1142.0,2367.9 L1142.4,2375.5 L1142.8,2383.0 L1143.2,2390.4 L1143.6,2397.7 L1144.0,2404.8 L1144.4,2411.8 L1144.8,2418.5 L1145.2,2425.0 L1145.6,2431.3 L1146.0,2437.3 L1146.4,2443.0 L1146.9,2448.5 L1147.3,2453.7 L1147.7,2458.5 L1148.1,2463.1 L1148.5,2467.4 L1148.9,2471.4 L1149.3,2475.1 L1149.7,2478.5 L1150.1,2481.7 L1150.5,2484.7 L1150.9,2487.4 L1151.3,2489.8 L1151.7,2492.1 L1152.2,2494.1 L1152.6,2495.9 L1153.0,2497.6 L1153.4,2499.1 L1153.8,2500.4 L1154.2,2501.6 L1154.6,2502.7 L1155.0,2503.6 L1155.4,2504.5 L1155.8,2505.2 L1156.2,2505.9 L1156.6,2506.4 L1157.0,2506.9 L1157.5,2507.4 L1157.9,2507.8 L1158.3,2508.1 L1158.7,2508.4 L1159.1,2508.6 L1159.5,2508.8 L1159.9,2509.0 L1160.3,2509.2 L1160.7,2509.3 L1161.1,2509.4 L1161.5,2509.5 L1161.9,2509.6 L1162.3,2509.7 L1162.8,2509.7 L1163.2,2509.8 L1163.6,2509.8 L1164.0,2509.8 L1164.4,2509.9 L1164.8,2509.9 L1165.2,2509.9 L1165.6,2509.9 L1166.0,2509.9 L1166.4,2509.9 L1166.8,2509.9 L1167.2,2510.0 L1167.6,2510.0 L1168.1,2510.0 L1168.5,2510.0 L1168.9,2510.0 L1169.3,2510.0 L1169.7,2510.0 L1170.1,2510.0 L1170.5,2510.0 L1170.9,2510.0 L1171.3,2510.0 L1171.7,2510.0 L1172.1,2510.0 L1172.5,2510.0 L1172.9,2510.0 L1173.4,2510.0 L1173.8,2510.0 L1174.2,2510.0 L1174.6,2510.0 L1175.0,2510.0 L1175.4,2510.0 L1175.8,2510.0 L1176.2,2510.0 L1176.6,2510.0 L1177.0,2510.0 L1177.4,2510.0 L1177.8,2510.0 L1178.2,2510.0 L1178.7,2510.0 L1179.1,2510.0 L1179.5,2510.0 L1179.9,2510.0 L1180.3,2510.0 L1180.7,2510.0 L1181.1,2510.0 L1181.5,2510.0 L1181.9,2510.0 L1182.3,2510.0 L1182.7,2510.0 L1183.1,2510.0 L1183.5,2510.0 L1184.0,2510.0 L1184.4,2510.0 L1184.8,2510.0 L1185.2,2510.0 L1185.6,2510.0 L1186.0,2510.0 L1186.4,2510.0 L1186.8,2510.0 L1187.2,2510.0 L1187.6,2510.0 L1188.0,2510.0 L1188.4,2510.0 L1188.8,2510.0 L1189.3,2510.0 L1189.7,2510.0 L1190.1,2510.0 L1190.5,2510.0 L1190.9,2510.0 L1191.3,2510.0 L1191.7,2510.0 L1192.1,2510.0 L1192.5,2510.0 L1192.9,2510.0 L1193.3,2510.0 L1193.7,2510.0 L1194.1,2510.0 L1194.6,2510.0 L1195.0,2510.0 L1195.4,2510.0 L1195.8,2510.0 L1196.2,2510.0 L1196.6,2510.0 L1197.0,2510.0 L1197.4,2510.0 L1197.8,2510.0 L1198.2,2510.0 L1198.6,2510.0 L1199.0,2510.0 L1199.4,2510.0 L1199.9,2510.0 L1200.3,2510.0 L1200.7,2510.0 L1201.1,2510.0 L1201.5,2510.0 L1201.9,2510.0 L1202.3,2510.0 L1202.7,2510.0 L1203.1,2510.0 L1203.5,2510.0 L1203.9,2510.0 L1204.3,2510.0 L1204.7,2510.0 L1205.2,2510.0 L1205.6,2510.0 L1206.0,2510.0 L1206.4,2510.0 L1206.8,2510.0 L1207.2,2510.0 L1207.6,2510.0 L1208.0,2510.0 L1208.4,2510.0 L1208.8,2510.0 L1209.2,2510.0 L1209.6,2510.0 L1210.0,2510.0 L1210.5,2510.0 L1210.9,2510.0 L1211.3,2510.0 L1211.7,2510.1 L1212.1,2510.1 L1212.5,2510.1 L1212.9,2510.1 L1213.3,2510.1 L1213.7,2510.1 L1214.1,2510.1 L1214.5,2510.1 L1214.9,2510.1 L1215.3,2510.1 L1215.8,2510.1 L1216.2,2510.1 L1216.6,2510.1 L1217.0,2510.1 L1217.4,2510.1 L1217.8,2510.1 L1218.2,2510.1 L1218.6,2510.1 L1219.0,2510.1 L1219.4,2510.1 L1219.8,2510.1 L1220.2,2510.1 L1220.6,2510.1 L1221.1,2510.1 L1221.5,2510.1 L1221.9,2510.1 L1222.3,2510.1 L1222.7,2510.1 L1223.1,2510.1 L1223.5,2510.1 L1223.9,2510.1 L1224.3,2510.1 L1224.7,2510.1 L1225.1,2510.1 L1225.5,2510.1 L1225.9,2510.1 L1226.4,2510.1 L1226.8,2510.1 L1227.2,2510.1 L1227.6,2510.1 L1228.0,2510.1 L1228.4,2510.1 L1228.8,2510.1 L1229.2,2510.1 L1229.6,2510.1 L1230.0,2510.1 L1230.4,2510.1 L1230.8,2510.1 L1231.2,2510.1 L1231.7,2510.1 L1232.1,2510.1 L1232.5,2510.1 L1232.9,2510.1 L1233.3,2510.1 L1233.6,2510.1 M1246.0,2510.1 L1246.3,2510.1 L1246.7,2510.1 L1247.1,2510.1 L1247.6,2510.1 L1248.0,2510.1 L1248.4,2510.1 L1248.8,2510.1 L1249.2,2510.1 L1249.6,2510.1 L1250.0,2510.1 L1250.4,2510.1 L1250.8,2510.1 L1251.2,2510.1 L1251.6,2510.1 L1252.0,2510.1 L1252.4,2510.1 L1252.9,2510.1 L1253.3,2510.1 L1253.7,2510.1 L1254.1,2510.1 L1254.5,2510.1 L1254.9,2510.1 L1255.3,2510.1 L1255.7,2510.1 L1256.1,2510.1 L1256.5,2510.1 L1256.9,2510.1 L1257.3,2510.1 L1257.7,2510.1 L1258.2,2510.1 L1258.6,2510.1 L1259.0,2510.1 L1259.4,2510.1 L1259.8,2510.1 L1260.2,2510.1 L1260.6,2510.1 L1261.0,2510.1 L1261.4,2510.1 L1261.8,2510.1 L1262.2,2510.1 L1262.6,2510.1 L1263.0,2510.1 L1263.5,2510.1 L1263.9,2510.1 L1264.3,2510.1 L1264.7,2510.1 L1265.1,2510.1 L1265.5,2510.1 L1265.9,2510.1 L1266.3,2510.1 L1266.7,2510.1 L1267.1,2510.1 L1267.5,2510.1 L1267.9,2510.1 L1268.3,2510.1 L1268.8,2510.1 L1269.2,2510.1 L1269.6,2510.1 L1270.0,2510.1 L1270.4,2510.1 L1270.8,2510.1 L1271.2,2510.1 L1271.6,2510.1 L1272.0,2510.1 L1272.4,2510.1 L1272.8,2510.1 L1273.2,2510.1 L1273.6,2510.1 L1274.1,2510.1 L1274.5,2510.1 L1274.9,2510.1 L1275.3,2510.1 L1275.7,2510.1 L1276.1,2510.1 L1276.5,2510.1 L1276.9,2510.1 L1277.3,2510.1 L1277.7,2510.1 L1278.1,2510.1 L1278.5,2510.1 L1278.9,2510.1 L1279.4,2510.1 L1279.8,2510.1 L1280.2,2510.1 L1280.6,2510.1 L1281.0,2510.1 L1281.4,2510.1 L1281.8,2510.1 L1282.2,2510.1 L1282.6,2510.1 L1283.0,2510.1 L1283.4,2510.1 L1283.8,2510.1 L1284.2,2510.1 L1284.7,2510.1 L1285.1,2510.1 L1285.5,2510.1 L1285.9,2510.1 L1286.3,2510.1 L1286.7,2510.1 L1287.1,2510.1 L1287.5,2510.1 L1287.9,2510.1 L1288.3,2510.1 L1288.7,2510.1 L1289.1,2510.1 L1289.5,2510.1 L1290.0,2510.1 L1290.4,2510.1 L1290.8,2510.1 L1291.2,2510.1 L1291.6,2510.1 L1292.0,2510.1 L1292.4,2510.1 L1292.8,2510.1 L1293.2,2510.1 L1293.6,2510.1 L1294.0,2510.1 L1294.4,2510.1 L1294.8,2510.1 L1295.3,2510.1 L1295.7,2510.1 L1296.1,2510.2 L1296.5,2510.2 L1296.9,2510.2 L1297.3,2510.2 L1297.7,2510.2 L1298.1,2510.2 L1298.5,2510.2 L1298.9,2510.2 L1299.3,2510.2 L1299.7,2510.2 L1300.1,2510.2 L1300.6,2510.2 L1301.0,2510.2 L1301.4,2510.2 L1301.8,2510.2 L1302.2,2510.2 L1302.6,2510.2 L1303.0,2510.2 L1303.4,2510.2 L1303.8,2510.2 L1304.2,2510.2 L1304.6,2510.2 L1305.0,2510.2 L1305.4,2510.2 L1305.9,2510.2 L1306.3,2510.2 L1306.7,2510.2 L1307.1,2510.2 L1307.5,2510.2 L1307.9,2510.2 L1308.3,2510.2 L1308.7,2510.2 L1309.1,2510.2 L1309.5,2510.2 L1309.9,2510.2 L1310.3,2510.2 L1310.7,2510.2 L1311.2,2510.2 L1311.6,2510.2 L1312.0,2510.2 L1312.4,2510.2 L1312.8,2510.2 L1313.2,2510.2 L1313.6,2510.2 L1314.0,2510.2 L1314.4,2510.2 L1314.8,2510.2 L1315.2,2510.2 L1315.6,2510.2 L1316.0,2510.2 L1316.5,2510.2 L1316.9,2510.2 L1317.3,2510.2 L1317.7,2510.2 L1318.1,2510.2 L1318.5,2510.2 L1318.9,2510.2 L1319.3,2510.2 L1319.7,2510.2 L1320.1,2510.2 L1320.5,2510.2 L1320.9,2510.2 L1321.3,2510.2 L1321.8,2510.2 L1322.2,2510.2 L1322.6,2510.2 L1323.0,2510.2 L1323.4,2510.2 L1323.8,2510.2 L1324.2,2510.2 L1324.6,2510.2 L1325.0,2510.2 L1325.4,2510.2 L1325.8,2510.2 L1326.2,2510.2 L1326.6,2510.2 L1327.1,2510.2 L1327.5,2510.2 L1327.9,2510.2 L1328.3,2510.2 L1328.7,2510.2 L1329.1,2510.2 L1329.5,2510.2 L1329.9,2510.2 L1330.3,2510.2 L1330.7,2510.2 L1331.1,2510.2 L1331.5,2510.2 L1331.9,2510.2 L1332.4,2510.2 L1332.8,2510.2 L1333.2,2510.2 L1333.6,2510.2 L1334.0,2510.2 L1334.4,2510.2 L1334.8,2510.2 L1335.2,2510.2 L1335.6,2510.2 L1336.0,2510.2 L1336.4,2510.2 L1336.8,2510.2 L1337.2,2510.2 L1337.7,2510.2 L1338.1,2510.2 L1338.5,2510.2 L1338.9,2510.2 L1339.3,2510.2 L1339.7,2510.2 L1340.1,2510.2 L1340.5,2510.2 L1340.9,2510.2 L1341.3,2510.2 L1341.7,2510.2 L1342.1,2510.2 L1342.5,2510.2 L1343.0,2510.2 L1343.4,2510.2 L1343.8,2510.2 L1344.2,2510.2 L1344.6,2510.2 L1345.0,2510.2 L1345.4,2510.2 L1345.8,2510.2 L1346.2,2510.2 L1346.6,2510.2 L1347.0,2510.2 L1347.4,2510.2 L1347.8,2510.2 L1348.3,2510.2 L1348.7,2510.2 L1349.1,2510.2 L1349.5,2510.2 L1349.9,2510.2 L1350.3,2510.2 L1350.7,2510.2 L1351.1,2510.2 L1351.5,2510.2 L1351.9,2510.2 L1352.3,2510.2 L1352.7,2510.2 L1353.1,2510.2 L1353.6,2510.2 L1354.0,2510.2 L1354.4,2510.2 L1354.8,2510.2 L1355.2,2510.2 L1355.6,2510.2 L1356.0,2510.2 L1356.4,2510.2 L1356.8,2510.2 L1357.2,2510.2 L1357.6,2510.2 L1358.0,2510.2 L1358.4,2510.2 L1358.8,2510.2 L1359.3,2510.2 L1359.7,2510.2 L1360.1,2510.2 L1360.5,2510.2 L1360.9,2510.2 L1361.3,2510.2 L1361.7,2510.2 L1362.1,2510.2 L1362.5,2510.2 L1362.9,2510.2 L1363.3,2510.2 L1363.7,2510.2 L1364.1,2510.2 L1364.6,2510.2 L1364.9,2510.2 M1376.0,2510.2 L1376.0,2510.2 L1376.4,2510.2 L1376.8,2510.2 L1377.2,2510.2 L1377.6,2510.2 L1378.0,2510.2 L1378.4,2510.2 L1378.8,2510.2 L1379.2,2510.2 L1379.6,2510.2 L1380.0,2510.2 L1380.5,2510.2 L1380.9,2510.2 L1381.3,2510.2 L1381.7,2510.2 L1382.1,2510.2 L1382.5,2510.2 L1382.9,2510.2 L1383.3,2510.2 L1383.7,2510.2 L1384.1,2510.2 L1384.5,2510.2 L1384.9,2510.2 L1385.3,2510.2 L1385.8,2510.2 L1386.2,2510.2 L1386.6,2510.2 L1387.0,2510.2 L1387.4,2510.2 L1387.8,2510.2 L1388.2,2510.2 L1388.6,2510.2 L1389.0,2510.2 L1389.4,2510.2 L1389.8,2510.2 L1390.2,2510.2 L1390.6,2510.2 L1391.1,2510.2 L1391.5,2510.2 L1391.9,2510.2 L1392.3,2510.2 L1392.7,2510.2 L1393.1,2510.2 L1393.5,2510.2 L1393.9,2510.2 L1394.3,2510.2 L1394.7,2510.2 L1395.1,2510.2 L1395.5,2510.2 L1395.9,2510.2 L1396.4,2510.2 L1396.8,2510.2 L1397.2,2510.2 L1397.6,2510.2 L1398.0,2510.2 L1398.4,2510.2 L1398.8,2510.2 L1399.2,2510.2 L1399.6,2510.2 L1400.0,2510.2 L1400.4,2510.2 L1400.8,2510.2 L1401.2,2510.2 L1401.7,2510.2 L1402.1,2510.2 L1402.5,2510.2 L1402.9,2510.2 L1403.3,2510.2 L1403.7,2510.2 L1404.1,2510.2 L1404.5,2510.2 L1404.9,2510.2 L1405.3,2510.2 L1405.7,2510.2 L1406.1,2510.2 L1406.5,2510.2 L1407.0,2510.2 L1407.4,2510.2 L1407.8,2510.2 L1408.2,2510.2 L1408.6,2510.2 L1409.0,2510.2 L1409.4,2510.2 L1409.8,2510.2 L1410.2,2510.2 L1410.6,2510.2 L1411.0,2510.2 L1411.4,2510.2 L1411.8,2510.2 L1412.3,2510.2 L1412.7,2510.2 L1413.1,2510.2 L1413.5,2510.2 L1413.9,2510.2 L1414.3,2510.2 L1414.7,2510.2 L1415.1,2510.2 L1415.5,2510.2 L1415.9,2510.2 L1416.3,2510.2 L1416.7,2510.2 L1417.1,2510.2 L1417.6,2510.2 L1418.0,2510.2 L1418.4,2510.2 L1418.8,2510.2 L1419.2,2510.2 L1419.6,2510.2 L1420.0,2510.2 L1420.4,2510.2 L1420.8,2510.2 L1421.2,2510.2 L1421.6,2510.2 L1422.0,2510.2 L1422.4,2510.2 L1422.9,2510.2 L1423.3,2510.2 L1423.7,2510.2 L1424.1,2510.2 L1424.5,2510.2 L1424.9,2510.2 L1425.3,2510.2 L1425.7,2510.2 L1426.1,2510.2 L1426.5,2510.2 L1426.9,2510.2 L1427.3,2510.2 L1427.7,2510.2 L1428.2,2510.2 L1428.6,2510.2 L1429.0,2510.2 L1429.4,2510.2 L1429.8,2510.2 L1430.2,2510.2 L1430.6,2510.2 L1431.0,2510.2 L1431.4,2510.2 L1431.8,2510.2 L1432.2,2510.2 L1432.6,2510.2 L1433.0,2510.2 L1433.5,2510.2 L1433.9,2510.2 L1434.3,2510.2 L1434.7,2510.2 L1435.1,2510.2 L1435.5,2510.2 L1435.9,2510.2 L1436.3,2510.2 L1436.7,2510.2 L1437.1,2510.2 L1437.5,2510.2 L1437.9,2510.2 L1438.3,2510.2 L1438.8,2510.2 L1439.2,2510.2 L1439.6,2510.2 L1440.0,2510.2 L1440.4,2510.2 L1440.8,2510.2 L1441.2,2510.2 L1441.6,2510.2 L1442.0,2510.2 L1442.4,2510.2 L1442.8,2510.2 L1443.2,2510.2 L1443.6,2510.2 L1444.1,2510.2 L1444.5,2510.2 L1444.9,2510.2 L1445.3,2510.2 L1445.7,2510.2 L1446.1,2510.2 L1446.5,2510.2 L1446.9,2510.2 L1447.3,2510.2 L1447.7,2510.1 L1448.1,2510.1 L1448.5,2510.1 L1448.9,2510.1 L1449.4,2510.0 L1449.8,2510.0 L1450.2,2510.0 L1450.6,2509.9 L1451.0,2509.8 L1451.4,2509.8 L1451.8,2509.7 L1452.2,2509.6 L1452.6,2509.5 L1453.0,2509.3 L1453.4,2509.2 L1453.8,2509.0 L1454.2,2508.8 L1454.7,2508.6 L1455.1,2508.4 L1455.5,2508.1 L1455.9,2507.8 L1456.3,2507.5 L1456.7,2507.1 L1457.1,2506.6 L1457.5,2506.2 L1457.9,2505.6 L1458.3,2505.1 L1458.7,2504.4 L1459.1,2503.7 L1459.5,2503.0 L1460.0,2502.1 L1460.4,2501.2 L1460.8,2500.3 L1461.2,2499.2 L1461.6,2498.1 L1462.0,2496.9 L1462.4,2495.6 L1462.8,2494.3 L1463.2,2492.9 L1463.6,2491.3 L1464.0,2489.8 L1464.4,2488.1 L1464.8,2486.4 L1465.3,2484.6 L1465.7,2482.8 L1466.1,2480.9 L1466.5,2479.0 L1466.9,2477.0 L1467.3,2475.0 L1467.7,2473.0 L1468.1,2471.0 L1468.5,2469.0 L1468.9,2467.0 L1469.3,2465.0 L1469.7,2463.1 L1470.1,2461.2 L1470.6,2459.4 L1471.0,2457.7 L1471.4,2456.1 L1471.8,2454.5 L1472.2,2453.1 L1472.6,2451.8 L1473.0,2450.6 L1473.4,2449.6 L1473.8,2448.8 L1474.2,2448.0 L1474.6,2447.5 L1475.0,2447.1 L1475.4,2446.9 L1475.9,2446.9 L1476.3,2447.0 L1476.7,2447.4 L1477.1,2447.8 L1477.5,2448.5 L1477.9,2449.3 L1478.3,2450.3 L1478.7,2451.4 L1479.1,2452.6 L1479.5,2454.0 L1479.9,2455.5 L1480.3,2457.1 L1480.7,2458.8 L1481.2,2460.6 L1481.6,2462.5 L1482.0,2464.4 L1482.4,2466.3 L1482.8,2468.3 L1483.2,2470.3 L1483.6,2472.3 L1484.0,2474.3 L1484.4,2476.3 L1484.8,2478.3 L1485.2,2480.3 L1485.6,2482.2 L1486.0,2484.0 L1486.5,2485.8 L1486.9,2487.5 L1487.3,2489.2 L1487.7,2490.8 L1488.1,2492.4 L1488.5,2493.8 L1488.9,2495.2 L1489.3,2496.5 L1489.7,2497.7 L1490.1,2498.9 L1490.5,2499.9 L1490.9,2500.9 L1491.3,2501.8 L1491.8,2502.7 L1492.2,2503.5 L1492.6,2504.2 L1493.0,2504.9 L1493.4,2505.4 L1493.8,2506.0 L1494.2,2506.5 L1494.6,2506.9 L1495.0,2507.3 L1495.4,2507.7 L1495.8,2508.0 L1496.2,2508.3 L1496.6,2508.6 L1497.1,2508.8 L1497.5,2509.0 L1497.9,2509.2 L1498.3,2509.3 L1498.7,2509.4 L1499.1,2509.6 L1499.5,2509.7 L1499.9,2509.7 L1500.3,2509.8 L1500.7,2509.9 L1501.1,2509.9 L1501.5,2510.0 L1501.9,2510.0 L1502.4,2510.1 L1502.8,2510.1 L1503.2,2510.1 L1503.6,2510.1 L1504.0,2510.2 L1504.4,2510.2 L1504.8,2510.2 L1505.2,2510.2 L1505.6,2510.2 L1506.0,2510.2 L1506.4,2510.2 L1506.8,2510.2 L1507.2,2510.2 L1507.7,2510.2 L1508.1,2510.2 L1508.5,2510.2 L1508.9,2510.2 L1509.3,2510.2 L1509.7,2510.2 L1510.1,2510.2 L1510.5,2510.2 L1510.9,2510.3 L1511.3,2510.3 L1511.7,2510.3 L1512.1,2510.3 L1512.5,2510.3 L1513.0,2510.3 L1513.4,2510.3 L1513.8,2510.3 L1514.2,2510.3 L1514.6,2510.3 L1515.0,2510.3 L1515.4,2510.3 L1515.8,2510.3 L1516.2,2510.3 L1516.6,2510.3 L1517.0,2510.3 L1517.4,2510.3 L1517.8,2510.3 L1518.3,2510.3 L1518.7,2510.3 L1519.1,2510.3 L1519.5,2510.3 L1519.9,2510.3 L1520.3,2510.3 L1520.7,2510.3 L1521.1,2510.3 L1521.5,2510.3 L1521.9,2510.3 L1522.3,2510.3 L1522.7,2510.3 L1523.1,2510.3 L1523.6,2510.3 L1524.0,2510.3 L1524.4,2510.3 L1524.8,2510.3 L1525.2,2510.3 L1525.6,2510.3 L1526.0,2510.3 L1526.4,2510.3 L1526.8,2510.3 L1527.2,2510.3 L1527.6,2510.3 L1528.0,2510.3 L1528.4,2510.3 L1528.9,2510.3 L1529.3,2510.3 L1529.7,2510.3 L1530.1,2510.3 L1530.5,2510.3 L1530.9,2510.3 L1531.3,2510.3 L1531.7,2510.3 L1532.1,2510.3 L1532.5,2510.3 L1532.9,2510.3 L1533.3,2510.3 L1533.7,2510.3 L1534.2,2510.3 L1534.6,2510.3 L1535.0,2510.3 L1535.4,2510.3 L1535.8,2510.3 L1536.2,2510.3 L1536.6,2510.3 L1537.0,2510.3 L1537.4,2510.3 L1537.8,2510.3 L1538.2,2510.3 L1538.6,2510.3 L1539.0,2510.3 L1539.5,2510.3 L1539.9,2510.3 L1540.3,2510.3 L1540.7,2510.3 L1541.1,2510.3 L1541.5,2510.3 L1541.9,2510.3 L1542.3,2510.3 L1542.7,2510.3 L1543.1,2510.3 L1543.5,2510.3 L1543.9,2510.3 L1544.3,2510.3 L1544.8,2510.3 L1545.2,2510.3 L1545.6,2510.3 L1546.0,2510.3 L1546.4,2510.3 L1546.8,2510.3 L1547.2,2510.3 L1547.6,2510.3 L1548.0,2510.3 L1548.4,2510.3 L1548.8,2510.3 L1549.2,2510.3 L1549.6,2510.3 L1550.1,2510.3 L1550.5,2510.2 L1550.9,2510.2 L1551.3,2510.2 L1551.7,2510.2 L1552.1,2510.2 L1552.5,2510.2 L1552.9,2510.2 L1553.3,2510.2 L1553.7,2510.2 L1554.1,2510.2 L1554.5,2510.2 L1554.9,2510.1 L1555.4,2510.1 L1555.8,2510.1 L1556.2,2510.1 L1556.6,2510.0 L1557.0,2510.0 L1557.4,2509.9 L1557.8,2509.8 L1558.2,2509.7 L1558.6,2509.6 L1559.0,2509.5 L1559.4,2509.3 L1559.8,2509.1 L1560.2,2508.9 L1560.7,2508.7 L1561.1,2508.4 L1561.5,2508.0 L1561.9,2507.6 L1562.3,2507.2 L1562.7,2506.7 L1563.1,2506.1 L1563.5,2505.4 L1563.9,2504.6 L1564.3,2503.7 L1564.7,2502.7 L1565.1,2501.5 L1565.5,2500.2 L1566.0,2498.7 L1566.4,2497.1 L1566.8,2495.2 L1567.2,2493.2 L1567.6,2490.9 L1568.0,2488.4 L1568.4,2485.6 L1568.8,2482.5 L1569.2,2479.2 L1569.6,2475.5 L1570.0,2471.5 L1570.4,2467.2 L1570.8,2462.5 L1571.3,2457.5 L1571.7,2452.1 L1572.1,2446.3 L1572.5,2440.1 L1572.9,2433.5 L1573.3,2426.6 L1573.7,2419.2 L1574.1,2411.5 L1574.5,2403.5 L1574.9,2395.1 L1575.3,2386.3 L1575.7,2377.3 L1576.1,2368.1 L1576.6,2358.5 L1577.0,2348.8 L1577.4,2339.0 L1577.8,2329.1 L1578.2,2319.0 L1578.6,2309.0 L1579.0,2299.1 L1579.4,2289.3 L1579.8,2279.6 L1580.2,2270.2 L1580.6,2261.1 L1581.0,2252.4 L1581.4,2244.1 L1581.9,2236.2 L1582.3,2229.0 L1582.7,2222.3 L1583.1,2216.2 L1583.5,2210.9 L1583.9,2206.3 L1584.3,2202.5 L1584.7,2199.5 L1585.1,2197.3 L1585.5,2196.0 L1585.9,2195.5 L1586.3,2195.9 L1586.7,2197.1 L1587.2,2199.2 L1587.6,2202.2 L1588.0,2205.9 L1588.4,2210.5 L1588.8,2215.7 L1589.2,2221.7 L1589.6,2228.3 L1590.0,2235.6 L1590.4,2243.4 L1590.8,2251.6 L1591.2,2260.3 L1591.6,2269.4 L1592.0,2278.8 L1592.5,2288.4 L1592.9,2298.2 L1593.3,2308.2 L1593.7,2318.2 L1594.1,2328.2 L1594.5,2338.1 L1594.9,2348.0 L1595.3,2357.7 L1595.7,2367.2 L1596.1,2376.5 L1596.5,2385.6 L1596.9,2394.3 L1597.3,2402.8 L1597.8,2410.8 L1598.2,2418.6 L1598.6,2425.9 L1599.0,2432.9 L1599.4,2439.5 L1599.8,2445.7 L1600.2,2451.6 L1600.6,2457.0 L1601.0,2462.1 L1601.4,2466.8 L1601.8,2471.2 L1602.2,2475.2 L1602.6,2478.9 L1603.1,2482.3 L1603.5,2485.3 L1603.9,2488.2 L1604.3,2490.7 L1604.7,2493.0 L1605.1,2495.1 L1605.5,2496.9 L1605.9,2498.6 L1606.3,2500.1 L1606.7,2501.4 L1607.1,2502.6 L1607.5,2503.6 L1607.9,2504.5 L1608.4,2505.3 L1608.8,2506.0 L1609.2,2506.6 L1609.6,2507.2 L1610.0,2507.6 L1610.4,2508.0 L1610.8,2508.4 L1611.2,2508.7 L1611.6,2508.9 L1612.0,2509.1 L1612.4,2509.3 L1612.8,2509.5 L1613.2,2509.6 L1613.7,2509.7 L1614.1,2509.8 L1614.5,2509.9 L1614.9,2510.0 L1615.3,2510.0 L1615.7,2510.1 L1616.1,2510.1 L1616.5,2510.1 L1616.9,2510.2 L1617.3,2510.2 L1617.7,2510.2 L1618.1,2510.2 L1618.5,2510.2 L1619.0,2510.2 L1619.4,2510.2 L1619.8,2510.2 L1620.2,2510.3 L1620.6,2510.3 L1621.0,2510.3 L1621.4,2510.3 L1621.8,2510.3 L1622.2,2510.3 L1622.6,2510.3 L1623.0,2510.3 L1623.4,2510.3 L1623.8,2510.3 L1624.3,2510.3 L1624.7,2510.3 L1625.1,2510.3 L1625.5,2510.3 L1625.9,2510.3 L1626.3,2510.2 L1626.7,2510.2 L1627.1,2510.2 L1627.5,2510.2 L1627.9,2510.2 L1628.3,2510.2 L1628.7,2510.2 L1629.1,2510.2 L1629.6,2510.1 L1630.0,2510.1 L1630.4,2510.1 L1630.8,2510.0 L1631.2,2509.9 L1631.6,2509.9 L1632.0,2509.8 L1632.4,2509.7 L1632.8,2509.6 L1633.2,2509.4 L1633.6,2509.2 L1634.0,2509.0 L1634.4,2508.8 L1634.9,2508.5 L1635.3,2508.1 L1635.7,2507.7 L1636.1,2507.3 L1636.5,2506.7 L1636.9,2506.1 L1637.3,2505.4 L1637.7,2504.5 L1638.1,2503.5 L1638.5,2502.4 L1638.9,2501.1 L1639.3,2499.7 L1639.7,2498.1 L1640.2,2496.2 L1640.6,2494.1 L1641.0,2491.7 L1641.4,2489.0 L1641.8,2486.1 L1642.2,2482.8 L1642.6,2479.1 L1643.0,2475.0 L1643.4,2470.5 L1643.8,2465.6 L1644.2,2460.1 L1644.6,2454.2 L1645.0,2447.7 L1645.5,2440.7 L1645.9,2433.1 L1646.3,2424.9 L1646.7,2416.1 L1647.1,2406.7 L1647.5,2396.7 L1647.9,2386.0 L1648.3,2374.7 L1648.7,2362.7 L1649.1,2350.2 L1649.5,2337.0 L1649.9,2323.3 L1650.3,2309.1 L1650.8,2294.4 L1651.2,2279.2 L1651.6,2263.7 L1652.0,2247.8 L1652.4,2231.7 L1652.8,2215.4 L1653.2,2199.0 L1653.6,2182.6 L1654.0,2166.3 L1654.4,2150.1 L1654.8,2134.3 L1655.2,2118.8 L1655.6,2103.8 L1656.1,2089.4 L1656.5,2075.6 L1656.9,2062.7 L1657.3,2050.6 L1657.7,2039.5 L1658.1,2029.4 L1658.5,2020.5 L1658.9,2012.8 L1659.3,2006.3 L1659.7,2001.2 L1660.1,1997.4 L1660.5,1995.1 L1660.9,1994.1 L1661.4,1994.5 L1661.8,1996.4 L1662.2,1999.7 L1662.6,2004.3 L1663.0,2010.3 L1663.4,2017.5 L1663.8,2026.0 L1664.2,2035.6 L1664.6,2046.4 L1665.0,2058.1 L1665.4,2070.7 L1665.8,2084.2 L1666.2,2098.4 L1666.7,2113.2 L1667.1,2128.5 L1667.5,2144.2 L1667.9,2160.3 L1668.3,2176.6 L1668.7,2193.0 L1669.1,2209.4 L1669.5,2225.7 L1669.9,2241.9 L1670.3,2257.9 L1670.7,2273.5 L1671.1,2288.9 L1671.5,2303.7 L1672.0,2318.2 L1672.4,2332.1 L1672.8,2345.4 L1673.2,2358.2 L1673.6,2370.3 L1674.0,2381.9 L1674.4,2392.8 L1674.8,2403.1 L1675.2,2412.7 L1675.6,2421.7 L1676.0,2430.2 L1676.4,2438.0 L1676.8,2445.2 L1677.3,2451.9 L1677.7,2458.0 L1678.1,2463.6 L1678.5,2468.7 L1678.9,2473.4 L1679.3,2477.6 L1679.7,2481.5 L1680.1,2484.9 L1680.5,2488.0 L1680.9,2490.8 L1681.3,2493.2 L1681.7,2495.4 L1682.1,2497.4 L1682.5,2499.1 L1683.0,2500.6 L1683.4,2502.0 L1683.8,2503.2 L1684.2,2504.2 L1684.6,2505.1 L1685.0,2505.8 L1685.4,2506.5 L1685.8,2507.1 L1686.2,2507.6 L1686.6,2508.0 L1687.0,2508.4 L1687.4,2508.7 L1687.8,2508.9 L1688.3,2509.2 L1688.7,2509.4 L1689.1,2509.5 L1689.5,2509.7 L1689.9,2509.8 L1690.3,2509.9 L1690.7,2509.9 L1691.1,2510.0 L1691.5,2510.1 L1691.9,2510.1 L1692.3,2510.1 L1692.7,2510.2 L1693.1,2510.2 L1693.6,2510.2 L1694.0,2510.2 L1694.4,2510.2 L1694.8,2510.2 L1695.2,2510.3 L1695.6,2510.3 L1696.0,2510.3 L1696.4,2510.3 L1696.8,2510.3 L1697.2,2510.3 L1697.6,2510.3 L1698.0,2510.3 L1698.4,2510.3 L1698.9,2510.3 L1699.3,2510.3 L1699.7,2510.3 L1700.1,2510.3 L1700.5,2510.3 L1700.9,2510.3 L1701.3,2510.3 L1701.7,2510.3 L1702.1,2510.3 L1702.5,2510.3 L1702.9,2510.3 L1703.3,2510.3 L1703.7,2510.3 L1704.2,2510.3 L1704.6,2510.3 L1705.0,2510.3 L1705.4,2510.3 L1705.8,2510.3 L1706.2,2510.3 L1706.6,2510.3 L1707.0,2510.3 L1707.4,2510.3 L1707.8,2510.3 L1708.2,2510.3 L1708.6,2510.3 L1709.0,2510.3 L1709.5,2510.3 L1709.9,2510.3 L1710.3,2510.3 L1710.7,2510.3 L1711.1,2510.3 L1711.5,2510.3 L1711.9,2510.3 L1712.3,2510.3 L1712.7,2510.3 L1713.1,2510.3 L1713.5,2510.3 L1713.9,2510.3 L1714.3,2510.3 L1714.8,2510.3 L1715.2,2510.3 L1715.6,2510.3 L1716.0,2510.3 L1716.4,2510.3 L1716.8,2510.3 L1717.2,2510.3 L1717.6,2510.3 L1718.0,2510.3 L1718.4,2510.3 L1718.8,2510.3 L1719.2,2510.3 L1719.6,2510.3 L1720.1,2510.3 L1720.5,2510.3 L1720.9,2510.3 L1721.3,2510.3 L1721.7,2510.3 L1722.1,2510.3 L1722.5,2510.3 L1722.9,2510.3 L1723.3,2510.3 L1723.7,2510.3 L1724.1,2510.3 L1724.5,2510.3 L1724.9,2510.3 L1725.4,2510.3 L1725.8,2510.3 L1726.2,2510.3 L1726.6,2510.3 L1727.0,2510.3 L1727.4,2510.3 L1727.8,2510.3 L1728.2,2510.3 L1728.6,2510.3 L1729.0,2510.3 L1729.4,2510.3 L1729.8,2510.3 L1730.2,2510.3 L1730.7,2510.3 L1731.1,2510.3 L1731.5,2510.3 L1731.9,2510.3 L1732.3,2510.3 L1732.7,2510.3 L1733.1,2510.3 L1733.5,2510.3 L1733.9,2510.3 L1734.3,2510.3 L1734.7,2510.3 L1735.1,2510.3 L1735.5,2510.3 L1736.0,2510.3 L1736.4,2510.3 L1736.8,2510.3 L1737.2,2510.3 L1737.6,2510.3 L1738.0,2510.3 L1738.4,2510.3 L1738.8,2510.3 L1739.2,2510.3 L1739.6,2510.3 L1740.0,2510.3 L1740.4,2510.3 L1740.8,2510.3 L1741.3,2510.3 L1741.7,2510.3 L1742.1,2510.3 L1742.5,2510.3 L1742.9,2510.3 L1743.3,2510.3 L1743.7,2510.3 L1744.1,2510.3 L1744.5,2510.3 L1744.9,2510.3 L1745.3,2510.3 L1745.7,2510.3 L1746.1,2510.3 L1746.6,2510.3 L1747.0,2510.3 L1747.4,2510.3 L1747.8,2510.3 L1748.2,2510.3 L1748.6,2510.3 L1749.0,2510.3 L1749.4,2510.3 L1749.8,2510.3 L1750.2,2510.3 L1750.6,2510.3 L1751.0,2510.3 L1751.4,2510.3 L1751.9,2510.3 L1752.3,2510.3 L1752.7,2510.3 L1753.1,2510.3 L1753.5,2510.3 L1753.9,2510.3 L1754.3,2510.3 L1754.7,2510.3 L1755.1,2510.3 L1755.5,2510.3 L1755.9,2510.3 L1756.3,2510.3 L1756.7,2510.3 L1757.2,2510.3 L1757.6,2510.3 L1758.0,2510.3 L1758.4,2510.3 L1758.8,2510.3 L1759.2,2510.3 L1759.6,2510.3 L1760.0,2510.3 L1760.4,2510.3 L1760.8,2510.3 L1761.2,2510.3 L1761.6,2510.3 L1761.9,2510.3 M1774.9,2510.3 L1775.1,2510.3 L1775.5,2510.3 L1775.9,2510.3 L1776.3,2510.3 L1776.7,2510.3 L1777.1,2510.3 L1777.5,2510.3 L1777.9,2510.3 L1778.4,2510.3 L1778.8,2510.3 L1779.2,2510.3 L1779.6,2510.3 L1780.0,2510.3 L1780.4,2510.3 L1780.8,2510.3 L1781.2,2510.3 L1781.6,2510.3 L1782.0,2510.3 L1782.4,2510.3 L1782.8,2510.3 L1783.2,2510.3 L1783.7,2510.3 L1784.1,2510.3 L1784.5,2510.3 L1784.9,2510.3 L1785.3,2510.3 L1785.7,2510.3 L1786.1,2510.3 L1786.5,2510.3 L1786.9,2510.3 L1787.3,2510.3 L1787.7,2510.3 L1788.1,2510.3 L1788.5,2510.3 L1789.0,2510.3 L1789.4,2510.3 L1789.8,2510.3 L1790.2,2510.3 L1790.6,2510.3 L1791.0,2510.3 L1791.4,2510.3 L1791.8,2510.3 L1792.2,2510.3 L1792.6,2510.3 L1793.0,2510.3 L1793.4,2510.3 L1793.8,2510.3 L1794.3,2510.3 L1794.7,2510.3 L1795.1,2510.3 L1795.5,2510.3 L1795.9,2510.3 L1796.3,2510.3 L1796.7,2510.3 L1797.1,2510.3 L1797.5,2510.3 L1797.9,2510.3 L1798.3,2510.3 L1798.7,2510.3 L1799.1,2510.3 L1799.6,2510.3 L1800.0,2510.3 L1800.4,2510.3 L1800.8,2510.3 L1801.2,2510.3 L1801.6,2510.3 L1802.0,2510.3 L1802.4,2510.3 L1802.8,2510.3 L1803.2,2510.3 L1803.6,2510.3 L1804.0,2510.3 L1804.4,2510.3 L1804.9,2510.3 L1805.3,2510.3 L1805.7,2510.3 L1806.1,2510.3 L1806.5,2510.3 L1806.9,2510.3 L1807.3,2510.3 L1807.7,2510.3 L1808.1,2510.3 L1808.5,2510.3 L1808.9,2510.3 L1809.3,2510.3 L1809.7,2510.3 L1810.2,2510.3 L1810.6,2510.3 L1811.0,2510.3 L1811.4,2510.3 L1811.8,2510.3 L1812.2,2510.4 L1812.6,2510.4 L1813.0,2510.4 L1813.4,2510.4 L1813.8,2510.4 L1814.2,2510.4 L1814.6,2510.4 L1815.0,2510.4 L1815.5,2510.4 L1815.9,2510.4 L1816.3,2510.4 L1816.7,2510.4 L1817.1,2510.4 L1817.5,2510.4 L1817.9,2510.4 L1818.3,2510.4 L1818.7,2510.4 L1819.1,2510.4 L1819.5,2510.4 L1819.9,2510.4 L1820.3,2510.4 L1820.8,2510.4 L1821.2,2510.4 L1821.6,2510.4 L1822.0,2510.4 L1822.4,2510.4 L1822.8,2510.4 L1823.2,2510.4 L1823.6,2510.4 L1824.0,2510.4 L1824.4,2510.4 L1824.8,2510.4 L1825.2,2510.4 L1825.6,2510.4 L1826.1,2510.4 L1826.5,2510.4 L1826.9,2510.4 L1827.3,2510.4 L1827.7,2510.4 L1828.1,2510.4 L1828.5,2510.4 L1828.9,2510.4 L1829.3,2510.4 L1829.7,2510.4 L1830.1,2510.4 L1830.5,2510.4 L1830.9,2510.4 L1831.4,2510.4 L1831.8,2510.4 L1832.2,2510.4 L1832.6,2510.4 L1833.0,2510.4 L1833.4,2510.4 L1833.8,2510.4 L1834.2,2510.4 L1834.6,2510.4 L1835.0,2510.4 L1835.4,2510.4 L1835.8,2510.4 L1836.2,2510.4 L1836.7,2510.4 L1837.1,2510.4 L1837.5,2510.4 L1837.9,2510.4 L1838.3,2510.4 L1838.7,2510.4 L1839.1,2510.4 L1839.5,2510.4 L1839.9,2510.4 L1840.3,2510.4 L1840.7,2510.4 L1841.1,2510.4 L1841.5,2510.4 L1842.0,2510.4 L1842.4,2510.4 L1842.8,2510.4 L1843.2,2510.4 L1843.6,2510.4 L1844.0,2510.4 L1844.4,2510.4 L1844.8,2510.4 L1845.2,2510.4 L1845.6,2510.4 L1846.0,2510.4 L1846.4,2510.4 L1846.8,2510.4 L1847.3,2510.4 L1847.7,2510.4 L1848.1,2510.4 L1848.5,2510.4 L1848.9,2510.4 L1849.3,2510.4 L1849.7,2510.4 L1850.1,2510.4 L1850.5,2510.4 L1850.9,2510.4 L1851.3,2510.4 L1851.7,2510.4 L1852.1,2510.4 L1852.6,2510.4 L1853.0,2510.4 L1853.4,2510.4 L1853.8,2510.4 L1854.2,2510.4 L1854.6,2510.4 L1855.0,2510.4 L1855.4,2510.4 L1855.8,2510.4 L1856.2,2510.4 L1856.6,2510.4 L1857.0,2510.4 L1857.4,2510.4 L1857.9,2510.4 L1858.3,2510.4 L1858.7,2510.4 L1859.1,2510.4 L1859.5,2510.4 L1859.9,2510.4 L1860.3,2510.4 L1860.7,2510.4 L1861.1,2510.4 L1861.5,2510.4 L1861.9,2510.4 L1862.3,2510.4 L1862.7,2510.4 L1863.2,2510.4 L1863.6,2510.4 L1864.0,2510.4 L1864.4,2510.4 L1864.8,2510.4 L1865.2,2510.4 L1865.6,2510.4 L1866.0,2510.4 L1866.4,2510.4 L1866.8,2510.4" fill="none" stroke="#000" stroke-width="7.4" stroke-linejoin="round" stroke-linecap="round"/>
<path d="M299.4,2359.2 L326.7,2342.5 M346.3,2330.4 L348.8,2328.8 M368.1,2316.9 L395.4,2300.1 M415.0,2288.1 L417.5,2286.5 M436.9,2274.6 L464.1,2257.8 M483.7,2245.8 L486.2,2244.2 M505.6,2232.3 L532.8,2215.5 M552.4,2203.4 L555.0,2201.9 M832.8,2353.8 L805.8,2336.6 M786.4,2324.2 L783.9,2322.6 M764.8,2310.4 L737.8,2293.2 M718.4,2280.8 L715.9,2279.2 M696.7,2267.0 L669.8,2249.7 M650.4,2237.4 L647.9,2235.8 M628.7,2223.5 L601.7,2206.3 M582.4,2194.0 L579.8,2192.4 M905.4,2280.9 L928.9,2259.2 M945.8,2243.6 L948.0,2241.6 M964.7,2226.2 L988.2,2204.5 M1005.1,2188.9 L1007.3,2186.8 M1024.0,2171.4 L1047.5,2149.7 M1064.4,2134.1 L1066.6,2132.1 M1082.9,2117.0 L1083.6,2116.4 M1265.6,2278.2 L1242.8,2255.8 M1226.4,2239.6 L1224.3,2237.5 M1208.1,2221.6 L1185.3,2199.1 M1169.0,2183.0 L1166.8,2180.9 M1150.7,2164.9 L1127.9,2142.5 M1111.5,2126.3 L1109.4,2124.2 M1445.1,2060.5 L1468.7,2038.8 M1485.6,2023.2 L1487.8,2021.2 M1504.5,2005.8 L1528.1,1984.2 M1545.0,1968.6 L1547.2,1966.6 M1563.9,1951.2 L1587.4,1929.5 M1604.4,1913.9 L1606.6,1911.9 M1622.9,1896.9 L1623.7,1896.2 M1833.7,2056.3 L1810.7,2034.0 M1794.1,2018.0 L1792.0,2015.9 M1775.7,2000.2 L1752.7,1977.9 M1736.1,1961.9 L1734.0,1959.8 M1717.7,1944.0 L1694.7,1921.8 M1678.1,1905.8 L1676.0,1903.7" fill="none" stroke="#9676FF" stroke-width="9" stroke-linecap="round"/>
<line x1="876" y1="1073" x2="1031" y2="1073" stroke="#0000FF" stroke-width="8" stroke-linecap="round" stroke-dasharray="10.2 18.8"/>
<line x1="876.4" y1="1158.3" x2="1014.4" y2="1158.3" stroke="#FF0000" stroke-width="9" stroke-linecap="round" stroke-dasharray="31 23 3 23"/>
<line x1="872" y1="1249.5" x2="1035" y2="1249.5" stroke="#000" stroke-width="8" stroke-linecap="butt"/>
<line x1="236.50" y1="43.00" x2="236.50" y2="2546.75" stroke="#000" stroke-width="7" stroke-linecap="butt"/>
<line x1="1884.50" y1="43.00" x2="1884.50" y2="2533.75" stroke="#000" stroke-width="7" stroke-linecap="butt"/>
<circle cx="236.5" cy="2546.75" r="3.25"/>
<circle cx="1884.5" cy="2533.75" r="3.25"/>
<line x1="233.00" y1="46.50" x2="1888.00" y2="46.50" stroke="#000" stroke-width="7" stroke-linecap="butt"/>
<line x1="236.50" y1="870.70" x2="1884.50" y2="870.70" stroke="#000" stroke-width="7" stroke-linecap="butt"/>
<line x1="236.50" y1="1695.40" x2="1884.50" y2="1695.40" stroke="#000" stroke-width="7" stroke-linecap="butt"/>
<line x1="236.50" y1="2519.00" x2="1884.50" y2="2519.00" stroke="#000" stroke-width="7" stroke-linecap="butt"/>
<line x1="208.25" y1="862.40" x2="236.50" y2="862.40" stroke="#000" stroke-width="6.5" stroke-linecap="round"/>
<line x1="1884.50" y1="862.40" x2="1856.25" y2="862.40" stroke="#000" stroke-width="6.5" stroke-linecap="round"/>
<line x1="208.25" y1="699.22" x2="236.50" y2="699.22" stroke="#000" stroke-width="6.5" stroke-linecap="round"/>
<line x1="1884.50" y1="699.22" x2="1856.25" y2="699.22" stroke="#000" stroke-width="6.5" stroke-linecap="round"/>
<line x1="208.25" y1="536.04" x2="236.50" y2="536.04" stroke="#000" stroke-width="6.5" stroke-linecap="round"/>
<line x1="1884.50" y1="536.04" x2="1856.25" y2="536.04" stroke="#000" stroke-width="6.5" stroke-linecap="round"/>
<line x1="208.25" y1="372.86" x2="236.50" y2="372.86" stroke="#000" stroke-width="6.5" stroke-linecap="round"/>
<line x1="1884.50" y1="372.86" x2="1856.25" y2="372.86" stroke="#000" stroke-width="6.5" stroke-linecap="round"/>
<line x1="208.25" y1="209.68" x2="236.50" y2="209.68" stroke="#000" stroke-width="6.5" stroke-linecap="round"/>
<line x1="1884.50" y1="209.68" x2="1856.25" y2="209.68" stroke="#000" stroke-width="6.5" stroke-linecap="round"/>
<line x1="222.25" y1="780.81" x2="236.50" y2="780.81" stroke="#000" stroke-width="6.5" stroke-linecap="round"/>
<line x1="1884.50" y1="780.81" x2="1870.25" y2="780.81" stroke="#000" stroke-width="6.5" stroke-linecap="round"/>
<line x1="222.25" y1="617.63" x2="236.50" y2="617.63" stroke="#000" stroke-width="6.5" stroke-linecap="round"/>
<line x1="1884.50" y1="617.63" x2="1870.25" y2="617.63" stroke="#000" stroke-width="6.5" stroke-linecap="round"/>
<line x1="222.25" y1="454.45" x2="236.50" y2="454.45" stroke="#000" stroke-width="6.5" stroke-linecap="round"/>
<line x1="1884.50" y1="454.45" x2="1870.25" y2="454.45" stroke="#000" stroke-width="6.5" stroke-linecap="round"/>
<line x1="222.25" y1="291.27" x2="236.50" y2="291.27" stroke="#000" stroke-width="6.5" stroke-linecap="round"/>
<line x1="1884.50" y1="291.27" x2="1870.25" y2="291.27" stroke="#000" stroke-width="6.5" stroke-linecap="round"/>
<line x1="222.25" y1="128.09" x2="236.50" y2="128.09" stroke="#000" stroke-width="6.5" stroke-linecap="round"/>
<line x1="1884.50" y1="128.09" x2="1870.25" y2="128.09" stroke="#000" stroke-width="6.5" stroke-linecap="round"/>
<line x1="208.25" y1="1281.20" x2="236.50" y2="1281.20" stroke="#000" stroke-width="6.5" stroke-linecap="round"/>
<line x1="1884.50" y1="1281.20" x2="1856.25" y2="1281.20" stroke="#000" stroke-width="6.5" stroke-linecap="round"/>
<line x1="222.25" y1="1612.56" x2="236.50" y2="1612.56" stroke="#000" stroke-width="6.5" stroke-linecap="round"/>
<line x1="1884.50" y1="1612.56" x2="1870.25" y2="1612.56" stroke="#000" stroke-width="6.5" stroke-linecap="round"/>
<line x1="222.25" y1="1529.72" x2="236.50" y2="1529.72" stroke="#000" stroke-width="6.5" stroke-linecap="round"/>
<line x1="1884.50" y1="1529.72" x2="1870.25" y2="1529.72" stroke="#000" stroke-width="6.5" stroke-linecap="round"/>
<line x1="222.25" y1="1446.88" x2="236.50" y2="1446.88" stroke="#000" stroke-width="6.5" stroke-linecap="round"/>
<line x1="1884.50" y1="1446.88" x2="1870.25" y2="1446.88" stroke="#000" stroke-width="6.5" stroke-linecap="round"/>
<line x1="222.25" y1="1364.04" x2="236.50" y2="1364.04" stroke="#000" stroke-width="6.5" stroke-linecap="round"/>
<line x1="1884.50" y1="1364.04" x2="1870.25" y2="1364.04" stroke="#000" stroke-width="6.5" stroke-linecap="round"/>
<line x1="222.25" y1="1198.36" x2="236.50" y2="1198.36" stroke="#000" stroke-width="6.5" stroke-linecap="round"/>
<line x1="1884.50" y1="1198.36" x2="1870.25" y2="1198.36" stroke="#000" stroke-width="6.5" stroke-linecap="round"/>
<line x1="222.25" y1="1115.52" x2="236.50" y2="1115.52" stroke="#000" stroke-width="6.5" stroke-linecap="round"/>
<line x1="1884.50" y1="1115.52" x2="1870.25" y2="1115.52" stroke="#000" stroke-width="6.5" stroke-linecap="round"/>
<line x1="222.25" y1="1032.68" x2="236.50" y2="1032.68" stroke="#000" stroke-width="6.5" stroke-linecap="round"/>
<line x1="1884.50" y1="1032.68" x2="1870.25" y2="1032.68" stroke="#000" stroke-width="6.5" stroke-linecap="round"/>
<line x1="222.25" y1="949.84" x2="236.50" y2="949.84" stroke="#000" stroke-width="6.5" stroke-linecap="round"/>
<line x1="1884.50" y1="949.84" x2="1870.25" y2="949.84" stroke="#000" stroke-width="6.5" stroke-linecap="round"/>
<line x1="208.25" y1="2347.40" x2="236.50" y2="2347.40" stroke="#000" stroke-width="6.5" stroke-linecap="round"/>
<line x1="1884.50" y1="2347.40" x2="1856.25" y2="2347.40" stroke="#000" stroke-width="6.5" stroke-linecap="round"/>
<line x1="208.25" y1="2184.30" x2="236.50" y2="2184.30" stroke="#000" stroke-width="6.5" stroke-linecap="round"/>
<line x1="1884.50" y1="2184.30" x2="1856.25" y2="2184.30" stroke="#000" stroke-width="6.5" stroke-linecap="round"/>
<line x1="208.25" y1="2021.20" x2="236.50" y2="2021.20" stroke="#000" stroke-width="6.5" stroke-linecap="round"/>
<line x1="1884.50" y1="2021.20" x2="1856.25" y2="2021.20" stroke="#000" stroke-width="6.5" stroke-linecap="round"/>
<line x1="208.25" y1="1858.10" x2="236.50" y2="1858.10" stroke="#000" stroke-width="6.5" stroke-linecap="round"/>
<line x1="1884.50" y1="1858.10" x2="1856.25" y2="1858.10" stroke="#000" stroke-width="6.5" stroke-linecap="round"/>
<line x1="222.25" y1="2428.95" x2="236.50" y2="2428.95" stroke="#000" stroke-width="6.5" stroke-linecap="round"/>
<line x1="1884.50" y1="2428.95" x2="1870.25" y2="2428.95" stroke="#000" stroke-width="6.5" stroke-linecap="round"/>
<line x1="222.25" y1="2265.85" x2="236.50" y2="2265.85" stroke="#000" stroke-width="6.5" stroke-linecap="round"/>
<line x1="1884.50" y1="2265.85" x2="1870.25" y2="2265.85" stroke="#000" stroke-width="6.5" stroke-linecap="round"/>
<line x1="222.25" y1="2102.75" x2="236.50" y2="2102.75" stroke="#000" stroke-width="6.5" stroke-linecap="round"/>
<line x1="1884.50" y1="2102.75" x2="1870.25" y2="2102.75" stroke="#000" stroke-width="6.5" stroke-linecap="round"/>
<line x1="222.25" y1="1939.65" x2="236.50" y2="1939.65" stroke="#000" stroke-width="6.5" stroke-linecap="round"/>
<line x1="1884.50" y1="1939.65" x2="1870.25" y2="1939.65" stroke="#000" stroke-width="6.5" stroke-linecap="round"/>
<line x1="222.25" y1="1776.55" x2="236.50" y2="1776.55" stroke="#000" stroke-width="6.5" stroke-linecap="round"/>
<line x1="1884.50" y1="1776.55" x2="1870.25" y2="1776.55" stroke="#000" stroke-width="6.5" stroke-linecap="round"/>
<line x1="208.25" y1="46.50" x2="236.50" y2="46.50" stroke="#000" stroke-width="6.5" stroke-linecap="round"/>
<line x1="208.25" y1="862.40" x2="236.50" y2="862.40" stroke="#000" stroke-width="6.5" stroke-linecap="round"/>
<line x1="1884.50" y1="862.40" x2="1856.25" y2="862.40" stroke="#000" stroke-width="6.5" stroke-linecap="round"/>
<line x1="208.25" y1="1695.40" x2="236.50" y2="1695.40" stroke="#000" stroke-width="6.5" stroke-linecap="round"/>
<line x1="1884.50" y1="1695.40" x2="1856.25" y2="1695.40" stroke="#000" stroke-width="6.5" stroke-linecap="round"/>
<line x1="208.25" y1="2510.50" x2="236.50" y2="2510.50" stroke="#000" stroke-width="6.5" stroke-linecap="round"/>
<line x1="1884.50" y1="2510.50" x2="1856.25" y2="2510.50" stroke="#000" stroke-width="6.5" stroke-linecap="round"/>
<line x1="419.60" y1="46.50" x2="419.60" y2="60.75" stroke="#000" stroke-width="6.5" stroke-linecap="round"/>
<line x1="419.60" y1="870.70" x2="419.60" y2="884.95" stroke="#000" stroke-width="6.5" stroke-linecap="round"/>
<line x1="419.60" y1="1695.40" x2="419.60" y2="1709.65" stroke="#000" stroke-width="6.5" stroke-linecap="round"/>
<line x1="419.60" y1="2519.00" x2="419.60" y2="2533.25" stroke="#000" stroke-width="6.5" stroke-linecap="round"/>
<line x1="602.70" y1="46.50" x2="602.70" y2="74.75" stroke="#000" stroke-width="6.5" stroke-linecap="round"/>
<line x1="602.70" y1="870.70" x2="602.70" y2="898.95" stroke="#000" stroke-width="6.5" stroke-linecap="round"/>
<line x1="602.70" y1="1695.40" x2="602.70" y2="1723.65" stroke="#000" stroke-width="6.5" stroke-linecap="round"/>
<line x1="602.70" y1="2519.00" x2="602.70" y2="2547.25" stroke="#000" stroke-width="6.5" stroke-linecap="round"/>
<line x1="785.80" y1="46.50" x2="785.80" y2="60.75" stroke="#000" stroke-width="6.5" stroke-linecap="round"/>
<line x1="785.80" y1="870.70" x2="785.80" y2="884.95" stroke="#000" stroke-width="6.5" stroke-linecap="round"/>
<line x1="785.80" y1="1695.40" x2="785.80" y2="1709.65" stroke="#000" stroke-width="6.5" stroke-linecap="round"/>
<line x1="785.80" y1="2519.00" x2="785.80" y2="2533.25" stroke="#000" stroke-width="6.5" stroke-linecap="round"/>
<line x1="968.90" y1="46.50" x2="968.90" y2="74.75" stroke="#000" stroke-width="6.5" stroke-linecap="round"/>
<line x1="968.90" y1="870.70" x2="968.90" y2="898.95" stroke="#000" stroke-width="6.5" stroke-linecap="round"/>
<line x1="968.90" y1="1695.40" x2="968.90" y2="1723.65" stroke="#000" stroke-width="6.5" stroke-linecap="round"/>
<line x1="968.90" y1="2519.00" x2="968.90" y2="2547.25" stroke="#000" stroke-width="6.5" stroke-linecap="round"/>
<line x1="1152.00" y1="46.50" x2="1152.00" y2="60.75" stroke="#000" stroke-width="6.5" stroke-linecap="round"/>
<line x1="1152.00" y1="870.70" x2="1152.00" y2="884.95" stroke="#000" stroke-width="6.5" stroke-linecap="round"/>
<line x1="1152.00" y1="1695.40" x2="1152.00" y2="1709.65" stroke="#000" stroke-width="6.5" stroke-linecap="round"/>
<line x1="1152.00" y1="2519.00" x2="1152.00" y2="2533.25" stroke="#000" stroke-width="6.5" stroke-linecap="round"/>
<line x1="1335.10" y1="46.50" x2="1335.10" y2="74.75" stroke="#000" stroke-width="6.5" stroke-linecap="round"/>
<line x1="1335.10" y1="870.70" x2="1335.10" y2="898.95" stroke="#000" stroke-width="6.5" stroke-linecap="round"/>
<line x1="1335.10" y1="1695.40" x2="1335.10" y2="1723.65" stroke="#000" stroke-width="6.5" stroke-linecap="round"/>
<line x1="1335.10" y1="2519.00" x2="1335.10" y2="2547.25" stroke="#000" stroke-width="6.5" stroke-linecap="round"/>
<line x1="1518.20" y1="46.50" x2="1518.20" y2="60.75" stroke="#000" stroke-width="6.5" stroke-linecap="round"/>
<line x1="1518.20" y1="870.70" x2="1518.20" y2="884.95" stroke="#000" stroke-width="6.5" stroke-linecap="round"/>
<line x1="1518.20" y1="1695.40" x2="1518.20" y2="1709.65" stroke="#000" stroke-width="6.5" stroke-linecap="round"/>
<line x1="1518.20" y1="2519.00" x2="1518.20" y2="2533.25" stroke="#000" stroke-width="6.5" stroke-linecap="round"/>
<line x1="1701.30" y1="46.50" x2="1701.30" y2="74.75" stroke="#000" stroke-width="6.5" stroke-linecap="round"/>
<line x1="1701.30" y1="870.70" x2="1701.30" y2="898.95" stroke="#000" stroke-width="6.5" stroke-linecap="round"/>
<line x1="1701.30" y1="1695.40" x2="1701.30" y2="1723.65" stroke="#000" stroke-width="6.5" stroke-linecap="round"/>
<line x1="1701.30" y1="2519.00" x2="1701.30" y2="2547.25" stroke="#000" stroke-width="6.5" stroke-linecap="round"/>
<text transform="translate(187.23,879.60) scale(1,1.04)" font-family="'Liberation Sans', sans-serif" font-size="57" fill="#000" text-anchor="end" >0.0</text>
<text transform="translate(187.87,716.42) scale(1,1.04)" font-family="'Liberation Sans', sans-serif" font-size="57" fill="#000" text-anchor="end" >0.2</text>
<text transform="translate(186.67,553.24) scale(1,1.04)" font-family="'Liberation Sans', sans-serif" font-size="57" fill="#000" text-anchor="end" >0.4</text>
<text transform="translate(187.50,390.06) scale(1,1.04)" font-family="'Liberation Sans', sans-serif" font-size="57" fill="#000" text-anchor="end" >0.6</text>
<text transform="translate(187.48,226.88) scale(1,1.04)" font-family="'Liberation Sans', sans-serif" font-size="57" fill="#000" text-anchor="end" >0.8</text>
<text transform="translate(187.23,63.70) scale(1,1.04)" font-family="'Liberation Sans', sans-serif" font-size="57" fill="#000" text-anchor="end" >1.0</text>
<text transform="translate(187.78,1298.40) scale(1,1.04)" font-family="'Liberation Sans', sans-serif" font-size="57" fill="#000" text-anchor="end" >0.1</text>
<text transform="translate(187.23,1712.60) scale(1,1.04)" font-family="'Liberation Sans', sans-serif" font-size="57" fill="#000" text-anchor="end" >0.0</text>
<text transform="translate(187.23,2527.70) scale(1,1.04)" font-family="'Liberation Sans', sans-serif" font-size="57" fill="#000" text-anchor="end" >0.0</text>
<text transform="translate(187.87,2364.60) scale(1,1.04)" font-family="'Liberation Sans', sans-serif" font-size="57" fill="#000" text-anchor="end" >0.2</text>
<text transform="translate(186.67,2201.50) scale(1,1.04)" font-family="'Liberation Sans', sans-serif" font-size="57" fill="#000" text-anchor="end" >0.4</text>
<text transform="translate(187.50,2038.40) scale(1,1.04)" font-family="'Liberation Sans', sans-serif" font-size="57" fill="#000" text-anchor="end" >0.6</text>
<text transform="translate(187.48,1875.30) scale(1,1.04)" font-family="'Liberation Sans', sans-serif" font-size="57" fill="#000" text-anchor="end" >0.8</text>
<text transform="translate(237.00,2611.50) scale(1,1.04)" font-family="'Liberation Sans', sans-serif" font-size="57" fill="#000" text-anchor="middle" >0</text>
<text transform="translate(603.20,2611.50) scale(1,1.04)" font-family="'Liberation Sans', sans-serif" font-size="57" fill="#000" text-anchor="middle" >10</text>
<text transform="translate(969.40,2611.50) scale(1,1.04)" font-family="'Liberation Sans', sans-serif" font-size="57" fill="#000" text-anchor="middle" >20</text>
<text transform="translate(1335.60,2611.50) scale(1,1.04)" font-family="'Liberation Sans', sans-serif" font-size="57" fill="#000" text-anchor="middle" >30</text>
<text transform="translate(1701.80,2611.50) scale(1,1.04)" font-family="'Liberation Sans', sans-serif" font-size="57" fill="#000" text-anchor="middle" >40</text>
<text transform="translate(600.55,2690.50) scale(1,1.04)" font-family="'Liberation Sans', sans-serif" font-size="75" fill="#000" text-anchor="start" >Electron kinetic energy (eV)</text>
<text transform="translate(77.9,1552.74) rotate(-90) scale(1,1.06)" font-family="'Liberation Sans', sans-serif" font-size="75.2" xml:space="preserve">Intensity  (arb.units)</text>
<text transform="translate(283.81,203.00) scale(1,1.02)" font-family="'Liberation Serif', serif" font-size="113.5" fill="#000" text-anchor="start" >(a)</text>
<text transform="translate(300.91,1052.30) scale(1,1.02)" font-family="'Liberation Serif', serif" font-size="113.5" fill="#000" text-anchor="start" >(b)</text>
<text transform="translate(273.01,1839.00) scale(1,1.02)" font-family="'Liberation Serif', serif" font-size="113.5" fill="#000" text-anchor="start" >(c)</text>
<text transform="translate(429.55,616.50) scale(1,1.04)" font-family="'Liberation Sans', sans-serif" fill="#6C00DC" xml:space="preserve"><tspan font-size="69.6" dy="-0.00">3s</tspan><tspan font-size="57.4" dy="-25.19">2</tspan><tspan font-size="69.6" dy="25.19">3p</tspan><tspan font-size="57.4" dy="-25.19">3</tspan><tspan font-size="69.6" font-style="italic" dy="25.19">n</tspan><tspan font-size="69.6" dy="0.00">d</tspan><tspan font-size="57.4" dy="-25.19">1</tspan></text>
<text transform="translate(429.49,702.20) scale(1,1.04)" font-family="'Liberation Sans', sans-serif" fill="#6C00DC" xml:space="preserve"><tspan font-size="69.6" dy="-0.00">D</tspan><tspan font-size="57.4" dy="26.44">p</tspan><tspan font-size="69.6" dy="-26.44">D</tspan><tspan font-size="57.4" dy="26.44">s</tspan><tspan font-size="69.6" dy="-26.44"> (sat)</tspan></text>
<text transform="translate(1025.55,361.20) scale(1,1.04)" font-family="'Liberation Sans', sans-serif" fill="#6C00DC" xml:space="preserve"><tspan font-size="69.6" dy="-0.00">3s</tspan><tspan font-size="57.4" dy="-25.19">1</tspan><tspan font-size="69.6" dy="25.19">3p</tspan><tspan font-size="57.4" dy="-25.19">5</tspan></text>
<text transform="translate(1062.69,446.70) scale(1,1.04)" font-family="'Liberation Sans', sans-serif" fill="#6C00DC" xml:space="preserve"><tspan font-size="69.6" dy="-0.00">D</tspan><tspan font-size="57.4" dy="26.44">p</tspan><tspan font-size="69.6" dy="-26.44">D</tspan><tspan font-size="57.4" dy="26.44">s</tspan></text>
<text transform="translate(1394.15,135.20) scale(1,1.04)" font-family="'Liberation Sans', sans-serif" fill="#6C00DC" xml:space="preserve"><tspan font-size="69.6" dy="-0.00">3s</tspan><tspan font-size="57.4" dy="-25.19">2</tspan><tspan font-size="69.6" dy="25.19">3p</tspan><tspan font-size="57.4" dy="-25.19">4</tspan></text>
<text transform="translate(1413.29,220.40) scale(1,1.04)" font-family="'Liberation Sans', sans-serif" fill="#6C00DC" xml:space="preserve"><tspan font-size="69.6" dy="-0.00">D</tspan><tspan font-size="57.4" dy="26.44">p</tspan><tspan font-size="69.6" dy="-26.44">D</tspan><tspan font-size="57.4" dy="26.44">p</tspan></text>
<text transform="translate(935.63,776.70) scale(1,1.04)" font-family="'Liberation Sans', sans-serif" fill="#000" xml:space="preserve"><tspan font-size="57.4" dy="-25.19">1</tspan><tspan font-size="69.6" dy="25.19">P</tspan></text>
<text transform="translate(1102.41,610.70) scale(1,1.04)" font-family="'Liberation Sans', sans-serif" fill="#000" xml:space="preserve"><tspan font-size="57.4" dy="-25.19">3</tspan><tspan font-size="69.6" dy="25.19">P</tspan></text>
<text transform="translate(1430.43,784.30) scale(1,1.04)" font-family="'Liberation Sans', sans-serif" fill="#000" xml:space="preserve"><tspan font-size="57.4" dy="-25.19">1</tspan><tspan font-size="69.6" dy="25.19">S</tspan></text>
<text transform="translate(1541.43,525.50) scale(1,1.04)" font-family="'Liberation Sans', sans-serif" fill="#000" xml:space="preserve"><tspan font-size="57.4" dy="-25.19">1</tspan><tspan font-size="69.6" dy="25.19">D</tspan></text>
<text transform="translate(1614.61,327.40) scale(1,1.04)" font-family="'Liberation Sans', sans-serif" fill="#000" xml:space="preserve"><tspan font-size="57.4" dy="-25.19">3</tspan><tspan font-size="69.6" dy="25.19">P</tspan></text>
<text transform="translate(1050.23,1096.20) scale(1,1.04)" font-family="'Liberation Sans', sans-serif" fill="#000" xml:space="preserve"><tspan font-size="70" dy="-0.00">3s</tspan><tspan font-size="56" dy="-26.35">1</tspan><tspan font-size="70" dy="26.35">3p</tspan><tspan font-size="56" dy="-26.35">4</tspan><tspan font-size="70" dy="26.35">3d</tspan><tspan font-size="56" dy="-26.35">1</tspan></text>
<text transform="translate(1049.86,1182.60) scale(1,1.04)" font-family="'Liberation Sans', sans-serif" font-size="70" fill="#000" text-anchor="start" >Auger</text>
<text transform="translate(1049.72,1273.0) scale(1,1.04)" font-family="'Liberation Sans', sans-serif" fill="#000" xml:space="preserve"><tspan font-size="70">Sum (</tspan><tspan font-size="76" fill="#6C00DC">D</tspan><tspan font-size="76" fill="#6C00DC" dy="27.12">s</tspan><tspan font-size="76" fill="#6C00DC" dy="-27.12">C</tspan><tspan font-size="70" dx="3">)</tspan></text>
<text transform="translate(499.18,1948.90) scale(1,1.04)" font-family="'Liberation Sans', sans-serif" fill="#6C00DC" xml:space="preserve"><tspan font-size="86.8" dy="-0.00">D</tspan><tspan font-size="69.6" dy="32.88">s</tspan><tspan font-size="86.8" dy="-32.88">C +</tspan></text>
<text transform="translate(406.28,2087.20) scale(1,1.04)" font-family="'Liberation Sans', sans-serif" fill="#6C00DC" xml:space="preserve"><tspan font-size="86.8" dy="-0.00">D</tspan><tspan font-size="69.6" dy="32.88">p</tspan><tspan font-size="86.8" dy="-32.88">D</tspan><tspan font-size="69.6" dy="32.88">s</tspan><tspan font-size="86.8" dy="-32.88">(sat)</tspan></text>
<text transform="translate(981.08,2000.60) scale(1,1.04)" font-family="'Liberation Sans', sans-serif" fill="#6C00DC" xml:space="preserve"><tspan font-size="86.8" dy="-0.00">D</tspan><tspan font-size="69.6" dy="32.88">p</tspan><tspan font-size="86.8" dy="-32.88">D</tspan><tspan font-size="69.6" dy="32.88">s</tspan></text>
<text transform="translate(1533.52,1809.70) scale(1,1.04)" font-family="'Liberation Sans', sans-serif" fill="#6C00DC" xml:space="preserve"><tspan font-size="90" dy="-0.00">D</tspan><tspan font-size="72" dy="34.42">p</tspan><tspan font-size="90" dy="-34.42">D</tspan><tspan font-size="72" dy="34.42">p</tspan></text></svg></body></html>
